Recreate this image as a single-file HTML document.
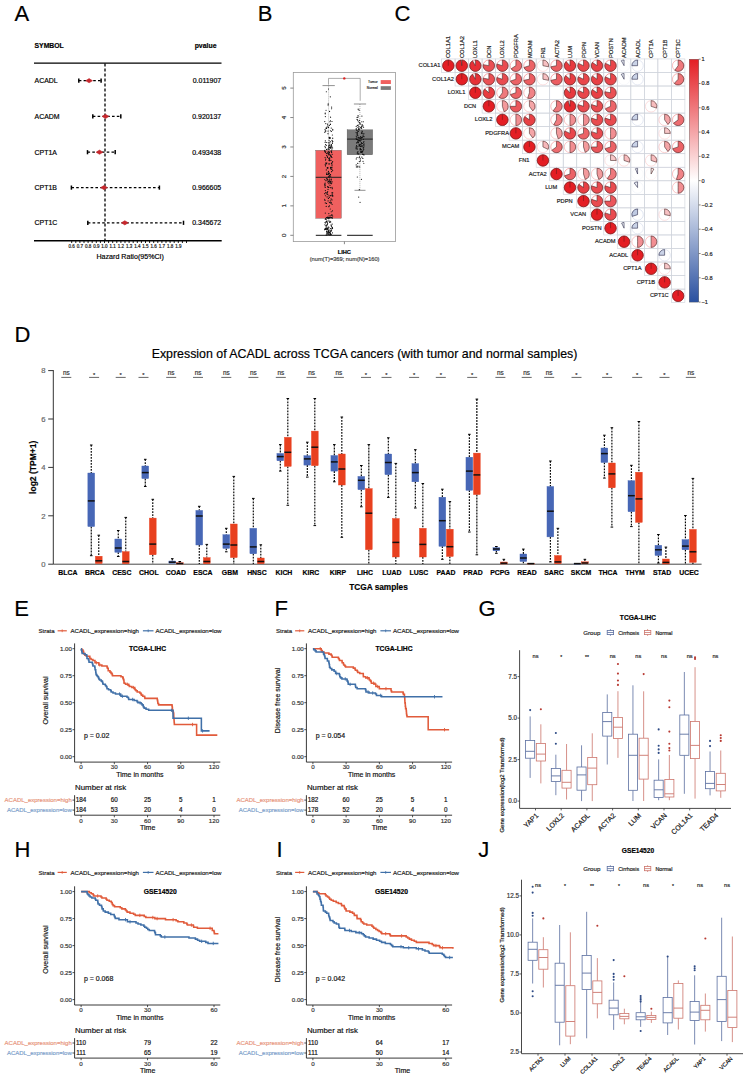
<!DOCTYPE html>
<html><head><meta charset="utf-8"><style>
html,body{margin:0;padding:0;background:#fff;}
body{width:749px;height:1078px;overflow:hidden;position:relative;}
svg{position:absolute;left:0;top:0;display:block;}
text{font-family:"Liberation Sans",sans-serif;stroke:currentColor;stroke-width:0.18px;}
</style></head><body>
<svg width="749" height="1078" viewBox="0 0 749 1078">
<rect x="0" y="0" width="749" height="1078" fill="#fff"/>
<text x="14.4" y="20.6" font-size="22" text-anchor="start" fill="#000" color="#000">A</text>
<text x="257.8" y="20.6" font-size="22" text-anchor="start" fill="#000" color="#000">B</text>
<text x="394.4" y="20.6" font-size="22" text-anchor="start" fill="#000" color="#000">C</text>
<text x="14.4" y="341.6" font-size="22" text-anchor="start" fill="#000" color="#000">D</text>
<text x="14.3" y="615.7" font-size="22" text-anchor="start" fill="#000" color="#000">E</text>
<text x="274.6" y="615.9" font-size="22" text-anchor="start" fill="#000" color="#000">F</text>
<text x="478.4" y="616.2" font-size="22" text-anchor="start" fill="#000" color="#000">G</text>
<text x="14.4" y="856.7" font-size="22" text-anchor="start" fill="#000" color="#000">H</text>
<text x="276.5" y="856.7" font-size="22" text-anchor="start" fill="#000" color="#000">I</text>
<text x="478.2" y="856.7" font-size="22" text-anchor="start" fill="#000" color="#000">J</text>
<text x="34.5" y="48.4" font-size="6.85" text-anchor="start" fill="#000" color="#000" font-weight="bold">SYMBOL</text>
<text x="216.5" y="48" font-size="6.9" text-anchor="end" fill="#000" color="#000" font-weight="bold">pvalue</text>
<line x1="34" y1="63.1" x2="221.5" y2="63.1" stroke="#000" stroke-width="1.4"/>
<line x1="34" y1="240.8" x2="221.7" y2="240.8" stroke="#000" stroke-width="1.4"/>
<line x1="105" y1="63.5" x2="105" y2="240.5" stroke="#000" stroke-width="1.3" stroke-dasharray="3 2"/>
<text x="34.5" y="83.3" font-size="6.95" text-anchor="start" fill="#000" color="#000">ACADL</text>
<text x="221.2" y="83.2" font-size="6.95" text-anchor="end" fill="#000" color="#000">0.011907</text>
<line x1="78.8" y1="80.7" x2="101.1" y2="80.7" stroke="#000" stroke-width="1.2" stroke-dasharray="2.6 2.2"/>
<line x1="78.8" y1="78.6" x2="78.8" y2="82.8" stroke="#000" stroke-width="1.5"/>
<line x1="101.1" y1="78.6" x2="101.1" y2="82.8" stroke="#000" stroke-width="1.5"/>
<path d="M85.7 80.7 L89.1 78.6 L92.5 80.7 L89.1 82.8 Z" stroke="#c0282d" stroke-width="0.6" fill="#c8262c"/>
<text x="34.5" y="119" font-size="6.95" text-anchor="start" fill="#000" color="#000">ACADM</text>
<text x="221.2" y="118.9" font-size="6.95" text-anchor="end" fill="#000" color="#000">0.920137</text>
<line x1="92.8" y1="116.4" x2="120.8" y2="116.4" stroke="#000" stroke-width="1.2" stroke-dasharray="2.6 2.2"/>
<line x1="92.8" y1="114.3" x2="92.8" y2="118.5" stroke="#000" stroke-width="1.5"/>
<line x1="120.8" y1="114.3" x2="120.8" y2="118.5" stroke="#000" stroke-width="1.5"/>
<path d="M102.1 116.4 L105.5 114.3 L108.9 116.4 L105.5 118.5 Z" stroke="#c0282d" stroke-width="0.6" fill="#c8262c"/>
<text x="34.5" y="154.8" font-size="6.95" text-anchor="start" fill="#000" color="#000">CPT1A</text>
<text x="221.2" y="154.7" font-size="6.95" text-anchor="end" fill="#000" color="#000">0.493438</text>
<line x1="87.5" y1="152.2" x2="115.2" y2="152.2" stroke="#000" stroke-width="1.2" stroke-dasharray="2.6 2.2"/>
<line x1="87.5" y1="150.1" x2="87.5" y2="154.3" stroke="#000" stroke-width="1.5"/>
<line x1="115.2" y1="150.1" x2="115.2" y2="154.3" stroke="#000" stroke-width="1.5"/>
<path d="M96.1 152.2 L99.5 150.1 L102.9 152.2 L99.5 154.3 Z" stroke="#c0282d" stroke-width="0.6" fill="#c8262c"/>
<text x="34.5" y="190.2" font-size="6.95" text-anchor="start" fill="#000" color="#000">CPT1B</text>
<text x="221.2" y="190.1" font-size="6.95" text-anchor="end" fill="#000" color="#000">0.966605</text>
<line x1="71.4" y1="187.6" x2="159.4" y2="187.6" stroke="#000" stroke-width="1.2" stroke-dasharray="2.6 2.2"/>
<line x1="71.4" y1="185.5" x2="71.4" y2="189.7" stroke="#000" stroke-width="1.5"/>
<line x1="159.4" y1="185.5" x2="159.4" y2="189.7" stroke="#000" stroke-width="1.5"/>
<path d="M100.6 187.6 L104 185.5 L107.4 187.6 L104 189.7 Z" stroke="#c0282d" stroke-width="0.6" fill="#c8262c"/>
<text x="34.5" y="225.4" font-size="6.95" text-anchor="start" fill="#000" color="#000">CPT1C</text>
<text x="221.2" y="225.3" font-size="6.95" text-anchor="end" fill="#000" color="#000">0.345672</text>
<line x1="87.8" y1="222.8" x2="183.5" y2="222.8" stroke="#000" stroke-width="1.2" stroke-dasharray="2.6 2.2"/>
<line x1="87.8" y1="220.7" x2="87.8" y2="224.9" stroke="#000" stroke-width="1.5"/>
<line x1="183.5" y1="220.7" x2="183.5" y2="224.9" stroke="#000" stroke-width="1.5"/>
<path d="M121.4 222.8 L124.8 220.7 L128.2 222.8 L124.8 224.9 Z" stroke="#c0282d" stroke-width="0.6" fill="#c8262c"/>
<line x1="71.7" y1="240.8" x2="71.7" y2="243" stroke="#000" stroke-width="0.9"/>
<line x1="75.8" y1="240.8" x2="75.8" y2="243" stroke="#000" stroke-width="0.9"/>
<line x1="79.9" y1="240.8" x2="79.9" y2="243" stroke="#000" stroke-width="0.9"/>
<line x1="84" y1="240.8" x2="84" y2="243" stroke="#000" stroke-width="0.9"/>
<line x1="88.1" y1="240.8" x2="88.1" y2="243" stroke="#000" stroke-width="0.9"/>
<line x1="92.2" y1="240.8" x2="92.2" y2="243" stroke="#000" stroke-width="0.9"/>
<line x1="96.3" y1="240.8" x2="96.3" y2="243" stroke="#000" stroke-width="0.9"/>
<line x1="100.4" y1="240.8" x2="100.4" y2="243" stroke="#000" stroke-width="0.9"/>
<line x1="104.5" y1="240.8" x2="104.5" y2="243" stroke="#000" stroke-width="0.9"/>
<line x1="108.6" y1="240.8" x2="108.6" y2="243" stroke="#000" stroke-width="0.9"/>
<line x1="112.7" y1="240.8" x2="112.7" y2="243" stroke="#000" stroke-width="0.9"/>
<line x1="116.8" y1="240.8" x2="116.8" y2="243" stroke="#000" stroke-width="0.9"/>
<line x1="120.9" y1="240.8" x2="120.9" y2="243" stroke="#000" stroke-width="0.9"/>
<line x1="125" y1="240.8" x2="125" y2="243" stroke="#000" stroke-width="0.9"/>
<line x1="129.1" y1="240.8" x2="129.1" y2="243" stroke="#000" stroke-width="0.9"/>
<line x1="133.2" y1="240.8" x2="133.2" y2="243" stroke="#000" stroke-width="0.9"/>
<line x1="137.3" y1="240.8" x2="137.3" y2="243" stroke="#000" stroke-width="0.9"/>
<line x1="141.4" y1="240.8" x2="141.4" y2="243" stroke="#000" stroke-width="0.9"/>
<line x1="145.5" y1="240.8" x2="145.5" y2="243" stroke="#000" stroke-width="0.9"/>
<line x1="149.6" y1="240.8" x2="149.6" y2="243" stroke="#000" stroke-width="0.9"/>
<line x1="153.7" y1="240.8" x2="153.7" y2="243" stroke="#000" stroke-width="0.9"/>
<line x1="157.8" y1="240.8" x2="157.8" y2="243" stroke="#000" stroke-width="0.9"/>
<line x1="161.9" y1="240.8" x2="161.9" y2="243" stroke="#000" stroke-width="0.9"/>
<line x1="166" y1="240.8" x2="166" y2="243" stroke="#000" stroke-width="0.9"/>
<line x1="170.1" y1="240.8" x2="170.1" y2="243" stroke="#000" stroke-width="0.9"/>
<line x1="174.2" y1="240.8" x2="174.2" y2="243" stroke="#000" stroke-width="0.9"/>
<line x1="178.3" y1="240.8" x2="178.3" y2="243" stroke="#000" stroke-width="0.9"/>
<line x1="182.4" y1="240.8" x2="182.4" y2="243" stroke="#000" stroke-width="0.9"/>
<line x1="186.5" y1="240.8" x2="186.5" y2="243" stroke="#000" stroke-width="0.9"/>
<text x="71.7" y="247.9" font-size="4.5" text-anchor="middle" fill="#222" color="#222">0.6</text>
<text x="79.9" y="247.9" font-size="4.5" text-anchor="middle" fill="#222" color="#222">0.7</text>
<text x="88.1" y="247.9" font-size="4.5" text-anchor="middle" fill="#222" color="#222">0.8</text>
<text x="96.3" y="247.9" font-size="4.5" text-anchor="middle" fill="#222" color="#222">0.9</text>
<text x="104.5" y="247.9" font-size="4.5" text-anchor="middle" fill="#222" color="#222">1.0</text>
<text x="112.7" y="247.9" font-size="4.5" text-anchor="middle" fill="#222" color="#222">1.1</text>
<text x="120.9" y="247.9" font-size="4.5" text-anchor="middle" fill="#222" color="#222">1.2</text>
<text x="129.1" y="247.9" font-size="4.5" text-anchor="middle" fill="#222" color="#222">1.3</text>
<text x="137.3" y="247.9" font-size="4.5" text-anchor="middle" fill="#222" color="#222">1.4</text>
<text x="145.5" y="247.9" font-size="4.5" text-anchor="middle" fill="#222" color="#222">1.5</text>
<text x="153.7" y="247.9" font-size="4.5" text-anchor="middle" fill="#222" color="#222">1.6</text>
<text x="161.9" y="247.9" font-size="4.5" text-anchor="middle" fill="#222" color="#222">1.7</text>
<text x="170.1" y="247.9" font-size="4.5" text-anchor="middle" fill="#222" color="#222">1.8</text>
<text x="178.3" y="247.9" font-size="4.5" text-anchor="middle" fill="#222" color="#222">1.9</text>
<text x="130.2" y="259" font-size="7.1" text-anchor="middle" fill="#000" color="#000">Hazard Ratio(95%CI)</text>
<text x="364.5" y="357.8" font-size="12.38" text-anchor="middle" fill="#000" color="#000">Expression of ACADL across TCGA cancers (with tumor and normal samples)</text>
<line x1="53.3" y1="370.1" x2="53.3" y2="564.2" stroke="#333" stroke-width="1"/>
<line x1="48.2" y1="564.2" x2="53.3" y2="564.2" stroke="#333" stroke-width="1"/>
<text x="45.6" y="566.95" font-size="7.7" text-anchor="end" fill="#666" color="#666">0</text>
<line x1="48.2" y1="515.8" x2="53.3" y2="515.8" stroke="#333" stroke-width="1"/>
<text x="45.6" y="518.55" font-size="7.7" text-anchor="end" fill="#666" color="#666">2</text>
<line x1="48.2" y1="467.4" x2="53.3" y2="467.4" stroke="#333" stroke-width="1"/>
<text x="45.6" y="470.15" font-size="7.7" text-anchor="end" fill="#666" color="#666">4</text>
<line x1="48.2" y1="419" x2="53.3" y2="419" stroke="#333" stroke-width="1"/>
<text x="45.6" y="421.75" font-size="7.7" text-anchor="end" fill="#666" color="#666">6</text>
<line x1="48.2" y1="370.6" x2="53.3" y2="370.6" stroke="#333" stroke-width="1"/>
<text x="45.6" y="373.35" font-size="7.7" text-anchor="end" fill="#666" color="#666">8</text>
<text x="36" y="467.3" font-size="8.5" text-anchor="middle" fill="#000" color="#000" font-weight="bold" transform="rotate(-90 36 467.3)">log2 (TPM+1)</text>
<line x1="53.3" y1="564.2" x2="701.6" y2="564.2" stroke="#333" stroke-width="0.9"/>
<text x="67.85" y="574.9" font-size="6.9" text-anchor="middle" fill="#000" color="#000" font-weight="bold">BLCA</text>
<text x="94.86" y="574.9" font-size="6.9" text-anchor="middle" fill="#000" color="#000" font-weight="bold">BRCA</text>
<text x="121.86" y="574.9" font-size="6.9" text-anchor="middle" fill="#000" color="#000" font-weight="bold">CESC</text>
<text x="148.87" y="574.9" font-size="6.9" text-anchor="middle" fill="#000" color="#000" font-weight="bold">CHOL</text>
<text x="175.88" y="574.9" font-size="6.9" text-anchor="middle" fill="#000" color="#000" font-weight="bold">COAD</text>
<text x="202.88" y="574.9" font-size="6.9" text-anchor="middle" fill="#000" color="#000" font-weight="bold">ESCA</text>
<text x="229.89" y="574.9" font-size="6.9" text-anchor="middle" fill="#000" color="#000" font-weight="bold">GBM</text>
<text x="256.9" y="574.9" font-size="6.9" text-anchor="middle" fill="#000" color="#000" font-weight="bold">HNSC</text>
<text x="283.91" y="574.9" font-size="6.9" text-anchor="middle" fill="#000" color="#000" font-weight="bold">KICH</text>
<text x="310.91" y="574.9" font-size="6.9" text-anchor="middle" fill="#000" color="#000" font-weight="bold">KIRC</text>
<text x="337.92" y="574.9" font-size="6.9" text-anchor="middle" fill="#000" color="#000" font-weight="bold">KIRP</text>
<text x="364.93" y="574.9" font-size="6.9" text-anchor="middle" fill="#000" color="#000" font-weight="bold">LIHC</text>
<text x="391.93" y="574.9" font-size="6.9" text-anchor="middle" fill="#000" color="#000" font-weight="bold">LUAD</text>
<text x="418.94" y="574.9" font-size="6.9" text-anchor="middle" fill="#000" color="#000" font-weight="bold">LUSC</text>
<text x="445.95" y="574.9" font-size="6.9" text-anchor="middle" fill="#000" color="#000" font-weight="bold">PAAD</text>
<text x="472.96" y="574.9" font-size="6.9" text-anchor="middle" fill="#000" color="#000" font-weight="bold">PRAD</text>
<text x="499.96" y="574.9" font-size="6.9" text-anchor="middle" fill="#000" color="#000" font-weight="bold">PCPG</text>
<text x="526.97" y="574.9" font-size="6.9" text-anchor="middle" fill="#000" color="#000" font-weight="bold">READ</text>
<text x="553.98" y="574.9" font-size="6.9" text-anchor="middle" fill="#000" color="#000" font-weight="bold">SARC</text>
<text x="580.98" y="574.9" font-size="6.9" text-anchor="middle" fill="#000" color="#000" font-weight="bold">SKCM</text>
<text x="607.99" y="574.9" font-size="6.9" text-anchor="middle" fill="#000" color="#000" font-weight="bold">THCA</text>
<text x="635" y="574.9" font-size="6.9" text-anchor="middle" fill="#000" color="#000" font-weight="bold">THYM</text>
<text x="662" y="574.9" font-size="6.9" text-anchor="middle" fill="#000" color="#000" font-weight="bold">STAD</text>
<text x="689.01" y="574.9" font-size="6.9" text-anchor="middle" fill="#000" color="#000" font-weight="bold">UCEC</text>
<text x="378.5" y="589.8" font-size="8.3" text-anchor="middle" fill="#000" color="#000" font-weight="bold">TCGA samples</text>
<text x="66.3" y="375.3" font-size="6.4" text-anchor="middle" fill="#333" color="#333">ns</text>
<line x1="61.3" y1="377.4" x2="71.3" y2="377.4" stroke="#333" stroke-width="0.75"/>
<text x="94.1" y="377.4" font-size="5.8" text-anchor="middle" fill="#333" color="#333">*</text>
<line x1="89.1" y1="377.4" x2="99.1" y2="377.4" stroke="#333" stroke-width="0.75"/>
<text x="120.7" y="377.4" font-size="5.8" text-anchor="middle" fill="#333" color="#333">*</text>
<line x1="115.7" y1="377.4" x2="125.7" y2="377.4" stroke="#333" stroke-width="0.75"/>
<text x="143.5" y="377.4" font-size="5.8" text-anchor="middle" fill="#333" color="#333">*</text>
<line x1="138.5" y1="377.4" x2="148.5" y2="377.4" stroke="#333" stroke-width="0.75"/>
<text x="171.2" y="375.3" font-size="6.4" text-anchor="middle" fill="#333" color="#333">ns</text>
<line x1="166.2" y1="377.4" x2="176.2" y2="377.4" stroke="#333" stroke-width="0.75"/>
<text x="198" y="375.3" font-size="6.4" text-anchor="middle" fill="#333" color="#333">ns</text>
<line x1="193" y1="377.4" x2="203" y2="377.4" stroke="#333" stroke-width="0.75"/>
<text x="226.3" y="375.3" font-size="6.4" text-anchor="middle" fill="#333" color="#333">ns</text>
<line x1="221.3" y1="377.4" x2="231.3" y2="377.4" stroke="#333" stroke-width="0.75"/>
<text x="253.4" y="375.3" font-size="6.4" text-anchor="middle" fill="#333" color="#333">ns</text>
<line x1="248.4" y1="377.4" x2="258.4" y2="377.4" stroke="#333" stroke-width="0.75"/>
<text x="280.8" y="375.3" font-size="6.4" text-anchor="middle" fill="#333" color="#333">ns</text>
<line x1="275.8" y1="377.4" x2="285.8" y2="377.4" stroke="#333" stroke-width="0.75"/>
<text x="311.5" y="375.3" font-size="6.4" text-anchor="middle" fill="#333" color="#333">ns</text>
<line x1="306.5" y1="377.4" x2="316.5" y2="377.4" stroke="#333" stroke-width="0.75"/>
<text x="338.9" y="375.3" font-size="6.4" text-anchor="middle" fill="#333" color="#333">ns</text>
<line x1="333.9" y1="377.4" x2="343.9" y2="377.4" stroke="#333" stroke-width="0.75"/>
<text x="366" y="377.4" font-size="5.8" text-anchor="middle" fill="#333" color="#333">*</text>
<line x1="361" y1="377.4" x2="371" y2="377.4" stroke="#333" stroke-width="0.75"/>
<text x="386.5" y="377.4" font-size="5.8" text-anchor="middle" fill="#333" color="#333">*</text>
<line x1="381.5" y1="377.4" x2="391.5" y2="377.4" stroke="#333" stroke-width="0.75"/>
<text x="414.1" y="377.4" font-size="5.8" text-anchor="middle" fill="#333" color="#333">*</text>
<line x1="409.1" y1="377.4" x2="419.1" y2="377.4" stroke="#333" stroke-width="0.75"/>
<text x="440.8" y="377.4" font-size="5.8" text-anchor="middle" fill="#333" color="#333">*</text>
<line x1="435.8" y1="377.4" x2="445.8" y2="377.4" stroke="#333" stroke-width="0.75"/>
<text x="472.2" y="377.4" font-size="5.8" text-anchor="middle" fill="#333" color="#333">*</text>
<line x1="467.2" y1="377.4" x2="477.2" y2="377.4" stroke="#333" stroke-width="0.75"/>
<text x="500.4" y="375.3" font-size="6.4" text-anchor="middle" fill="#333" color="#333">ns</text>
<line x1="495.4" y1="377.4" x2="505.4" y2="377.4" stroke="#333" stroke-width="0.75"/>
<text x="526.7" y="375.3" font-size="6.4" text-anchor="middle" fill="#333" color="#333">ns</text>
<line x1="521.7" y1="377.4" x2="531.7" y2="377.4" stroke="#333" stroke-width="0.75"/>
<text x="549.2" y="375.3" font-size="6.4" text-anchor="middle" fill="#333" color="#333">ns</text>
<line x1="544.2" y1="377.4" x2="554.2" y2="377.4" stroke="#333" stroke-width="0.75"/>
<text x="576.5" y="377.4" font-size="5.8" text-anchor="middle" fill="#333" color="#333">*</text>
<line x1="571.5" y1="377.4" x2="581.5" y2="377.4" stroke="#333" stroke-width="0.75"/>
<text x="607.1" y="377.4" font-size="5.8" text-anchor="middle" fill="#333" color="#333">*</text>
<line x1="602.1" y1="377.4" x2="612.1" y2="377.4" stroke="#333" stroke-width="0.75"/>
<text x="637.2" y="377.4" font-size="5.8" text-anchor="middle" fill="#333" color="#333">*</text>
<line x1="632.2" y1="377.4" x2="642.2" y2="377.4" stroke="#333" stroke-width="0.75"/>
<text x="664.5" y="377.4" font-size="5.8" text-anchor="middle" fill="#333" color="#333">*</text>
<line x1="659.5" y1="377.4" x2="669.5" y2="377.4" stroke="#333" stroke-width="0.75"/>
<text x="690.8" y="375.3" font-size="6.4" text-anchor="middle" fill="#333" color="#333">ns</text>
<line x1="685.8" y1="377.4" x2="695.8" y2="377.4" stroke="#333" stroke-width="0.75"/>
<line x1="91.26" y1="445" x2="91.26" y2="473" stroke="#000" stroke-width="1.15" stroke-dasharray="1.8 1.2"/>
<line x1="89.96" y1="445" x2="92.56" y2="445" stroke="#000" stroke-width="1"/>
<line x1="91.26" y1="526.6" x2="91.26" y2="555.7" stroke="#000" stroke-width="1.15" stroke-dasharray="1.8 1.2"/>
<line x1="89.96" y1="555.7" x2="92.56" y2="555.7" stroke="#000" stroke-width="1"/>
<rect x="87.86" y="473" width="6.8" height="53.6" fill="#4767b6" stroke="#4767b6" stroke-width="0.4"/>
<line x1="87.86" y1="500.9" x2="94.66" y2="500.9" stroke="#111" stroke-width="1.5"/>
<line x1="98.76" y1="535.2" x2="98.76" y2="556.2" stroke="#000" stroke-width="1.15" stroke-dasharray="1.8 1.2"/>
<line x1="97.46" y1="535.2" x2="100.06" y2="535.2" stroke="#000" stroke-width="1"/>
<rect x="95.36" y="556.2" width="6.8" height="7.4" fill="#e8401f" stroke="#e8401f" stroke-width="0.4"/>
<line x1="95.36" y1="560.8" x2="102.16" y2="560.8" stroke="#111" stroke-width="1.5"/>
<line x1="118.26" y1="530.5" x2="118.26" y2="539" stroke="#000" stroke-width="1.15" stroke-dasharray="1.8 1.2"/>
<line x1="116.96" y1="530.5" x2="119.56" y2="530.5" stroke="#000" stroke-width="1"/>
<line x1="118.26" y1="552.3" x2="118.26" y2="556.5" stroke="#000" stroke-width="1.15" stroke-dasharray="1.8 1.2"/>
<line x1="116.96" y1="556.5" x2="119.56" y2="556.5" stroke="#000" stroke-width="1"/>
<rect x="114.86" y="539" width="6.8" height="13.3" fill="#4767b6" stroke="#4767b6" stroke-width="0.4"/>
<line x1="114.86" y1="548" x2="121.66" y2="548" stroke="#111" stroke-width="1.5"/>
<line x1="125.76" y1="517.4" x2="125.76" y2="551.6" stroke="#000" stroke-width="1.15" stroke-dasharray="1.8 1.2"/>
<line x1="124.46" y1="517.4" x2="127.06" y2="517.4" stroke="#000" stroke-width="1"/>
<rect x="122.36" y="551.6" width="6.8" height="12.2" fill="#e8401f" stroke="#e8401f" stroke-width="0.4"/>
<line x1="122.36" y1="561.5" x2="129.16" y2="561.5" stroke="#111" stroke-width="1.5"/>
<line x1="145.27" y1="459.3" x2="145.27" y2="466" stroke="#000" stroke-width="1.15" stroke-dasharray="1.8 1.2"/>
<line x1="143.97" y1="459.3" x2="146.57" y2="459.3" stroke="#000" stroke-width="1"/>
<line x1="145.27" y1="478.6" x2="145.27" y2="486.5" stroke="#000" stroke-width="1.15" stroke-dasharray="1.8 1.2"/>
<line x1="143.97" y1="486.5" x2="146.57" y2="486.5" stroke="#000" stroke-width="1"/>
<rect x="141.87" y="466" width="6.8" height="12.6" fill="#4767b6" stroke="#4767b6" stroke-width="0.4"/>
<line x1="141.87" y1="472.6" x2="148.67" y2="472.6" stroke="#111" stroke-width="1.5"/>
<line x1="152.77" y1="499.3" x2="152.77" y2="518.1" stroke="#000" stroke-width="1.15" stroke-dasharray="1.8 1.2"/>
<line x1="151.47" y1="499.3" x2="154.07" y2="499.3" stroke="#000" stroke-width="1"/>
<line x1="152.77" y1="554.8" x2="152.77" y2="564" stroke="#000" stroke-width="1.15" stroke-dasharray="1.8 1.2"/>
<rect x="149.37" y="518.1" width="6.8" height="36.7" fill="#e8401f" stroke="#e8401f" stroke-width="0.4"/>
<line x1="149.37" y1="544.1" x2="156.17" y2="544.1" stroke="#111" stroke-width="1.5"/>
<line x1="172.28" y1="558.7" x2="172.28" y2="561" stroke="#000" stroke-width="1.15" stroke-dasharray="1.8 1.2"/>
<line x1="170.98" y1="558.7" x2="173.58" y2="558.7" stroke="#000" stroke-width="1"/>
<rect x="168.88" y="561" width="6.8" height="2.3" fill="#4767b6" stroke="#4767b6" stroke-width="0.4"/>
<line x1="168.88" y1="562.2" x2="175.68" y2="562.2" stroke="#111" stroke-width="1.5"/>
<line x1="179.78" y1="561.5" x2="179.78" y2="562.8" stroke="#000" stroke-width="1.15" stroke-dasharray="1.8 1.2"/>
<line x1="178.48" y1="561.5" x2="181.08" y2="561.5" stroke="#000" stroke-width="1"/>
<rect x="176.38" y="562.8" width="6.8" height="1.2" fill="#e8401f" stroke="#e8401f" stroke-width="0.4"/>
<line x1="176.38" y1="563.5" x2="183.18" y2="563.5" stroke="#111" stroke-width="1.5"/>
<line x1="199.28" y1="506.3" x2="199.28" y2="510.4" stroke="#000" stroke-width="1.15" stroke-dasharray="1.8 1.2"/>
<line x1="197.98" y1="506.3" x2="200.59" y2="506.3" stroke="#000" stroke-width="1"/>
<line x1="199.28" y1="545" x2="199.28" y2="564" stroke="#000" stroke-width="1.15" stroke-dasharray="1.8 1.2"/>
<rect x="195.88" y="510.4" width="6.8" height="34.6" fill="#4767b6" stroke="#4767b6" stroke-width="0.4"/>
<line x1="195.88" y1="516" x2="202.69" y2="516" stroke="#111" stroke-width="1.5"/>
<line x1="206.78" y1="544.4" x2="206.78" y2="557.6" stroke="#000" stroke-width="1.15" stroke-dasharray="1.8 1.2"/>
<line x1="205.48" y1="544.4" x2="208.09" y2="544.4" stroke="#000" stroke-width="1"/>
<rect x="203.38" y="557.6" width="6.8" height="6.2" fill="#e8401f" stroke="#e8401f" stroke-width="0.4"/>
<line x1="203.38" y1="561.5" x2="210.19" y2="561.5" stroke="#111" stroke-width="1.5"/>
<line x1="226.29" y1="528.3" x2="226.29" y2="534.7" stroke="#000" stroke-width="1.15" stroke-dasharray="1.8 1.2"/>
<line x1="224.99" y1="528.3" x2="227.59" y2="528.3" stroke="#000" stroke-width="1"/>
<line x1="226.29" y1="548.4" x2="226.29" y2="551.8" stroke="#000" stroke-width="1.15" stroke-dasharray="1.8 1.2"/>
<line x1="224.99" y1="551.8" x2="227.59" y2="551.8" stroke="#000" stroke-width="1"/>
<rect x="222.89" y="534.7" width="6.8" height="13.7" fill="#4767b6" stroke="#4767b6" stroke-width="0.4"/>
<line x1="222.89" y1="544.1" x2="229.69" y2="544.1" stroke="#111" stroke-width="1.5"/>
<line x1="233.79" y1="476.4" x2="233.79" y2="524" stroke="#000" stroke-width="1.15" stroke-dasharray="1.8 1.2"/>
<line x1="232.49" y1="476.4" x2="235.09" y2="476.4" stroke="#000" stroke-width="1"/>
<line x1="233.79" y1="557.6" x2="233.79" y2="564" stroke="#000" stroke-width="1.15" stroke-dasharray="1.8 1.2"/>
<rect x="230.39" y="524" width="6.8" height="33.6" fill="#e8401f" stroke="#e8401f" stroke-width="0.4"/>
<line x1="230.39" y1="545" x2="237.19" y2="545" stroke="#111" stroke-width="1.5"/>
<line x1="253.3" y1="498.4" x2="253.3" y2="528.3" stroke="#000" stroke-width="1.15" stroke-dasharray="1.8 1.2"/>
<line x1="252" y1="498.4" x2="254.6" y2="498.4" stroke="#000" stroke-width="1"/>
<line x1="253.3" y1="553.8" x2="253.3" y2="564" stroke="#000" stroke-width="1.15" stroke-dasharray="1.8 1.2"/>
<rect x="249.9" y="528.3" width="6.8" height="25.5" fill="#4767b6" stroke="#4767b6" stroke-width="0.4"/>
<line x1="249.9" y1="546.9" x2="256.7" y2="546.9" stroke="#111" stroke-width="1.5"/>
<line x1="260.8" y1="544.8" x2="260.8" y2="558" stroke="#000" stroke-width="1.15" stroke-dasharray="1.8 1.2"/>
<line x1="259.5" y1="544.8" x2="262.1" y2="544.8" stroke="#000" stroke-width="1"/>
<rect x="257.4" y="558" width="6.8" height="5.8" fill="#e8401f" stroke="#e8401f" stroke-width="0.4"/>
<line x1="257.4" y1="561.5" x2="264.2" y2="561.5" stroke="#111" stroke-width="1.5"/>
<line x1="280.31" y1="444.6" x2="280.31" y2="453.4" stroke="#000" stroke-width="1.15" stroke-dasharray="1.8 1.2"/>
<line x1="279.01" y1="444.6" x2="281.61" y2="444.6" stroke="#000" stroke-width="1"/>
<line x1="280.31" y1="460.8" x2="280.31" y2="471.1" stroke="#000" stroke-width="1.15" stroke-dasharray="1.8 1.2"/>
<line x1="279.01" y1="471.1" x2="281.61" y2="471.1" stroke="#000" stroke-width="1"/>
<rect x="276.91" y="453.4" width="6.8" height="7.4" fill="#4767b6" stroke="#4767b6" stroke-width="0.4"/>
<line x1="276.91" y1="456.6" x2="283.71" y2="456.6" stroke="#111" stroke-width="1.5"/>
<line x1="287.81" y1="398.5" x2="287.81" y2="437.3" stroke="#000" stroke-width="1.15" stroke-dasharray="1.8 1.2"/>
<line x1="286.51" y1="398.5" x2="289.11" y2="398.5" stroke="#000" stroke-width="1"/>
<line x1="287.81" y1="466.4" x2="287.81" y2="505.3" stroke="#000" stroke-width="1.15" stroke-dasharray="1.8 1.2"/>
<line x1="286.51" y1="505.3" x2="289.11" y2="505.3" stroke="#000" stroke-width="1"/>
<rect x="284.41" y="437.3" width="6.8" height="29.1" fill="#e8401f" stroke="#e8401f" stroke-width="0.4"/>
<line x1="284.41" y1="452.3" x2="291.21" y2="452.3" stroke="#111" stroke-width="1.5"/>
<line x1="307.31" y1="442.2" x2="307.31" y2="455.7" stroke="#000" stroke-width="1.15" stroke-dasharray="1.8 1.2"/>
<line x1="306.01" y1="442.2" x2="308.61" y2="442.2" stroke="#000" stroke-width="1"/>
<line x1="307.31" y1="465.1" x2="307.31" y2="477.1" stroke="#000" stroke-width="1.15" stroke-dasharray="1.8 1.2"/>
<line x1="306.01" y1="477.1" x2="308.61" y2="477.1" stroke="#000" stroke-width="1"/>
<rect x="303.91" y="455.7" width="6.8" height="9.4" fill="#4767b6" stroke="#4767b6" stroke-width="0.4"/>
<line x1="303.91" y1="458.9" x2="310.71" y2="458.9" stroke="#111" stroke-width="1.5"/>
<line x1="314.81" y1="398.5" x2="314.81" y2="431.1" stroke="#000" stroke-width="1.15" stroke-dasharray="1.8 1.2"/>
<line x1="313.51" y1="398.5" x2="316.11" y2="398.5" stroke="#000" stroke-width="1"/>
<line x1="314.81" y1="465.7" x2="314.81" y2="525.6" stroke="#000" stroke-width="1.15" stroke-dasharray="1.8 1.2"/>
<line x1="313.51" y1="525.6" x2="316.11" y2="525.6" stroke="#000" stroke-width="1"/>
<rect x="311.41" y="431.1" width="6.8" height="34.6" fill="#e8401f" stroke="#e8401f" stroke-width="0.4"/>
<line x1="311.41" y1="447.2" x2="318.21" y2="447.2" stroke="#111" stroke-width="1.5"/>
<line x1="334.32" y1="444.6" x2="334.32" y2="455.5" stroke="#000" stroke-width="1.15" stroke-dasharray="1.8 1.2"/>
<line x1="333.02" y1="444.6" x2="335.62" y2="444.6" stroke="#000" stroke-width="1"/>
<line x1="334.32" y1="471.1" x2="334.32" y2="481.8" stroke="#000" stroke-width="1.15" stroke-dasharray="1.8 1.2"/>
<line x1="333.02" y1="481.8" x2="335.62" y2="481.8" stroke="#000" stroke-width="1"/>
<rect x="330.92" y="455.5" width="6.8" height="15.6" fill="#4767b6" stroke="#4767b6" stroke-width="0.4"/>
<line x1="330.92" y1="461.9" x2="337.72" y2="461.9" stroke="#111" stroke-width="1.5"/>
<line x1="341.82" y1="417" x2="341.82" y2="454" stroke="#000" stroke-width="1.15" stroke-dasharray="1.8 1.2"/>
<line x1="340.52" y1="417" x2="343.12" y2="417" stroke="#000" stroke-width="1"/>
<line x1="341.82" y1="485" x2="341.82" y2="537.3" stroke="#000" stroke-width="1.15" stroke-dasharray="1.8 1.2"/>
<line x1="340.52" y1="537.3" x2="343.12" y2="537.3" stroke="#000" stroke-width="1"/>
<rect x="338.42" y="454" width="6.8" height="31" fill="#e8401f" stroke="#e8401f" stroke-width="0.4"/>
<line x1="338.42" y1="469" x2="345.22" y2="469" stroke="#111" stroke-width="1.5"/>
<line x1="361.33" y1="465.5" x2="361.33" y2="476.4" stroke="#000" stroke-width="1.15" stroke-dasharray="1.8 1.2"/>
<line x1="360.03" y1="465.5" x2="362.63" y2="465.5" stroke="#000" stroke-width="1"/>
<line x1="361.33" y1="489.7" x2="361.33" y2="506.8" stroke="#000" stroke-width="1.15" stroke-dasharray="1.8 1.2"/>
<line x1="360.03" y1="506.8" x2="362.63" y2="506.8" stroke="#000" stroke-width="1"/>
<rect x="357.93" y="476.4" width="6.8" height="13.3" fill="#4767b6" stroke="#4767b6" stroke-width="0.4"/>
<line x1="357.93" y1="480.3" x2="364.73" y2="480.3" stroke="#111" stroke-width="1.5"/>
<line x1="368.83" y1="444.6" x2="368.83" y2="488.6" stroke="#000" stroke-width="1.15" stroke-dasharray="1.8 1.2"/>
<line x1="367.53" y1="444.6" x2="370.13" y2="444.6" stroke="#000" stroke-width="1"/>
<line x1="368.83" y1="549.7" x2="368.83" y2="564" stroke="#000" stroke-width="1.15" stroke-dasharray="1.8 1.2"/>
<rect x="365.43" y="488.6" width="6.8" height="61.1" fill="#e8401f" stroke="#e8401f" stroke-width="0.4"/>
<line x1="365.43" y1="513.2" x2="372.23" y2="513.2" stroke="#111" stroke-width="1.5"/>
<line x1="388.33" y1="437.8" x2="388.33" y2="454" stroke="#000" stroke-width="1.15" stroke-dasharray="1.8 1.2"/>
<line x1="387.03" y1="437.8" x2="389.63" y2="437.8" stroke="#000" stroke-width="1"/>
<line x1="388.33" y1="474.7" x2="388.33" y2="497.4" stroke="#000" stroke-width="1.15" stroke-dasharray="1.8 1.2"/>
<line x1="387.03" y1="497.4" x2="389.63" y2="497.4" stroke="#000" stroke-width="1"/>
<rect x="384.93" y="454" width="6.8" height="20.7" fill="#4767b6" stroke="#4767b6" stroke-width="0.4"/>
<line x1="384.93" y1="462.5" x2="391.73" y2="462.5" stroke="#111" stroke-width="1.5"/>
<line x1="395.83" y1="463.4" x2="395.83" y2="518.5" stroke="#000" stroke-width="1.15" stroke-dasharray="1.8 1.2"/>
<line x1="394.53" y1="463.4" x2="397.13" y2="463.4" stroke="#000" stroke-width="1"/>
<line x1="395.83" y1="557" x2="395.83" y2="564" stroke="#000" stroke-width="1.15" stroke-dasharray="1.8 1.2"/>
<rect x="392.43" y="518.5" width="6.8" height="38.5" fill="#e8401f" stroke="#e8401f" stroke-width="0.4"/>
<line x1="392.43" y1="542.4" x2="399.23" y2="542.4" stroke="#111" stroke-width="1.5"/>
<line x1="415.34" y1="449.7" x2="415.34" y2="463.6" stroke="#000" stroke-width="1.15" stroke-dasharray="1.8 1.2"/>
<line x1="414.04" y1="449.7" x2="416.64" y2="449.7" stroke="#000" stroke-width="1"/>
<line x1="415.34" y1="481.8" x2="415.34" y2="508" stroke="#000" stroke-width="1.15" stroke-dasharray="1.8 1.2"/>
<line x1="414.04" y1="508" x2="416.64" y2="508" stroke="#000" stroke-width="1"/>
<rect x="411.94" y="463.6" width="6.8" height="18.2" fill="#4767b6" stroke="#4767b6" stroke-width="0.4"/>
<line x1="411.94" y1="472.6" x2="418.74" y2="472.6" stroke="#111" stroke-width="1.5"/>
<line x1="422.84" y1="483.5" x2="422.84" y2="528.3" stroke="#000" stroke-width="1.15" stroke-dasharray="1.8 1.2"/>
<line x1="421.54" y1="483.5" x2="424.14" y2="483.5" stroke="#000" stroke-width="1"/>
<line x1="422.84" y1="557" x2="422.84" y2="564" stroke="#000" stroke-width="1.15" stroke-dasharray="1.8 1.2"/>
<rect x="419.44" y="528.3" width="6.8" height="28.7" fill="#e8401f" stroke="#e8401f" stroke-width="0.4"/>
<line x1="419.44" y1="544.4" x2="426.24" y2="544.4" stroke="#111" stroke-width="1.5"/>
<line x1="442.35" y1="489.2" x2="442.35" y2="497.2" stroke="#000" stroke-width="1.15" stroke-dasharray="1.8 1.2"/>
<line x1="441.05" y1="489.2" x2="443.65" y2="489.2" stroke="#000" stroke-width="1"/>
<line x1="442.35" y1="546.3" x2="442.35" y2="559.3" stroke="#000" stroke-width="1.15" stroke-dasharray="1.8 1.2"/>
<line x1="441.05" y1="559.3" x2="443.65" y2="559.3" stroke="#000" stroke-width="1"/>
<rect x="438.95" y="497.2" width="6.8" height="49.1" fill="#4767b6" stroke="#4767b6" stroke-width="0.4"/>
<line x1="438.95" y1="520.7" x2="445.75" y2="520.7" stroke="#111" stroke-width="1.5"/>
<line x1="449.85" y1="501.6" x2="449.85" y2="529.2" stroke="#000" stroke-width="1.15" stroke-dasharray="1.8 1.2"/>
<line x1="448.55" y1="501.6" x2="451.15" y2="501.6" stroke="#000" stroke-width="1"/>
<line x1="449.85" y1="556.5" x2="449.85" y2="564" stroke="#000" stroke-width="1.15" stroke-dasharray="1.8 1.2"/>
<rect x="446.45" y="529.2" width="6.8" height="27.3" fill="#e8401f" stroke="#e8401f" stroke-width="0.4"/>
<line x1="446.45" y1="546.7" x2="453.25" y2="546.7" stroke="#111" stroke-width="1.5"/>
<line x1="469.36" y1="434.3" x2="469.36" y2="457.2" stroke="#000" stroke-width="1.15" stroke-dasharray="1.8 1.2"/>
<line x1="468.06" y1="434.3" x2="470.66" y2="434.3" stroke="#000" stroke-width="1"/>
<line x1="469.36" y1="490.3" x2="469.36" y2="532" stroke="#000" stroke-width="1.15" stroke-dasharray="1.8 1.2"/>
<line x1="468.06" y1="532" x2="470.66" y2="532" stroke="#000" stroke-width="1"/>
<rect x="465.96" y="457.2" width="6.8" height="33.1" fill="#4767b6" stroke="#4767b6" stroke-width="0.4"/>
<line x1="465.96" y1="471.1" x2="472.76" y2="471.1" stroke="#111" stroke-width="1.5"/>
<line x1="476.86" y1="399.1" x2="476.86" y2="453.1" stroke="#000" stroke-width="1.15" stroke-dasharray="1.8 1.2"/>
<line x1="475.56" y1="399.1" x2="478.16" y2="399.1" stroke="#000" stroke-width="1"/>
<line x1="476.86" y1="494.6" x2="476.86" y2="554.8" stroke="#000" stroke-width="1.15" stroke-dasharray="1.8 1.2"/>
<line x1="475.56" y1="554.8" x2="478.16" y2="554.8" stroke="#000" stroke-width="1"/>
<rect x="473.46" y="453.1" width="6.8" height="41.5" fill="#e8401f" stroke="#e8401f" stroke-width="0.4"/>
<line x1="473.46" y1="474.9" x2="480.26" y2="474.9" stroke="#111" stroke-width="1.5"/>
<line x1="496.36" y1="546.5" x2="496.36" y2="547.6" stroke="#000" stroke-width="1.15" stroke-dasharray="1.8 1.2"/>
<line x1="495.06" y1="546.5" x2="497.66" y2="546.5" stroke="#000" stroke-width="1"/>
<line x1="496.36" y1="550.8" x2="496.36" y2="553.3" stroke="#000" stroke-width="1.15" stroke-dasharray="1.8 1.2"/>
<line x1="495.06" y1="553.3" x2="497.66" y2="553.3" stroke="#000" stroke-width="1"/>
<rect x="492.96" y="547.6" width="6.8" height="3.2" fill="#4767b6" stroke="#4767b6" stroke-width="0.4"/>
<line x1="492.96" y1="549" x2="499.76" y2="549" stroke="#111" stroke-width="1.5"/>
<line x1="503.86" y1="559.3" x2="503.86" y2="562" stroke="#000" stroke-width="1.15" stroke-dasharray="1.8 1.2"/>
<line x1="502.56" y1="559.3" x2="505.16" y2="559.3" stroke="#000" stroke-width="1"/>
<rect x="500.46" y="562" width="6.8" height="2" fill="#e8401f" stroke="#e8401f" stroke-width="0.4"/>
<line x1="500.46" y1="563.2" x2="507.26" y2="563.2" stroke="#111" stroke-width="1.5"/>
<line x1="523.37" y1="549.1" x2="523.37" y2="554" stroke="#000" stroke-width="1.15" stroke-dasharray="1.8 1.2"/>
<line x1="522.07" y1="549.1" x2="524.67" y2="549.1" stroke="#000" stroke-width="1"/>
<line x1="523.37" y1="561.5" x2="523.37" y2="564" stroke="#000" stroke-width="1.15" stroke-dasharray="1.8 1.2"/>
<rect x="519.97" y="554" width="6.8" height="7.5" fill="#4767b6" stroke="#4767b6" stroke-width="0.4"/>
<line x1="519.97" y1="558" x2="526.77" y2="558" stroke="#111" stroke-width="1.5"/>
<rect x="527.47" y="563.2" width="6.8" height="0.8" fill="#e8401f" stroke="#e8401f" stroke-width="0.4"/>
<line x1="527.47" y1="563.6" x2="534.27" y2="563.6" stroke="#111" stroke-width="1.5"/>
<line x1="550.38" y1="461" x2="550.38" y2="486.5" stroke="#000" stroke-width="1.15" stroke-dasharray="1.8 1.2"/>
<line x1="549.08" y1="461" x2="551.68" y2="461" stroke="#000" stroke-width="1"/>
<line x1="550.38" y1="536.9" x2="550.38" y2="561.9" stroke="#000" stroke-width="1.15" stroke-dasharray="1.8 1.2"/>
<line x1="549.08" y1="561.9" x2="551.68" y2="561.9" stroke="#000" stroke-width="1"/>
<rect x="546.98" y="486.5" width="6.8" height="50.4" fill="#4767b6" stroke="#4767b6" stroke-width="0.4"/>
<line x1="546.98" y1="511.2" x2="553.78" y2="511.2" stroke="#111" stroke-width="1.5"/>
<line x1="557.88" y1="528.3" x2="557.88" y2="555.5" stroke="#000" stroke-width="1.15" stroke-dasharray="1.8 1.2"/>
<line x1="556.58" y1="528.3" x2="559.18" y2="528.3" stroke="#000" stroke-width="1"/>
<rect x="554.48" y="555.5" width="6.8" height="8.3" fill="#e8401f" stroke="#e8401f" stroke-width="0.4"/>
<line x1="554.48" y1="561.9" x2="561.28" y2="561.9" stroke="#111" stroke-width="1.5"/>
<rect x="573.98" y="563.3" width="6.8" height="0.8" fill="#4767b6" stroke="#4767b6" stroke-width="0.4"/>
<line x1="573.98" y1="563.6" x2="580.78" y2="563.6" stroke="#111" stroke-width="1.5"/>
<line x1="584.88" y1="559.3" x2="584.88" y2="561.8" stroke="#000" stroke-width="1.15" stroke-dasharray="1.8 1.2"/>
<line x1="583.58" y1="559.3" x2="586.18" y2="559.3" stroke="#000" stroke-width="1"/>
<rect x="581.48" y="561.8" width="6.8" height="2" fill="#e8401f" stroke="#e8401f" stroke-width="0.4"/>
<line x1="581.48" y1="563" x2="588.28" y2="563" stroke="#111" stroke-width="1.5"/>
<line x1="604.39" y1="435.2" x2="604.39" y2="448" stroke="#000" stroke-width="1.15" stroke-dasharray="1.8 1.2"/>
<line x1="603.09" y1="435.2" x2="605.69" y2="435.2" stroke="#000" stroke-width="1"/>
<line x1="604.39" y1="462.5" x2="604.39" y2="478.1" stroke="#000" stroke-width="1.15" stroke-dasharray="1.8 1.2"/>
<line x1="603.09" y1="478.1" x2="605.69" y2="478.1" stroke="#000" stroke-width="1"/>
<rect x="600.99" y="448" width="6.8" height="14.5" fill="#4767b6" stroke="#4767b6" stroke-width="0.4"/>
<line x1="600.99" y1="453.6" x2="607.79" y2="453.6" stroke="#111" stroke-width="1.5"/>
<line x1="611.89" y1="427.7" x2="611.89" y2="463" stroke="#000" stroke-width="1.15" stroke-dasharray="1.8 1.2"/>
<line x1="610.59" y1="427.7" x2="613.19" y2="427.7" stroke="#000" stroke-width="1"/>
<line x1="611.89" y1="487.8" x2="611.89" y2="527.1" stroke="#000" stroke-width="1.15" stroke-dasharray="1.8 1.2"/>
<line x1="610.59" y1="527.1" x2="613.19" y2="527.1" stroke="#000" stroke-width="1"/>
<rect x="608.49" y="463" width="6.8" height="24.8" fill="#e8401f" stroke="#e8401f" stroke-width="0.4"/>
<line x1="608.49" y1="473.9" x2="615.29" y2="473.9" stroke="#111" stroke-width="1.5"/>
<line x1="631.4" y1="465.3" x2="631.4" y2="480.7" stroke="#000" stroke-width="1.15" stroke-dasharray="1.8 1.2"/>
<line x1="630.1" y1="465.3" x2="632.7" y2="465.3" stroke="#000" stroke-width="1"/>
<line x1="631.4" y1="511.7" x2="631.4" y2="526.6" stroke="#000" stroke-width="1.15" stroke-dasharray="1.8 1.2"/>
<line x1="630.1" y1="526.6" x2="632.7" y2="526.6" stroke="#000" stroke-width="1"/>
<rect x="628" y="480.7" width="6.8" height="31" fill="#4767b6" stroke="#4767b6" stroke-width="0.4"/>
<line x1="628" y1="495.7" x2="634.8" y2="495.7" stroke="#111" stroke-width="1.5"/>
<line x1="638.9" y1="421.5" x2="638.9" y2="472.2" stroke="#000" stroke-width="1.15" stroke-dasharray="1.8 1.2"/>
<line x1="637.6" y1="421.5" x2="640.2" y2="421.5" stroke="#000" stroke-width="1"/>
<line x1="638.9" y1="522.4" x2="638.9" y2="564" stroke="#000" stroke-width="1.15" stroke-dasharray="1.8 1.2"/>
<rect x="635.5" y="472.2" width="6.8" height="50.2" fill="#e8401f" stroke="#e8401f" stroke-width="0.4"/>
<line x1="635.5" y1="498.9" x2="642.3" y2="498.9" stroke="#111" stroke-width="1.5"/>
<line x1="658.4" y1="534.5" x2="658.4" y2="545.3" stroke="#000" stroke-width="1.15" stroke-dasharray="1.8 1.2"/>
<line x1="657.1" y1="534.5" x2="659.7" y2="534.5" stroke="#000" stroke-width="1"/>
<line x1="658.4" y1="555.5" x2="658.4" y2="563" stroke="#000" stroke-width="1.15" stroke-dasharray="1.8 1.2"/>
<line x1="657.1" y1="563" x2="659.7" y2="563" stroke="#000" stroke-width="1"/>
<rect x="655" y="545.3" width="6.8" height="10.2" fill="#4767b6" stroke="#4767b6" stroke-width="0.4"/>
<line x1="655" y1="549.8" x2="661.8" y2="549.8" stroke="#111" stroke-width="1.5"/>
<line x1="665.9" y1="547.1" x2="665.9" y2="559" stroke="#000" stroke-width="1.15" stroke-dasharray="1.8 1.2"/>
<line x1="664.6" y1="547.1" x2="667.2" y2="547.1" stroke="#000" stroke-width="1"/>
<rect x="662.5" y="559" width="6.8" height="5" fill="#e8401f" stroke="#e8401f" stroke-width="0.4"/>
<line x1="662.5" y1="562.4" x2="669.3" y2="562.4" stroke="#111" stroke-width="1.5"/>
<line x1="685.41" y1="515.5" x2="685.41" y2="539.6" stroke="#000" stroke-width="1.15" stroke-dasharray="1.8 1.2"/>
<line x1="684.11" y1="515.5" x2="686.71" y2="515.5" stroke="#000" stroke-width="1"/>
<line x1="685.41" y1="549.8" x2="685.41" y2="563.7" stroke="#000" stroke-width="1.15" stroke-dasharray="1.8 1.2"/>
<rect x="682.01" y="539.6" width="6.8" height="10.2" fill="#4767b6" stroke="#4767b6" stroke-width="0.4"/>
<line x1="682.01" y1="546.1" x2="688.81" y2="546.1" stroke="#111" stroke-width="1.5"/>
<line x1="692.91" y1="478.4" x2="692.91" y2="529.4" stroke="#000" stroke-width="1.15" stroke-dasharray="1.8 1.2"/>
<line x1="691.61" y1="478.4" x2="694.21" y2="478.4" stroke="#000" stroke-width="1"/>
<line x1="692.91" y1="562.4" x2="692.91" y2="564" stroke="#000" stroke-width="1.15" stroke-dasharray="1.8 1.2"/>
<rect x="689.51" y="529.4" width="6.8" height="33" fill="#e8401f" stroke="#e8401f" stroke-width="0.4"/>
<line x1="689.51" y1="551.8" x2="696.31" y2="551.8" stroke="#111" stroke-width="1.5"/>
<rect x="293.3" y="72.4" width="102.2" height="169.2" fill="none" stroke="#9a9a9a" stroke-width="0.8"/>
<line x1="290.3" y1="235.3" x2="293.3" y2="235.3" stroke="#555" stroke-width="0.7"/>
<text x="285.6" y="235.3" font-size="6.2" text-anchor="middle" fill="#333" color="#333" transform="rotate(-90 285.6 235.3)">0</text>
<line x1="290.3" y1="205.86" x2="293.3" y2="205.86" stroke="#555" stroke-width="0.7"/>
<text x="285.6" y="205.86" font-size="6.2" text-anchor="middle" fill="#333" color="#333" transform="rotate(-90 285.6 205.86)">1</text>
<line x1="290.3" y1="176.42" x2="293.3" y2="176.42" stroke="#555" stroke-width="0.7"/>
<text x="285.6" y="176.42" font-size="6.2" text-anchor="middle" fill="#333" color="#333" transform="rotate(-90 285.6 176.42)">2</text>
<line x1="290.3" y1="146.98" x2="293.3" y2="146.98" stroke="#555" stroke-width="0.7"/>
<text x="285.6" y="146.98" font-size="6.2" text-anchor="middle" fill="#333" color="#333" transform="rotate(-90 285.6 146.98)">3</text>
<line x1="290.3" y1="117.54" x2="293.3" y2="117.54" stroke="#555" stroke-width="0.7"/>
<text x="285.6" y="117.54" font-size="6.2" text-anchor="middle" fill="#333" color="#333" transform="rotate(-90 285.6 117.54)">4</text>
<line x1="290.3" y1="88.1" x2="293.3" y2="88.1" stroke="#555" stroke-width="0.7"/>
<text x="285.6" y="88.1" font-size="6.2" text-anchor="middle" fill="#333" color="#333" transform="rotate(-90 285.6 88.1)">5</text>
<line x1="344.4" y1="241.6" x2="344.4" y2="244.2" stroke="#555" stroke-width="0.7"/>
<text x="344.3" y="254.3" font-size="5.7" text-anchor="middle" fill="#000" color="#000" font-weight="bold">LIHC</text>
<text x="344.6" y="261.3" font-size="5.7" text-anchor="middle" fill="#444" color="#444">(num(T)=369; num(N)=160)</text>
<rect x="315.8" y="150.3" width="25.6" height="68" fill="#f0605f" stroke="#444" stroke-width="0.3"/>
<line x1="315.8" y1="177.3" x2="341.4" y2="177.3" stroke="#222" stroke-width="1"/>
<rect x="347.1" y="129.8" width="25.6" height="25" fill="#7b7b7b" stroke="#444" stroke-width="0.3"/>
<line x1="347.1" y1="139.1" x2="372.7" y2="139.1" stroke="#222" stroke-width="1"/>
<line x1="328.6" y1="85.6" x2="328.6" y2="150.3" stroke="#666" stroke-width="0.5" stroke-dasharray="1 1"/>
<line x1="322.5" y1="85.6" x2="334.8" y2="85.6" stroke="#444" stroke-width="0.6"/>
<line x1="359.9" y1="104" x2="359.9" y2="129.8" stroke="#666" stroke-width="0.5" stroke-dasharray="1 1"/>
<line x1="353.9" y1="104" x2="366.1" y2="104" stroke="#444" stroke-width="0.6"/>
<line x1="359.9" y1="154.8" x2="359.9" y2="190.3" stroke="#666" stroke-width="0.5" stroke-dasharray="1 1"/>
<line x1="354.5" y1="190.3" x2="365.5" y2="190.3" stroke="#444" stroke-width="0.6"/>
<line x1="315.8" y1="235.3" x2="341.4" y2="235.3" stroke="#111" stroke-width="1"/>
<line x1="347.1" y1="235.3" x2="372.7" y2="235.3" stroke="#111" stroke-width="1"/>
<path d="M328.5 84.7 L328.5 78.4 L360.2 78.4 L360.2 100.8" stroke="#777" stroke-width="0.6" fill="none"/>
<circle cx="344.3" cy="78.4" r="1.2" fill="#e02020" stroke="none" stroke-width="1"/>
<text x="377.7" y="83.2" font-size="3.4" text-anchor="end" fill="#333" color="#333">Tumor</text>
<rect x="380.7" y="80.1" width="10.2" height="3.9" fill="#f0605f" stroke="none" stroke-width="1"/>
<text x="377.7" y="89.4" font-size="3.4" text-anchor="end" fill="#333" color="#333">Normal</text>
<rect x="380.7" y="86.2" width="10.2" height="3.7" fill="#7b7b7b" stroke="none" stroke-width="1"/>
<path d="M328.42 217.64h0.01M329.42 197.51h0.01M329.77 221.16h0.01M325.34 147.67h0.01M330.29 155.18h0.01M332.51 228.07h0.01M324.72 184.71h0.01M325.09 183.12h0.01M324.85 224.73h0.01M328.86 217.64h0.01M328.7 147.81h0.01M332.78 195.75h0.01M331.49 163.61h0.01M326.97 179.86h0.01M327.88 229.66h0.01M327.77 149.08h0.01M326.32 169.92h0.01M328.45 171.41h0.01M329.76 180.61h0.01M326.81 162.95h0.01M332.51 232.85h0.01M325.43 152.57h0.01M326.06 229.43h0.01M328.27 154.08h0.01M325.67 218.24h0.01M326.35 145.36h0.01M332.56 147.91h0.01M326.33 193h0.01M331.61 107.06h0.01M326.35 91.73h0.01M327.3 217.7h0.01M325.2 113.02h0.01M326.59 231.01h0.01M332.46 195.17h0.01M329.31 144.85h0.01M332.05 162.86h0.01M326.65 153.44h0.01M332.31 218.14h0.01M331.83 215.35h0.01M324.92 183.89h0.01M326.55 163.35h0.01M329.49 173.18h0.01M326.04 110.25h0.01M329.19 149.36h0.01M329.64 160.77h0.01M324.74 151.54h0.01M328.25 181.39h0.01M327.62 234h0.01M331.91 149.73h0.01M329.99 147.94h0.01M324.89 185.89h0.01M330.35 228.6h0.01M324.77 179.54h0.01M327.22 217.64h0.01M325.22 164.69h0.01M330.64 176.2h0.01M331.1 217.64h0.01M331.99 199.93h0.01M328.02 131.04h0.01M329.72 142.91h0.01M329.38 202.48h0.01M332.75 130.03h0.01M330.57 148.2h0.01M328.21 174.54h0.01M325.29 213.06h0.01M328.54 127.38h0.01M328.68 218.69h0.01M332.15 162.36h0.01M327.07 227.79h0.01M332.03 164.74h0.01M328.22 151.66h0.01M326.23 192.83h0.01M331.21 128.08h0.01M329.38 147.24h0.01M325.72 192.33h0.01M330.43 137.78h0.01M326.87 217.64h0.01M326.86 221.97h0.01M329.73 222.46h0.01M332.65 195.25h0.01M325.21 113.78h0.01M324.94 228.88h0.01M331.09 195.68h0.01M328.33 234.3h0.01M326.55 229.19h0.01M329.76 234.95h0.01M329.77 182.48h0.01M330.21 141.71h0.01M326.07 221.65h0.01M330.46 231.82h0.01M327.44 224.33h0.01M328.87 217.64h0.01M331.09 169.27h0.01M325.32 202.89h0.01M328.32 173.48h0.01M332.06 187.36h0.01M331.13 217.64h0.01M328.4 198.44h0.01M331.31 156.04h0.01M330.48 120.79h0.01M332.64 216.02h0.01M327.23 217.64h0.01M331.62 183.71h0.01M329.11 140.23h0.01M328.6 153.18h0.01M325.13 229.34h0.01M331.06 156.91h0.01M328.84 234.21h0.01M331.49 144.65h0.01M332.38 134.98h0.01M328.92 233.67h0.01M330.58 183.14h0.01M329.19 217.64h0.01M327.73 179.43h0.01M331.58 152.59h0.01M328.9 183.48h0.01M328.73 158.36h0.01M324.83 132.29h0.01M331.17 203.13h0.01M328.63 173.82h0.01M327.99 133.65h0.01M332.17 154.32h0.01M328.16 187.17h0.01M331.98 167.7h0.01M329.67 179.19h0.01M325.66 151.27h0.01M326.46 149.47h0.01M327.24 167.5h0.01M330.59 181.66h0.01M326.65 231.54h0.01M328.18 220.91h0.01M327.99 180.95h0.01M329.78 158.77h0.01M328.94 152.07h0.01M326.51 217.64h0.01M331.25 211.75h0.01M332.17 181.86h0.01M331.88 214.71h0.01M330.56 233.54h0.01M331.42 226.65h0.01M331.08 144.74h0.01M330.22 232.34h0.01M330.2 233.82h0.01M328.75 154.81h0.01M328.72 173.7h0.01M325.47 165.9h0.01M328.82 231.24h0.01M325.8 159.04h0.01M331.49 225.24h0.01M325.11 157.54h0.01M328.39 176.96h0.01M328.83 187.39h0.01M329.53 138.36h0.01M331.52 230.14h0.01M330.66 221.93h0.01M328.8 163.96h0.01M331.17 228.73h0.01M331.66 152.22h0.01M328.74 206.69h0.01M331.2 145.79h0.01M330.7 215.87h0.01M331.95 157.48h0.01M330.3 200.88h0.01M330.53 167.38h0.01M328.44 232.78h0.01M329.84 232.68h0.01M326.5 203.42h0.01M330.01 185.33h0.01M328.97 195.94h0.01M330.35 124.1h0.01M332.64 170.56h0.01M330.66 230.77h0.01M325.01 222.62h0.01M325.41 222.96h0.01M329.11 215.94h0.01M332.76 129.47h0.01M331.24 179.13h0.01M330.83 230.9h0.01M325.91 228.45h0.01M329.61 152.1h0.01M328.05 228.34h0.01M329.5 137.44h0.01M329.2 181.06h0.01M330.48 124.47h0.01M324.95 146.35h0.01M327.8 229.75h0.01M330.74 168.4h0.01M332.34 228.02h0.01M328.12 228.64h0.01M328.89 146.67h0.01M330.53 174.59h0.01M329.55 111.41h0.01M328.34 230.71h0.01M328.93 227.25h0.01M330.08 232.04h0.01M326.75 178.45h0.01M328.95 217.64h0.01M332.41 143.32h0.01M331.92 169.37h0.01M329.72 154.65h0.01M329.23 177.17h0.01M329.79 121.76h0.01M332.63 161.48h0.01M331.81 147.76h0.01M326.82 234.85h0.01M329.04 181.29h0.01M330.15 234.66h0.01M329.78 181.07h0.01M327.42 192.6h0.01M331.48 167.54h0.01M331.24 234.42h0.01M328.08 167.9h0.01M327.63 217.21h0.01M332.71 192.8h0.01M332.15 217.64h0.01M327.63 186.66h0.01M325.24 228.86h0.01M328.58 231.15h0.01M325.22 187.45h0.01M325.27 219.17h0.01M330.54 117.17h0.01M327.53 174.23h0.01M327.6 152.93h0.01M329.27 230.08h0.01M328.19 103.94h0.01M327.1 196.93h0.01M331.94 217.64h0.01M327.6 223.15h0.01M327.84 125.91h0.01M331.14 156.39h0.01M331.46 131.29h0.01M331.82 146.22h0.01M324.78 121.61h0.01M332.52 210.86h0.01M331.2 182.01h0.01M331.06 231.28h0.01M330.64 234.7h0.01M325.78 130.96h0.01M329.92 147.23h0.01M330.88 225.02h0.01M327.37 167.54h0.01M330.11 202.83h0.01M330.41 217.64h0.01M327.97 182.56h0.01M331.21 202.24h0.01M331.89 217.64h0.01M330.42 195.63h0.01M328.06 200.97h0.01M332.73 138.21h0.01M325.97 128.21h0.01M326.99 222.31h0.01M325.54 144.62h0.01M330.96 160.42h0.01M328.36 227.11h0.01M325.49 163.11h0.01M326.53 225.06h0.01M329.48 175.29h0.01M326.9 225.49h0.01M327.16 217.9h0.01M326.74 155.38h0.01M332.1 204.3h0.01M328.56 217.64h0.01M332.37 227.28h0.01M327.76 194.35h0.01M332.72 196.35h0.01M326.55 173.11h0.01M327.65 231.82h0.01M325.89 180.64h0.01M326.73 232.93h0.01M328.83 213.56h0.01M328.98 145.06h0.01M324.61 229.63h0.01M331.54 171.63h0.01M330.48 148.21h0.01M328.44 231.77h0.01M329.41 157.82h0.01M328.02 189.42h0.01M325.35 116.59h0.01M328.91 160.06h0.01M327.15 229.18h0.01M325.22 131.36h0.01M327.55 217.64h0.01M325.47 160.04h0.01M331.4 217.64h0.01M324.7 150.41h0.01M329.23 176.46h0.01M324.69 193.63h0.01M329.65 163.79h0.01M327.68 191.52h0.01M327.82 179.3h0.01M326.7 142.49h0.01M327.3 218.25h0.01M327.32 217.64h0.01M325.36 190.5h0.01M330.16 234.61h0.01M331.46 156.52h0.01M325.34 140.82h0.01M325.62 225.86h0.01M328.1 105.11h0.01M329.91 138.39h0.01M327.32 156.71h0.01M324.73 199.37h0.01M331.08 198.95h0.01M329.59 217.64h0.01M327.41 232.86h0.01M328.78 145.77h0.01M331.37 151h0.01M332 140.45h0.01M327.49 124.21h0.01M332.69 138.33h0.01M330.47 130.73h0.01M329.74 145.14h0.01M326.61 226.84h0.01M330.32 96.81h0.01M328.4 142.87h0.01M325.71 228.13h0.01M329.06 183.75h0.01M332.06 194.11h0.01M331.3 179.93h0.01M326.97 127.18h0.01M326.58 128.44h0.01M329.09 160.45h0.01M326.08 235.06h0.01M332.3 188.67h0.01M330.65 187.65h0.01M329.45 125.36h0.01M328.44 149.04h0.01M329.27 232.46h0.01M326.76 221.05h0.01M327.32 168.32h0.01M325.79 123.6h0.01M329.52 159.15h0.01M330.25 208.98h0.01M330.76 146.61h0.01M331.61 108.75h0.01M328.16 172.62h0.01M328.91 137.77h0.01M332.02 192.72h0.01M331.98 121.5h0.01M329.5 152.99h0.01M325.17 185.19h0.01M328.72 232.01h0.01M325.03 129.63h0.01M327.11 194.15h0.01M326.53 174.46h0.01M332.53 228.59h0.01M331.2 147.89h0.01M329.25 218.05h0.01M325.41 195.73h0.01M332.4 141.88h0.01M327.05 233.5h0.01M325.11 142.31h0.01M327.52 157.51h0.01M324.98 200.4h0.01M327.12 228.69h0.01M328.48 89h0.01M332.17 224.03h0.01M326.2 206.46h0.01M326.01 192.83h0.01M332.76 141.47h0.01M326.17 219.56h0.01M330.55 155.94h0.01M331.98 165.79h0.01M330.31 174.53h0.01M328.25 187.5h0.01M327.12 233.66h0.01M326.53 163.78h0.01M331.08 151.21h0.01M329.44 205.86h0.01M357.78 167.12h0.01M361.37 151.68h0.01M358.17 109.14h0.01M363.96 145.17h0.01M359.51 146.02h0.01M356.27 158.92h0.01M360.82 144.29h0.01M362.49 143.5h0.01M356.61 130.17h0.01M357.92 146.51h0.01M358.19 116.98h0.01M363.26 150.12h0.01M364 143.91h0.01M362.05 125.07h0.01M359.05 137.66h0.01M357.38 125.45h0.01M360.46 148.54h0.01M361.3 149.61h0.01M362.32 152.07h0.01M362.83 158.47h0.01M361.51 142.93h0.01M357.33 177.01h0.01M362.29 145.75h0.01M357.83 130.86h0.01M359.51 123.74h0.01M362.39 137.36h0.01M357.83 166.69h0.01M360.66 151.48h0.01M359.99 140.38h0.01M361.76 121.74h0.01M360.6 136.72h0.01M357.14 134.62h0.01M356.05 147.74h0.01M359.52 156.81h0.01M358.06 140.71h0.01M363.34 139.38h0.01M360.56 146.54h0.01M357.85 166.21h0.01M357.1 148.09h0.01M358.48 142.71h0.01M360.99 137.08h0.01M360.73 152.49h0.01M356.63 142.93h0.01M357.99 137.22h0.01M357.21 149.25h0.01M362.35 151.2h0.01M356.4 166.94h0.01M357.67 152.95h0.01M363.86 133.63h0.01M362.14 124.62h0.01M363.99 136.63h0.01M362.01 131.11h0.01M356.22 128.3h0.01M357.06 139.27h0.01M359.12 110.21h0.01M356.53 145.69h0.01M356.18 126.32h0.01M361.92 116.11h0.01M357.78 141.7h0.01M357.88 141.47h0.01M359.68 122.44h0.01M358.66 128.33h0.01M363.95 146.86h0.01M359.21 144.3h0.01M361.23 143.78h0.01M361.6 128.5h0.01M362.99 136.24h0.01M359.69 166.94h0.01M359.12 157.65h0.01M362.31 133.13h0.01M357.67 153.12h0.01M360.41 146.48h0.01M357.24 133.42h0.01M359.74 138.16h0.01M358.43 131.3h0.01M361.47 179.36h0.01M362.97 125.89h0.01M356.5 137.02h0.01M361.57 127.21h0.01M356.05 148.77h0.01M357.39 132.14h0.01M363.47 142.23h0.01M361.76 126.43h0.01M357.16 142.72h0.01M363.58 127.25h0.01M361.83 157.04h0.01M363.34 121.74h0.01M359.05 128.22h0.01M356.58 139.43h0.01M362.22 131.44h0.01M360.16 149.89h0.01M357.85 127.23h0.01M356.23 136.11h0.01M356.16 129.54h0.01M358.46 125.01h0.01M357.02 157.48h0.01M361.69 132.62h0.01M361.36 142.64h0.01M357.11 117.47h0.01M361.74 137.75h0.01M359.22 129.63h0.01M357.75 163.41h0.01M358.3 121.79h0.01M356.23 146.86h0.01M356.1 132.6h0.01M362.53 154.08h0.01M363.9 154.99h0.01M363.44 147.62h0.01M357.67 120.15h0.01M363.73 149.22h0.01M363.02 161.34h0.01M356.64 139.08h0.01M359.41 120.36h0.01M359.04 145.14h0.01M358.59 137.85h0.01M357.2 153.02h0.01M359.2 140.88h0.01M361.35 149.87h0.01M357.87 139.71h0.01M359.36 129.86h0.01M357.14 133.66h0.01M360.44 160.96h0.01M361.64 152.45h0.01M358.89 126.58h0.01M356.42 138.98h0.01M359.96 145.16h0.01M360.7 138.3h0.01M357.98 153.91h0.01M356.09 138.56h0.01M360.54 158.87h0.01M358.05 115.65h0.01M359.75 145.74h0.01M360.95 149.31h0.01M360.62 127.68h0.01M363.63 145.02h0.01M360.99 138.31h0.01M359.27 161.59h0.01M362.7 151.3h0.01M363.11 135.1h0.01M356.21 164.88h0.01M357.01 119.28h0.01M358.86 153.73h0.01M363.91 141.65h0.01M357.77 135.43h0.01M361.48 133.31h0.01M360.36 141.03h0.01M359.13 140.46h0.01M361.23 139.94h0.01M360.39 123.96h0.01M362.72 154.49h0.01M363.84 154.39h0.01M363.17 147.9h0.01M358.47 129.34h0.01M361.53 145.91h0.01M363.8 163.27h0.01M361 137.18h0.01M359.92 148.84h0.01M358.24 154.11h0.01M362.04 146.61h0.01M357.94 151.67h0.01M359.3 189.67h0.01M358.71 197.03h0.01M360.05 202.33h0.01" stroke="#111" stroke-width="1.2" fill="none" stroke-linecap="round"/>
<rect x="441.54" y="58.93" width="13.52" height="13.54" fill="none" stroke="#d0d4dc" stroke-width="0.65"/>
<rect x="455.06" y="58.93" width="13.52" height="13.54" fill="none" stroke="#d0d4dc" stroke-width="0.65"/>
<rect x="468.58" y="58.93" width="13.52" height="13.54" fill="none" stroke="#d0d4dc" stroke-width="0.65"/>
<rect x="482.1" y="58.93" width="13.52" height="13.54" fill="none" stroke="#d0d4dc" stroke-width="0.65"/>
<rect x="495.62" y="58.93" width="13.52" height="13.54" fill="none" stroke="#d0d4dc" stroke-width="0.65"/>
<rect x="509.14" y="58.93" width="13.52" height="13.54" fill="none" stroke="#d0d4dc" stroke-width="0.65"/>
<rect x="522.66" y="58.93" width="13.52" height="13.54" fill="none" stroke="#d0d4dc" stroke-width="0.65"/>
<rect x="536.18" y="58.93" width="13.52" height="13.54" fill="none" stroke="#d0d4dc" stroke-width="0.65"/>
<rect x="549.7" y="58.93" width="13.52" height="13.54" fill="none" stroke="#d0d4dc" stroke-width="0.65"/>
<rect x="563.22" y="58.93" width="13.52" height="13.54" fill="none" stroke="#d0d4dc" stroke-width="0.65"/>
<rect x="576.74" y="58.93" width="13.52" height="13.54" fill="none" stroke="#d0d4dc" stroke-width="0.65"/>
<rect x="590.26" y="58.93" width="13.52" height="13.54" fill="none" stroke="#d0d4dc" stroke-width="0.65"/>
<rect x="603.78" y="58.93" width="13.52" height="13.54" fill="none" stroke="#d0d4dc" stroke-width="0.65"/>
<rect x="617.3" y="58.93" width="13.52" height="13.54" fill="none" stroke="#d0d4dc" stroke-width="0.65"/>
<rect x="630.82" y="58.93" width="13.52" height="13.54" fill="none" stroke="#d0d4dc" stroke-width="0.65"/>
<rect x="644.34" y="58.93" width="13.52" height="13.54" fill="none" stroke="#d0d4dc" stroke-width="0.65"/>
<rect x="657.86" y="58.93" width="13.52" height="13.54" fill="none" stroke="#d0d4dc" stroke-width="0.65"/>
<rect x="671.38" y="58.93" width="13.52" height="13.54" fill="none" stroke="#d0d4dc" stroke-width="0.65"/>
<rect x="455.06" y="72.47" width="13.52" height="13.54" fill="none" stroke="#d0d4dc" stroke-width="0.65"/>
<rect x="468.58" y="72.47" width="13.52" height="13.54" fill="none" stroke="#d0d4dc" stroke-width="0.65"/>
<rect x="482.1" y="72.47" width="13.52" height="13.54" fill="none" stroke="#d0d4dc" stroke-width="0.65"/>
<rect x="495.62" y="72.47" width="13.52" height="13.54" fill="none" stroke="#d0d4dc" stroke-width="0.65"/>
<rect x="509.14" y="72.47" width="13.52" height="13.54" fill="none" stroke="#d0d4dc" stroke-width="0.65"/>
<rect x="522.66" y="72.47" width="13.52" height="13.54" fill="none" stroke="#d0d4dc" stroke-width="0.65"/>
<rect x="536.18" y="72.47" width="13.52" height="13.54" fill="none" stroke="#d0d4dc" stroke-width="0.65"/>
<rect x="549.7" y="72.47" width="13.52" height="13.54" fill="none" stroke="#d0d4dc" stroke-width="0.65"/>
<rect x="563.22" y="72.47" width="13.52" height="13.54" fill="none" stroke="#d0d4dc" stroke-width="0.65"/>
<rect x="576.74" y="72.47" width="13.52" height="13.54" fill="none" stroke="#d0d4dc" stroke-width="0.65"/>
<rect x="590.26" y="72.47" width="13.52" height="13.54" fill="none" stroke="#d0d4dc" stroke-width="0.65"/>
<rect x="603.78" y="72.47" width="13.52" height="13.54" fill="none" stroke="#d0d4dc" stroke-width="0.65"/>
<rect x="617.3" y="72.47" width="13.52" height="13.54" fill="none" stroke="#d0d4dc" stroke-width="0.65"/>
<rect x="630.82" y="72.47" width="13.52" height="13.54" fill="none" stroke="#d0d4dc" stroke-width="0.65"/>
<rect x="644.34" y="72.47" width="13.52" height="13.54" fill="none" stroke="#d0d4dc" stroke-width="0.65"/>
<rect x="657.86" y="72.47" width="13.52" height="13.54" fill="none" stroke="#d0d4dc" stroke-width="0.65"/>
<rect x="671.38" y="72.47" width="13.52" height="13.54" fill="none" stroke="#d0d4dc" stroke-width="0.65"/>
<rect x="468.58" y="86.01" width="13.52" height="13.54" fill="none" stroke="#d0d4dc" stroke-width="0.65"/>
<rect x="482.1" y="86.01" width="13.52" height="13.54" fill="none" stroke="#d0d4dc" stroke-width="0.65"/>
<rect x="495.62" y="86.01" width="13.52" height="13.54" fill="none" stroke="#d0d4dc" stroke-width="0.65"/>
<rect x="509.14" y="86.01" width="13.52" height="13.54" fill="none" stroke="#d0d4dc" stroke-width="0.65"/>
<rect x="522.66" y="86.01" width="13.52" height="13.54" fill="none" stroke="#d0d4dc" stroke-width="0.65"/>
<rect x="536.18" y="86.01" width="13.52" height="13.54" fill="none" stroke="#d0d4dc" stroke-width="0.65"/>
<rect x="549.7" y="86.01" width="13.52" height="13.54" fill="none" stroke="#d0d4dc" stroke-width="0.65"/>
<rect x="563.22" y="86.01" width="13.52" height="13.54" fill="none" stroke="#d0d4dc" stroke-width="0.65"/>
<rect x="576.74" y="86.01" width="13.52" height="13.54" fill="none" stroke="#d0d4dc" stroke-width="0.65"/>
<rect x="590.26" y="86.01" width="13.52" height="13.54" fill="none" stroke="#d0d4dc" stroke-width="0.65"/>
<rect x="603.78" y="86.01" width="13.52" height="13.54" fill="none" stroke="#d0d4dc" stroke-width="0.65"/>
<rect x="617.3" y="86.01" width="13.52" height="13.54" fill="none" stroke="#d0d4dc" stroke-width="0.65"/>
<rect x="630.82" y="86.01" width="13.52" height="13.54" fill="none" stroke="#d0d4dc" stroke-width="0.65"/>
<rect x="644.34" y="86.01" width="13.52" height="13.54" fill="none" stroke="#d0d4dc" stroke-width="0.65"/>
<rect x="657.86" y="86.01" width="13.52" height="13.54" fill="none" stroke="#d0d4dc" stroke-width="0.65"/>
<rect x="671.38" y="86.01" width="13.52" height="13.54" fill="none" stroke="#d0d4dc" stroke-width="0.65"/>
<rect x="482.1" y="99.55" width="13.52" height="13.54" fill="none" stroke="#d0d4dc" stroke-width="0.65"/>
<rect x="495.62" y="99.55" width="13.52" height="13.54" fill="none" stroke="#d0d4dc" stroke-width="0.65"/>
<rect x="509.14" y="99.55" width="13.52" height="13.54" fill="none" stroke="#d0d4dc" stroke-width="0.65"/>
<rect x="522.66" y="99.55" width="13.52" height="13.54" fill="none" stroke="#d0d4dc" stroke-width="0.65"/>
<rect x="536.18" y="99.55" width="13.52" height="13.54" fill="none" stroke="#d0d4dc" stroke-width="0.65"/>
<rect x="549.7" y="99.55" width="13.52" height="13.54" fill="none" stroke="#d0d4dc" stroke-width="0.65"/>
<rect x="563.22" y="99.55" width="13.52" height="13.54" fill="none" stroke="#d0d4dc" stroke-width="0.65"/>
<rect x="576.74" y="99.55" width="13.52" height="13.54" fill="none" stroke="#d0d4dc" stroke-width="0.65"/>
<rect x="590.26" y="99.55" width="13.52" height="13.54" fill="none" stroke="#d0d4dc" stroke-width="0.65"/>
<rect x="603.78" y="99.55" width="13.52" height="13.54" fill="none" stroke="#d0d4dc" stroke-width="0.65"/>
<rect x="617.3" y="99.55" width="13.52" height="13.54" fill="none" stroke="#d0d4dc" stroke-width="0.65"/>
<rect x="630.82" y="99.55" width="13.52" height="13.54" fill="none" stroke="#d0d4dc" stroke-width="0.65"/>
<rect x="644.34" y="99.55" width="13.52" height="13.54" fill="none" stroke="#d0d4dc" stroke-width="0.65"/>
<rect x="657.86" y="99.55" width="13.52" height="13.54" fill="none" stroke="#d0d4dc" stroke-width="0.65"/>
<rect x="671.38" y="99.55" width="13.52" height="13.54" fill="none" stroke="#d0d4dc" stroke-width="0.65"/>
<rect x="495.62" y="113.09" width="13.52" height="13.54" fill="none" stroke="#d0d4dc" stroke-width="0.65"/>
<rect x="509.14" y="113.09" width="13.52" height="13.54" fill="none" stroke="#d0d4dc" stroke-width="0.65"/>
<rect x="522.66" y="113.09" width="13.52" height="13.54" fill="none" stroke="#d0d4dc" stroke-width="0.65"/>
<rect x="536.18" y="113.09" width="13.52" height="13.54" fill="none" stroke="#d0d4dc" stroke-width="0.65"/>
<rect x="549.7" y="113.09" width="13.52" height="13.54" fill="none" stroke="#d0d4dc" stroke-width="0.65"/>
<rect x="563.22" y="113.09" width="13.52" height="13.54" fill="none" stroke="#d0d4dc" stroke-width="0.65"/>
<rect x="576.74" y="113.09" width="13.52" height="13.54" fill="none" stroke="#d0d4dc" stroke-width="0.65"/>
<rect x="590.26" y="113.09" width="13.52" height="13.54" fill="none" stroke="#d0d4dc" stroke-width="0.65"/>
<rect x="603.78" y="113.09" width="13.52" height="13.54" fill="none" stroke="#d0d4dc" stroke-width="0.65"/>
<rect x="617.3" y="113.09" width="13.52" height="13.54" fill="none" stroke="#d0d4dc" stroke-width="0.65"/>
<rect x="630.82" y="113.09" width="13.52" height="13.54" fill="none" stroke="#d0d4dc" stroke-width="0.65"/>
<rect x="644.34" y="113.09" width="13.52" height="13.54" fill="none" stroke="#d0d4dc" stroke-width="0.65"/>
<rect x="657.86" y="113.09" width="13.52" height="13.54" fill="none" stroke="#d0d4dc" stroke-width="0.65"/>
<rect x="671.38" y="113.09" width="13.52" height="13.54" fill="none" stroke="#d0d4dc" stroke-width="0.65"/>
<rect x="509.14" y="126.63" width="13.52" height="13.54" fill="none" stroke="#d0d4dc" stroke-width="0.65"/>
<rect x="522.66" y="126.63" width="13.52" height="13.54" fill="none" stroke="#d0d4dc" stroke-width="0.65"/>
<rect x="536.18" y="126.63" width="13.52" height="13.54" fill="none" stroke="#d0d4dc" stroke-width="0.65"/>
<rect x="549.7" y="126.63" width="13.52" height="13.54" fill="none" stroke="#d0d4dc" stroke-width="0.65"/>
<rect x="563.22" y="126.63" width="13.52" height="13.54" fill="none" stroke="#d0d4dc" stroke-width="0.65"/>
<rect x="576.74" y="126.63" width="13.52" height="13.54" fill="none" stroke="#d0d4dc" stroke-width="0.65"/>
<rect x="590.26" y="126.63" width="13.52" height="13.54" fill="none" stroke="#d0d4dc" stroke-width="0.65"/>
<rect x="603.78" y="126.63" width="13.52" height="13.54" fill="none" stroke="#d0d4dc" stroke-width="0.65"/>
<rect x="617.3" y="126.63" width="13.52" height="13.54" fill="none" stroke="#d0d4dc" stroke-width="0.65"/>
<rect x="630.82" y="126.63" width="13.52" height="13.54" fill="none" stroke="#d0d4dc" stroke-width="0.65"/>
<rect x="644.34" y="126.63" width="13.52" height="13.54" fill="none" stroke="#d0d4dc" stroke-width="0.65"/>
<rect x="657.86" y="126.63" width="13.52" height="13.54" fill="none" stroke="#d0d4dc" stroke-width="0.65"/>
<rect x="671.38" y="126.63" width="13.52" height="13.54" fill="none" stroke="#d0d4dc" stroke-width="0.65"/>
<rect x="522.66" y="140.17" width="13.52" height="13.54" fill="none" stroke="#d0d4dc" stroke-width="0.65"/>
<rect x="536.18" y="140.17" width="13.52" height="13.54" fill="none" stroke="#d0d4dc" stroke-width="0.65"/>
<rect x="549.7" y="140.17" width="13.52" height="13.54" fill="none" stroke="#d0d4dc" stroke-width="0.65"/>
<rect x="563.22" y="140.17" width="13.52" height="13.54" fill="none" stroke="#d0d4dc" stroke-width="0.65"/>
<rect x="576.74" y="140.17" width="13.52" height="13.54" fill="none" stroke="#d0d4dc" stroke-width="0.65"/>
<rect x="590.26" y="140.17" width="13.52" height="13.54" fill="none" stroke="#d0d4dc" stroke-width="0.65"/>
<rect x="603.78" y="140.17" width="13.52" height="13.54" fill="none" stroke="#d0d4dc" stroke-width="0.65"/>
<rect x="617.3" y="140.17" width="13.52" height="13.54" fill="none" stroke="#d0d4dc" stroke-width="0.65"/>
<rect x="630.82" y="140.17" width="13.52" height="13.54" fill="none" stroke="#d0d4dc" stroke-width="0.65"/>
<rect x="644.34" y="140.17" width="13.52" height="13.54" fill="none" stroke="#d0d4dc" stroke-width="0.65"/>
<rect x="657.86" y="140.17" width="13.52" height="13.54" fill="none" stroke="#d0d4dc" stroke-width="0.65"/>
<rect x="671.38" y="140.17" width="13.52" height="13.54" fill="none" stroke="#d0d4dc" stroke-width="0.65"/>
<rect x="536.18" y="153.71" width="13.52" height="13.54" fill="none" stroke="#d0d4dc" stroke-width="0.65"/>
<rect x="549.7" y="153.71" width="13.52" height="13.54" fill="none" stroke="#d0d4dc" stroke-width="0.65"/>
<rect x="563.22" y="153.71" width="13.52" height="13.54" fill="none" stroke="#d0d4dc" stroke-width="0.65"/>
<rect x="576.74" y="153.71" width="13.52" height="13.54" fill="none" stroke="#d0d4dc" stroke-width="0.65"/>
<rect x="590.26" y="153.71" width="13.52" height="13.54" fill="none" stroke="#d0d4dc" stroke-width="0.65"/>
<rect x="603.78" y="153.71" width="13.52" height="13.54" fill="none" stroke="#d0d4dc" stroke-width="0.65"/>
<rect x="617.3" y="153.71" width="13.52" height="13.54" fill="none" stroke="#d0d4dc" stroke-width="0.65"/>
<rect x="630.82" y="153.71" width="13.52" height="13.54" fill="none" stroke="#d0d4dc" stroke-width="0.65"/>
<rect x="644.34" y="153.71" width="13.52" height="13.54" fill="none" stroke="#d0d4dc" stroke-width="0.65"/>
<rect x="657.86" y="153.71" width="13.52" height="13.54" fill="none" stroke="#d0d4dc" stroke-width="0.65"/>
<rect x="671.38" y="153.71" width="13.52" height="13.54" fill="none" stroke="#d0d4dc" stroke-width="0.65"/>
<rect x="549.7" y="167.25" width="13.52" height="13.54" fill="none" stroke="#d0d4dc" stroke-width="0.65"/>
<rect x="563.22" y="167.25" width="13.52" height="13.54" fill="none" stroke="#d0d4dc" stroke-width="0.65"/>
<rect x="576.74" y="167.25" width="13.52" height="13.54" fill="none" stroke="#d0d4dc" stroke-width="0.65"/>
<rect x="590.26" y="167.25" width="13.52" height="13.54" fill="none" stroke="#d0d4dc" stroke-width="0.65"/>
<rect x="603.78" y="167.25" width="13.52" height="13.54" fill="none" stroke="#d0d4dc" stroke-width="0.65"/>
<rect x="617.3" y="167.25" width="13.52" height="13.54" fill="none" stroke="#d0d4dc" stroke-width="0.65"/>
<rect x="630.82" y="167.25" width="13.52" height="13.54" fill="none" stroke="#d0d4dc" stroke-width="0.65"/>
<rect x="644.34" y="167.25" width="13.52" height="13.54" fill="none" stroke="#d0d4dc" stroke-width="0.65"/>
<rect x="657.86" y="167.25" width="13.52" height="13.54" fill="none" stroke="#d0d4dc" stroke-width="0.65"/>
<rect x="671.38" y="167.25" width="13.52" height="13.54" fill="none" stroke="#d0d4dc" stroke-width="0.65"/>
<rect x="563.22" y="180.79" width="13.52" height="13.54" fill="none" stroke="#d0d4dc" stroke-width="0.65"/>
<rect x="576.74" y="180.79" width="13.52" height="13.54" fill="none" stroke="#d0d4dc" stroke-width="0.65"/>
<rect x="590.26" y="180.79" width="13.52" height="13.54" fill="none" stroke="#d0d4dc" stroke-width="0.65"/>
<rect x="603.78" y="180.79" width="13.52" height="13.54" fill="none" stroke="#d0d4dc" stroke-width="0.65"/>
<rect x="617.3" y="180.79" width="13.52" height="13.54" fill="none" stroke="#d0d4dc" stroke-width="0.65"/>
<rect x="630.82" y="180.79" width="13.52" height="13.54" fill="none" stroke="#d0d4dc" stroke-width="0.65"/>
<rect x="644.34" y="180.79" width="13.52" height="13.54" fill="none" stroke="#d0d4dc" stroke-width="0.65"/>
<rect x="657.86" y="180.79" width="13.52" height="13.54" fill="none" stroke="#d0d4dc" stroke-width="0.65"/>
<rect x="671.38" y="180.79" width="13.52" height="13.54" fill="none" stroke="#d0d4dc" stroke-width="0.65"/>
<rect x="576.74" y="194.33" width="13.52" height="13.54" fill="none" stroke="#d0d4dc" stroke-width="0.65"/>
<rect x="590.26" y="194.33" width="13.52" height="13.54" fill="none" stroke="#d0d4dc" stroke-width="0.65"/>
<rect x="603.78" y="194.33" width="13.52" height="13.54" fill="none" stroke="#d0d4dc" stroke-width="0.65"/>
<rect x="617.3" y="194.33" width="13.52" height="13.54" fill="none" stroke="#d0d4dc" stroke-width="0.65"/>
<rect x="630.82" y="194.33" width="13.52" height="13.54" fill="none" stroke="#d0d4dc" stroke-width="0.65"/>
<rect x="644.34" y="194.33" width="13.52" height="13.54" fill="none" stroke="#d0d4dc" stroke-width="0.65"/>
<rect x="657.86" y="194.33" width="13.52" height="13.54" fill="none" stroke="#d0d4dc" stroke-width="0.65"/>
<rect x="671.38" y="194.33" width="13.52" height="13.54" fill="none" stroke="#d0d4dc" stroke-width="0.65"/>
<rect x="590.26" y="207.87" width="13.52" height="13.54" fill="none" stroke="#d0d4dc" stroke-width="0.65"/>
<rect x="603.78" y="207.87" width="13.52" height="13.54" fill="none" stroke="#d0d4dc" stroke-width="0.65"/>
<rect x="617.3" y="207.87" width="13.52" height="13.54" fill="none" stroke="#d0d4dc" stroke-width="0.65"/>
<rect x="630.82" y="207.87" width="13.52" height="13.54" fill="none" stroke="#d0d4dc" stroke-width="0.65"/>
<rect x="644.34" y="207.87" width="13.52" height="13.54" fill="none" stroke="#d0d4dc" stroke-width="0.65"/>
<rect x="657.86" y="207.87" width="13.52" height="13.54" fill="none" stroke="#d0d4dc" stroke-width="0.65"/>
<rect x="671.38" y="207.87" width="13.52" height="13.54" fill="none" stroke="#d0d4dc" stroke-width="0.65"/>
<rect x="603.78" y="221.41" width="13.52" height="13.54" fill="none" stroke="#d0d4dc" stroke-width="0.65"/>
<rect x="617.3" y="221.41" width="13.52" height="13.54" fill="none" stroke="#d0d4dc" stroke-width="0.65"/>
<rect x="630.82" y="221.41" width="13.52" height="13.54" fill="none" stroke="#d0d4dc" stroke-width="0.65"/>
<rect x="644.34" y="221.41" width="13.52" height="13.54" fill="none" stroke="#d0d4dc" stroke-width="0.65"/>
<rect x="657.86" y="221.41" width="13.52" height="13.54" fill="none" stroke="#d0d4dc" stroke-width="0.65"/>
<rect x="671.38" y="221.41" width="13.52" height="13.54" fill="none" stroke="#d0d4dc" stroke-width="0.65"/>
<rect x="617.3" y="234.95" width="13.52" height="13.54" fill="none" stroke="#d0d4dc" stroke-width="0.65"/>
<rect x="630.82" y="234.95" width="13.52" height="13.54" fill="none" stroke="#d0d4dc" stroke-width="0.65"/>
<rect x="644.34" y="234.95" width="13.52" height="13.54" fill="none" stroke="#d0d4dc" stroke-width="0.65"/>
<rect x="657.86" y="234.95" width="13.52" height="13.54" fill="none" stroke="#d0d4dc" stroke-width="0.65"/>
<rect x="671.38" y="234.95" width="13.52" height="13.54" fill="none" stroke="#d0d4dc" stroke-width="0.65"/>
<rect x="630.82" y="248.49" width="13.52" height="13.54" fill="none" stroke="#d0d4dc" stroke-width="0.65"/>
<rect x="644.34" y="248.49" width="13.52" height="13.54" fill="none" stroke="#d0d4dc" stroke-width="0.65"/>
<rect x="657.86" y="248.49" width="13.52" height="13.54" fill="none" stroke="#d0d4dc" stroke-width="0.65"/>
<rect x="671.38" y="248.49" width="13.52" height="13.54" fill="none" stroke="#d0d4dc" stroke-width="0.65"/>
<rect x="644.34" y="262.03" width="13.52" height="13.54" fill="none" stroke="#d0d4dc" stroke-width="0.65"/>
<rect x="657.86" y="262.03" width="13.52" height="13.54" fill="none" stroke="#d0d4dc" stroke-width="0.65"/>
<rect x="671.38" y="262.03" width="13.52" height="13.54" fill="none" stroke="#d0d4dc" stroke-width="0.65"/>
<rect x="657.86" y="275.57" width="13.52" height="13.54" fill="none" stroke="#d0d4dc" stroke-width="0.65"/>
<rect x="671.38" y="275.57" width="13.52" height="13.54" fill="none" stroke="#d0d4dc" stroke-width="0.65"/>
<rect x="671.38" y="289.11" width="13.52" height="13.54" fill="none" stroke="#d0d4dc" stroke-width="0.65"/>
<circle cx="448.3" cy="65.7" r="5.7" fill="none" stroke="#e41e24" stroke-width="0.5"/>
<circle cx="448.3" cy="65.7" r="5.7" fill="#e41e24" stroke="#5a1a1a" stroke-width="0.6"/>
<line x1="448.3" y1="65.7" x2="448.3" y2="60" stroke="#5a1a1a" stroke-width="0.5"/>
<circle cx="461.82" cy="65.7" r="5.7" fill="none" stroke="#e52228" stroke-width="0.5"/>
<path d="M461.82 65.7 L461.82 60 A5.7 5.7 0 1 1 461.11 60.04 Z" stroke="#4a2a2a" stroke-width="0.6" fill="#e52228"/>
<circle cx="475.34" cy="65.7" r="5.7" fill="none" stroke="#e63036" stroke-width="0.5"/>
<path d="M475.34 65.7 L475.34 60 A5.7 5.7 0 1 1 472.59 60.71 Z" stroke="#4a2a2a" stroke-width="0.6" fill="#e63036"/>
<circle cx="488.86" cy="65.7" r="5.7" fill="none" stroke="#ea5054" stroke-width="0.5"/>
<path d="M488.86 65.7 L488.86 60 A5.7 5.7 0 1 1 483.26 64.63 Z" stroke="#4a2a2a" stroke-width="0.6" fill="#ea5054"/>
<circle cx="502.38" cy="65.7" r="5.7" fill="none" stroke="#e94b50" stroke-width="0.5"/>
<path d="M502.38 65.7 L502.38 60 A5.7 5.7 0 1 1 496.96 63.94 Z" stroke="#4a2a2a" stroke-width="0.6" fill="#e94b50"/>
<circle cx="515.9" cy="65.7" r="5.7" fill="none" stroke="#ed6a6e" stroke-width="0.5"/>
<path d="M515.9 65.7 L515.9 60 A5.7 5.7 0 1 1 511.09 68.75 Z" stroke="#4a2a2a" stroke-width="0.6" fill="#ed6a6e"/>
<circle cx="529.42" cy="65.7" r="5.7" fill="none" stroke="#ec6266" stroke-width="0.5"/>
<path d="M529.42 65.7 L529.42 60 A5.7 5.7 0 1 1 524 67.46 Z" stroke="#4a2a2a" stroke-width="0.6" fill="#ec6266"/>
<circle cx="542.94" cy="65.7" r="5.7" fill="none" stroke="#f7c0c2" stroke-width="0.5"/>
<path d="M542.94 65.7 L542.94 60 A5.7 5.7 0 0 1 548.54 66.77 Z" stroke="#4a2a2a" stroke-width="0.6" fill="#f7c0c2"/>
<circle cx="556.46" cy="65.7" r="5.7" fill="none" stroke="#ec5d61" stroke-width="0.5"/>
<path d="M556.46 65.7 L556.46 60 A5.7 5.7 0 1 1 550.86 66.77 Z" stroke="#4a2a2a" stroke-width="0.6" fill="#ec5d61"/>
<circle cx="569.98" cy="65.7" r="5.7" fill="none" stroke="#e7393e" stroke-width="0.5"/>
<path d="M569.98 65.7 L569.98 60 A5.7 5.7 0 1 1 566.08 61.54 Z" stroke="#4a2a2a" stroke-width="0.6" fill="#e7393e"/>
<circle cx="583.5" cy="65.7" r="5.7" fill="none" stroke="#e9464b" stroke-width="0.5"/>
<path d="M583.5 65.7 L583.5 60 A5.7 5.7 0 1 1 578.34 63.27 Z" stroke="#4a2a2a" stroke-width="0.6" fill="#e9464b"/>
<circle cx="597.02" cy="65.7" r="5.7" fill="none" stroke="#e84045" stroke-width="0.5"/>
<path d="M597.02 65.7 L597.02 60 A5.7 5.7 0 1 1 592.41 62.35 Z" stroke="#4a2a2a" stroke-width="0.6" fill="#e84045"/>
<circle cx="610.54" cy="65.7" r="5.7" fill="none" stroke="#e9464b" stroke-width="0.5"/>
<path d="M610.54 65.7 L610.54 60 A5.7 5.7 0 1 1 605.38 63.27 Z" stroke="#4a2a2a" stroke-width="0.6" fill="#e9464b"/>
<circle cx="624.06" cy="65.7" r="5.7" fill="none" stroke="#eef1f7" stroke-width="0.5"/>
<path d="M624.06 65.7 L624.06 60 A5.7 5.7 0 0 0 621.31 60.71 Z" stroke="#2a2a4a" stroke-width="0.6" fill="#eef1f7"/>
<circle cx="637.58" cy="65.7" r="5.7" fill="none" stroke="#cad3e7" stroke-width="0.5"/>
<path d="M637.58 65.7 L637.58 60 A5.7 5.7 0 0 0 631.88 65.7 Z" stroke="#2a2a4a" stroke-width="0.6" fill="#cad3e7"/>
<circle cx="678.14" cy="65.7" r="5.7" fill="none" stroke="#ef787c" stroke-width="0.5"/>
<path d="M678.14 65.7 L678.14 60 A5.7 5.7 0 1 1 674.79 70.31 Z" stroke="#4a2a2a" stroke-width="0.6" fill="#ef787c"/>
<circle cx="461.82" cy="79.24" r="5.7" fill="none" stroke="#e41e24" stroke-width="0.5"/>
<circle cx="461.82" cy="79.24" r="5.7" fill="#e41e24" stroke="#5a1a1a" stroke-width="0.6"/>
<line x1="461.82" y1="79.24" x2="461.82" y2="73.54" stroke="#5a1a1a" stroke-width="0.5"/>
<circle cx="475.34" cy="79.24" r="5.7" fill="none" stroke="#e63036" stroke-width="0.5"/>
<path d="M475.34 79.24 L475.34 73.54 A5.7 5.7 0 1 1 472.59 74.25 Z" stroke="#4a2a2a" stroke-width="0.6" fill="#e63036"/>
<circle cx="488.86" cy="79.24" r="5.7" fill="none" stroke="#ea5054" stroke-width="0.5"/>
<path d="M488.86 79.24 L488.86 73.54 A5.7 5.7 0 1 1 483.26 78.17 Z" stroke="#4a2a2a" stroke-width="0.6" fill="#ea5054"/>
<circle cx="502.38" cy="79.24" r="5.7" fill="none" stroke="#e94b50" stroke-width="0.5"/>
<path d="M502.38 79.24 L502.38 73.54 A5.7 5.7 0 1 1 496.96 77.48 Z" stroke="#4a2a2a" stroke-width="0.6" fill="#e94b50"/>
<circle cx="515.9" cy="79.24" r="5.7" fill="none" stroke="#ec6266" stroke-width="0.5"/>
<path d="M515.9 79.24 L515.9 73.54 A5.7 5.7 0 1 1 510.48 81 Z" stroke="#4a2a2a" stroke-width="0.6" fill="#ec6266"/>
<circle cx="529.42" cy="79.24" r="5.7" fill="none" stroke="#ec5d61" stroke-width="0.5"/>
<path d="M529.42 79.24 L529.42 73.54 A5.7 5.7 0 1 1 523.82 80.31 Z" stroke="#4a2a2a" stroke-width="0.6" fill="#ec5d61"/>
<circle cx="542.94" cy="79.24" r="5.7" fill="none" stroke="#f7c0c2" stroke-width="0.5"/>
<path d="M542.94 79.24 L542.94 73.54 A5.7 5.7 0 0 1 548.54 80.31 Z" stroke="#4a2a2a" stroke-width="0.6" fill="#f7c0c2"/>
<circle cx="556.46" cy="79.24" r="5.7" fill="none" stroke="#ec5d61" stroke-width="0.5"/>
<path d="M556.46 79.24 L556.46 73.54 A5.7 5.7 0 1 1 550.86 80.31 Z" stroke="#4a2a2a" stroke-width="0.6" fill="#ec5d61"/>
<circle cx="569.98" cy="79.24" r="5.7" fill="none" stroke="#e83e43" stroke-width="0.5"/>
<path d="M569.98 79.24 L569.98 73.54 A5.7 5.7 0 1 1 565.59 75.61 Z" stroke="#4a2a2a" stroke-width="0.6" fill="#e83e43"/>
<circle cx="583.5" cy="79.24" r="5.7" fill="none" stroke="#e9464b" stroke-width="0.5"/>
<path d="M583.5 79.24 L583.5 73.54 A5.7 5.7 0 1 1 578.34 76.81 Z" stroke="#4a2a2a" stroke-width="0.6" fill="#e9464b"/>
<circle cx="597.02" cy="79.24" r="5.7" fill="none" stroke="#e84045" stroke-width="0.5"/>
<path d="M597.02 79.24 L597.02 73.54 A5.7 5.7 0 1 1 592.41 75.89 Z" stroke="#4a2a2a" stroke-width="0.6" fill="#e84045"/>
<circle cx="610.54" cy="79.24" r="5.7" fill="none" stroke="#e9464b" stroke-width="0.5"/>
<path d="M610.54 79.24 L610.54 73.54 A5.7 5.7 0 1 1 605.38 76.81 Z" stroke="#4a2a2a" stroke-width="0.6" fill="#e9464b"/>
<circle cx="624.06" cy="79.24" r="5.7" fill="none" stroke="#eef1f7" stroke-width="0.5"/>
<path d="M624.06 79.24 L624.06 73.54 A5.7 5.7 0 0 0 621.31 74.25 Z" stroke="#2a2a4a" stroke-width="0.6" fill="#eef1f7"/>
<circle cx="637.58" cy="79.24" r="5.7" fill="none" stroke="#cad3e7" stroke-width="0.5"/>
<path d="M637.58 79.24 L637.58 73.54 A5.7 5.7 0 0 0 631.88 79.24 Z" stroke="#2a2a4a" stroke-width="0.6" fill="#cad3e7"/>
<circle cx="678.14" cy="79.24" r="5.7" fill="none" stroke="#ee7477" stroke-width="0.5"/>
<path d="M678.14 79.24 L678.14 73.54 A5.7 5.7 0 1 1 674.24 83.4 Z" stroke="#4a2a2a" stroke-width="0.6" fill="#ee7477"/>
<circle cx="475.34" cy="92.78" r="5.7" fill="none" stroke="#e41e24" stroke-width="0.5"/>
<circle cx="475.34" cy="92.78" r="5.7" fill="#e41e24" stroke="#5a1a1a" stroke-width="0.6"/>
<line x1="475.34" y1="92.78" x2="475.34" y2="87.08" stroke="#5a1a1a" stroke-width="0.5"/>
<circle cx="488.86" cy="92.78" r="5.7" fill="none" stroke="#e83b40" stroke-width="0.5"/>
<path d="M488.86 92.78 L488.86 87.08 A5.7 5.7 0 1 1 484.7 88.88 Z" stroke="#4a2a2a" stroke-width="0.6" fill="#e83b40"/>
<circle cx="502.38" cy="92.78" r="5.7" fill="none" stroke="#ef787c" stroke-width="0.5"/>
<path d="M502.38 92.78 L502.38 87.08 A5.7 5.7 0 1 1 499.03 97.39 Z" stroke="#4a2a2a" stroke-width="0.6" fill="#ef787c"/>
<circle cx="515.9" cy="92.78" r="5.7" fill="none" stroke="#ec6266" stroke-width="0.5"/>
<path d="M515.9 92.78 L515.9 87.08 A5.7 5.7 0 1 1 510.48 94.54 Z" stroke="#4a2a2a" stroke-width="0.6" fill="#ec6266"/>
<circle cx="529.42" cy="92.78" r="5.7" fill="none" stroke="#f08387" stroke-width="0.5"/>
<path d="M529.42 92.78 L529.42 87.08 A5.7 5.7 0 1 1 527.66 98.2 Z" stroke="#4a2a2a" stroke-width="0.6" fill="#f08387"/>
<circle cx="569.98" cy="92.78" r="5.7" fill="none" stroke="#e7393e" stroke-width="0.5"/>
<path d="M569.98 92.78 L569.98 87.08 A5.7 5.7 0 1 1 566.08 88.62 Z" stroke="#4a2a2a" stroke-width="0.6" fill="#e7393e"/>
<circle cx="583.5" cy="92.78" r="5.7" fill="none" stroke="#e9464b" stroke-width="0.5"/>
<path d="M583.5 92.78 L583.5 87.08 A5.7 5.7 0 1 1 578.34 90.35 Z" stroke="#4a2a2a" stroke-width="0.6" fill="#e9464b"/>
<circle cx="597.02" cy="92.78" r="5.7" fill="none" stroke="#e84045" stroke-width="0.5"/>
<path d="M597.02 92.78 L597.02 87.08 A5.7 5.7 0 1 1 592.41 89.43 Z" stroke="#4a2a2a" stroke-width="0.6" fill="#e84045"/>
<circle cx="610.54" cy="92.78" r="5.7" fill="none" stroke="#ea5054" stroke-width="0.5"/>
<path d="M610.54 92.78 L610.54 87.08 A5.7 5.7 0 1 1 604.94 91.71 Z" stroke="#4a2a2a" stroke-width="0.6" fill="#ea5054"/>
<circle cx="488.86" cy="106.32" r="5.7" fill="none" stroke="#e41e24" stroke-width="0.5"/>
<circle cx="488.86" cy="106.32" r="5.7" fill="#e41e24" stroke="#5a1a1a" stroke-width="0.6"/>
<line x1="488.86" y1="106.32" x2="488.86" y2="100.62" stroke="#5a1a1a" stroke-width="0.5"/>
<circle cx="502.38" cy="106.32" r="5.7" fill="none" stroke="#f39a9c" stroke-width="0.5"/>
<path d="M502.38 106.32 L502.38 100.62 A5.7 5.7 0 0 1 504.14 111.74 Z" stroke="#4a2a2a" stroke-width="0.6" fill="#f39a9c"/>
<circle cx="515.9" cy="106.32" r="5.7" fill="none" stroke="#eb565b" stroke-width="0.5"/>
<path d="M515.9 106.32 L515.9 100.62 A5.7 5.7 0 1 1 510.2 106.32 Z" stroke="#4a2a2a" stroke-width="0.6" fill="#eb565b"/>
<circle cx="529.42" cy="106.32" r="5.7" fill="none" stroke="#f4a5a7" stroke-width="0.5"/>
<path d="M529.42 106.32 L529.42 100.62 A5.7 5.7 0 0 1 532.77 110.93 Z" stroke="#4a2a2a" stroke-width="0.6" fill="#f4a5a7"/>
<circle cx="556.46" cy="106.32" r="5.7" fill="none" stroke="#ef787c" stroke-width="0.5"/>
<path d="M556.46 106.32 L556.46 100.62 A5.7 5.7 0 1 1 553.11 110.93 Z" stroke="#4a2a2a" stroke-width="0.6" fill="#ef787c"/>
<circle cx="569.98" cy="106.32" r="5.7" fill="none" stroke="#e5292f" stroke-width="0.5"/>
<path d="M569.98 106.32 L569.98 100.62 A5.7 5.7 0 1 1 568.22 100.9 Z" stroke="#4a2a2a" stroke-width="0.6" fill="#e5292f"/>
<circle cx="583.5" cy="106.32" r="5.7" fill="none" stroke="#e94b50" stroke-width="0.5"/>
<path d="M583.5 106.32 L583.5 100.62 A5.7 5.7 0 1 1 578.08 104.56 Z" stroke="#4a2a2a" stroke-width="0.6" fill="#e94b50"/>
<circle cx="597.02" cy="106.32" r="5.7" fill="none" stroke="#e94b50" stroke-width="0.5"/>
<path d="M597.02 106.32 L597.02 100.62 A5.7 5.7 0 1 1 591.6 104.56 Z" stroke="#4a2a2a" stroke-width="0.6" fill="#e94b50"/>
<circle cx="610.54" cy="106.32" r="5.7" fill="none" stroke="#ed666a" stroke-width="0.5"/>
<path d="M610.54 106.32 L610.54 100.62 A5.7 5.7 0 1 1 605.38 108.75 Z" stroke="#4a2a2a" stroke-width="0.6" fill="#ed666a"/>
<circle cx="651.1" cy="106.32" r="5.7" fill="none" stroke="#f7bcbd" stroke-width="0.5"/>
<path d="M651.1 106.32 L651.1 100.62 A5.7 5.7 0 0 1 656.52 108.08 Z" stroke="#4a2a2a" stroke-width="0.6" fill="#f7bcbd"/>
<circle cx="502.38" cy="119.86" r="5.7" fill="none" stroke="#e41e24" stroke-width="0.5"/>
<circle cx="502.38" cy="119.86" r="5.7" fill="#e41e24" stroke="#5a1a1a" stroke-width="0.6"/>
<line x1="502.38" y1="119.86" x2="502.38" y2="114.16" stroke="#5a1a1a" stroke-width="0.5"/>
<circle cx="515.9" cy="119.86" r="5.7" fill="none" stroke="#f28e92" stroke-width="0.5"/>
<path d="M515.9 119.86 L515.9 114.16 A5.7 5.7 0 0 1 515.9 125.56 Z" stroke="#4a2a2a" stroke-width="0.6" fill="#f28e92"/>
<circle cx="529.42" cy="119.86" r="5.7" fill="none" stroke="#e84045" stroke-width="0.5"/>
<path d="M529.42 119.86 L529.42 114.16 A5.7 5.7 0 1 1 524.81 116.51 Z" stroke="#4a2a2a" stroke-width="0.6" fill="#e84045"/>
<circle cx="556.46" cy="119.86" r="5.7" fill="none" stroke="#ef7c80" stroke-width="0.5"/>
<path d="M556.46 119.86 L556.46 114.16 A5.7 5.7 0 1 1 553.71 124.85 Z" stroke="#4a2a2a" stroke-width="0.6" fill="#ef7c80"/>
<circle cx="569.98" cy="119.86" r="5.7" fill="none" stroke="#f28e92" stroke-width="0.5"/>
<path d="M569.98 119.86 L569.98 114.16 A5.7 5.7 0 0 1 569.98 125.56 Z" stroke="#4a2a2a" stroke-width="0.6" fill="#f28e92"/>
<circle cx="583.5" cy="119.86" r="5.7" fill="none" stroke="#f28e92" stroke-width="0.5"/>
<path d="M583.5 119.86 L583.5 114.16 A5.7 5.7 0 0 1 583.5 125.56 Z" stroke="#4a2a2a" stroke-width="0.6" fill="#f28e92"/>
<circle cx="597.02" cy="119.86" r="5.7" fill="none" stroke="#e94b50" stroke-width="0.5"/>
<path d="M597.02 119.86 L597.02 114.16 A5.7 5.7 0 1 1 591.6 118.1 Z" stroke="#4a2a2a" stroke-width="0.6" fill="#e94b50"/>
<circle cx="610.54" cy="119.86" r="5.7" fill="none" stroke="#e94b50" stroke-width="0.5"/>
<path d="M610.54 119.86 L610.54 114.16 A5.7 5.7 0 1 1 605.12 118.1 Z" stroke="#4a2a2a" stroke-width="0.6" fill="#e94b50"/>
<circle cx="637.58" cy="119.86" r="5.7" fill="none" stroke="#cad3e7" stroke-width="0.5"/>
<path d="M637.58 119.86 L637.58 114.16 A5.7 5.7 0 0 0 631.88 119.86 Z" stroke="#2a2a4a" stroke-width="0.6" fill="#cad3e7"/>
<circle cx="664.62" cy="119.86" r="5.7" fill="none" stroke="#f4a5a7" stroke-width="0.5"/>
<path d="M664.62 119.86 L664.62 114.16 A5.7 5.7 0 0 1 667.97 124.47 Z" stroke="#4a2a2a" stroke-width="0.6" fill="#f4a5a7"/>
<circle cx="678.14" cy="119.86" r="5.7" fill="none" stroke="#ed6d71" stroke-width="0.5"/>
<path d="M678.14 119.86 L678.14 114.16 A5.7 5.7 0 1 1 673.53 123.21 Z" stroke="#4a2a2a" stroke-width="0.6" fill="#ed6d71"/>
<circle cx="515.9" cy="133.4" r="5.7" fill="none" stroke="#e41e24" stroke-width="0.5"/>
<circle cx="515.9" cy="133.4" r="5.7" fill="#e41e24" stroke="#5a1a1a" stroke-width="0.6"/>
<line x1="515.9" y1="133.4" x2="515.9" y2="127.7" stroke="#5a1a1a" stroke-width="0.5"/>
<circle cx="529.42" cy="133.4" r="5.7" fill="none" stroke="#f4a5a7" stroke-width="0.5"/>
<path d="M529.42 133.4 L529.42 127.7 A5.7 5.7 0 0 1 532.77 138.01 Z" stroke="#4a2a2a" stroke-width="0.6" fill="#f4a5a7"/>
<circle cx="556.46" cy="133.4" r="5.7" fill="none" stroke="#f39a9c" stroke-width="0.5"/>
<path d="M556.46 133.4 L556.46 127.7 A5.7 5.7 0 0 1 558.22 138.82 Z" stroke="#4a2a2a" stroke-width="0.6" fill="#f39a9c"/>
<circle cx="569.98" cy="133.4" r="5.7" fill="none" stroke="#e9464b" stroke-width="0.5"/>
<path d="M569.98 133.4 L569.98 127.7 A5.7 5.7 0 1 1 564.82 130.97 Z" stroke="#4a2a2a" stroke-width="0.6" fill="#e9464b"/>
<circle cx="583.5" cy="133.4" r="5.7" fill="none" stroke="#ec6266" stroke-width="0.5"/>
<path d="M583.5 133.4 L583.5 127.7 A5.7 5.7 0 1 1 578.08 135.16 Z" stroke="#4a2a2a" stroke-width="0.6" fill="#ec6266"/>
<circle cx="597.02" cy="133.4" r="5.7" fill="none" stroke="#e94b50" stroke-width="0.5"/>
<path d="M597.02 133.4 L597.02 127.7 A5.7 5.7 0 1 1 591.6 131.64 Z" stroke="#4a2a2a" stroke-width="0.6" fill="#e94b50"/>
<circle cx="610.54" cy="133.4" r="5.7" fill="none" stroke="#f28e92" stroke-width="0.5"/>
<path d="M610.54 133.4 L610.54 127.7 A5.7 5.7 0 0 1 610.54 139.1 Z" stroke="#4a2a2a" stroke-width="0.6" fill="#f28e92"/>
<circle cx="664.62" cy="133.4" r="5.7" fill="none" stroke="#f8c7c8" stroke-width="0.5"/>
<path d="M664.62 133.4 L664.62 127.7 A5.7 5.7 0 0 1 670.32 133.4 Z" stroke="#4a2a2a" stroke-width="0.6" fill="#f8c7c8"/>
<circle cx="529.42" cy="146.94" r="5.7" fill="none" stroke="#e41e24" stroke-width="0.5"/>
<circle cx="529.42" cy="146.94" r="5.7" fill="#e41e24" stroke="#5a1a1a" stroke-width="0.6"/>
<line x1="529.42" y1="146.94" x2="529.42" y2="141.24" stroke="#5a1a1a" stroke-width="0.5"/>
<circle cx="542.94" cy="146.94" r="5.7" fill="none" stroke="#f6b7b9" stroke-width="0.5"/>
<path d="M542.94 146.94 L542.94 141.24 A5.7 5.7 0 0 1 548.1 149.37 Z" stroke="#4a2a2a" stroke-width="0.6" fill="#f6b7b9"/>
<circle cx="556.46" cy="146.94" r="5.7" fill="none" stroke="#ed6d71" stroke-width="0.5"/>
<path d="M556.46 146.94 L556.46 141.24 A5.7 5.7 0 1 1 551.85 150.29 Z" stroke="#4a2a2a" stroke-width="0.6" fill="#ed6d71"/>
<circle cx="569.98" cy="146.94" r="5.7" fill="none" stroke="#f28e92" stroke-width="0.5"/>
<path d="M569.98 146.94 L569.98 141.24 A5.7 5.7 0 0 1 569.98 152.64 Z" stroke="#4a2a2a" stroke-width="0.6" fill="#f28e92"/>
<circle cx="583.5" cy="146.94" r="5.7" fill="none" stroke="#f39a9c" stroke-width="0.5"/>
<path d="M583.5 146.94 L583.5 141.24 A5.7 5.7 0 0 1 585.26 152.36 Z" stroke="#4a2a2a" stroke-width="0.6" fill="#f39a9c"/>
<circle cx="597.02" cy="146.94" r="5.7" fill="none" stroke="#eb565b" stroke-width="0.5"/>
<path d="M597.02 146.94 L597.02 141.24 A5.7 5.7 0 1 1 591.32 146.94 Z" stroke="#4a2a2a" stroke-width="0.6" fill="#eb565b"/>
<circle cx="610.54" cy="146.94" r="5.7" fill="none" stroke="#ec6266" stroke-width="0.5"/>
<path d="M610.54 146.94 L610.54 141.24 A5.7 5.7 0 1 1 605.12 148.7 Z" stroke="#4a2a2a" stroke-width="0.6" fill="#ec6266"/>
<circle cx="637.58" cy="146.94" r="5.7" fill="none" stroke="#cad3e7" stroke-width="0.5"/>
<path d="M637.58 146.94 L637.58 141.24 A5.7 5.7 0 0 0 631.88 146.94 Z" stroke="#2a2a4a" stroke-width="0.6" fill="#cad3e7"/>
<circle cx="664.62" cy="146.94" r="5.7" fill="none" stroke="#f4a5a7" stroke-width="0.5"/>
<path d="M664.62 146.94 L664.62 141.24 A5.7 5.7 0 0 1 667.97 151.55 Z" stroke="#4a2a2a" stroke-width="0.6" fill="#f4a5a7"/>
<circle cx="678.14" cy="146.94" r="5.7" fill="none" stroke="#ec6266" stroke-width="0.5"/>
<path d="M678.14 146.94 L678.14 141.24 A5.7 5.7 0 1 1 672.72 148.7 Z" stroke="#4a2a2a" stroke-width="0.6" fill="#ec6266"/>
<circle cx="542.94" cy="160.48" r="5.7" fill="none" stroke="#e41e24" stroke-width="0.5"/>
<circle cx="542.94" cy="160.48" r="5.7" fill="#e41e24" stroke="#5a1a1a" stroke-width="0.6"/>
<line x1="542.94" y1="160.48" x2="542.94" y2="154.78" stroke="#5a1a1a" stroke-width="0.5"/>
<circle cx="610.54" cy="160.48" r="5.7" fill="none" stroke="#f8c7c8" stroke-width="0.5"/>
<path d="M610.54 160.48 L610.54 154.78 A5.7 5.7 0 0 1 616.24 160.48 Z" stroke="#4a2a2a" stroke-width="0.6" fill="#f8c7c8"/>
<circle cx="624.06" cy="160.48" r="5.7" fill="none" stroke="#f7bcbd" stroke-width="0.5"/>
<path d="M624.06 160.48 L624.06 154.78 A5.7 5.7 0 0 1 629.48 162.24 Z" stroke="#4a2a2a" stroke-width="0.6" fill="#f7bcbd"/>
<circle cx="651.1" cy="160.48" r="5.7" fill="none" stroke="#f7bcbd" stroke-width="0.5"/>
<path d="M651.1 160.48 L651.1 154.78 A5.7 5.7 0 0 1 656.52 162.24 Z" stroke="#4a2a2a" stroke-width="0.6" fill="#f7bcbd"/>
<circle cx="556.46" cy="174.02" r="5.7" fill="none" stroke="#e41e24" stroke-width="0.5"/>
<circle cx="556.46" cy="174.02" r="5.7" fill="#e41e24" stroke="#5a1a1a" stroke-width="0.6"/>
<line x1="556.46" y1="174.02" x2="556.46" y2="168.32" stroke="#5a1a1a" stroke-width="0.5"/>
<circle cx="569.98" cy="174.02" r="5.7" fill="none" stroke="#ec6266" stroke-width="0.5"/>
<path d="M569.98 174.02 L569.98 168.32 A5.7 5.7 0 1 1 564.56 175.78 Z" stroke="#4a2a2a" stroke-width="0.6" fill="#ec6266"/>
<circle cx="583.5" cy="174.02" r="5.7" fill="none" stroke="#f39a9c" stroke-width="0.5"/>
<path d="M583.5 174.02 L583.5 168.32 A5.7 5.7 0 0 1 585.26 179.44 Z" stroke="#4a2a2a" stroke-width="0.6" fill="#f39a9c"/>
<circle cx="597.02" cy="174.02" r="5.7" fill="none" stroke="#f39a9c" stroke-width="0.5"/>
<path d="M597.02 174.02 L597.02 168.32 A5.7 5.7 0 0 1 598.78 179.44 Z" stroke="#4a2a2a" stroke-width="0.6" fill="#f39a9c"/>
<circle cx="610.54" cy="174.02" r="5.7" fill="none" stroke="#ef787c" stroke-width="0.5"/>
<path d="M610.54 174.02 L610.54 168.32 A5.7 5.7 0 1 1 607.19 178.63 Z" stroke="#4a2a2a" stroke-width="0.6" fill="#ef787c"/>
<circle cx="637.58" cy="174.02" r="5.7" fill="none" stroke="#f2f4f9" stroke-width="0.5"/>
<path d="M637.58 174.02 L637.58 168.32 A5.7 5.7 0 0 0 635.48 168.72 Z" stroke="#2a2a4a" stroke-width="0.6" fill="#f2f4f9"/>
<circle cx="651.1" cy="174.02" r="5.7" fill="none" stroke="#fdeded" stroke-width="0.5"/>
<path d="M651.1 174.02 L651.1 168.32 A5.7 5.7 0 0 1 653.85 169.03 Z" stroke="#4a2a2a" stroke-width="0.6" fill="#fdeded"/>
<circle cx="678.14" cy="174.02" r="5.7" fill="none" stroke="#f08387" stroke-width="0.5"/>
<path d="M678.14 174.02 L678.14 168.32 A5.7 5.7 0 1 1 676.38 179.44 Z" stroke="#4a2a2a" stroke-width="0.6" fill="#f08387"/>
<circle cx="569.98" cy="187.56" r="5.7" fill="none" stroke="#e41e24" stroke-width="0.5"/>
<circle cx="569.98" cy="187.56" r="5.7" fill="#e41e24" stroke="#5a1a1a" stroke-width="0.6"/>
<line x1="569.98" y1="187.56" x2="569.98" y2="181.86" stroke="#5a1a1a" stroke-width="0.5"/>
<circle cx="583.5" cy="187.56" r="5.7" fill="none" stroke="#e84045" stroke-width="0.5"/>
<path d="M583.5 187.56 L583.5 181.86 A5.7 5.7 0 1 1 578.89 184.21 Z" stroke="#4a2a2a" stroke-width="0.6" fill="#e84045"/>
<circle cx="597.02" cy="187.56" r="5.7" fill="none" stroke="#e94b50" stroke-width="0.5"/>
<path d="M597.02 187.56 L597.02 181.86 A5.7 5.7 0 1 1 591.6 185.8 Z" stroke="#4a2a2a" stroke-width="0.6" fill="#e94b50"/>
<circle cx="610.54" cy="187.56" r="5.7" fill="none" stroke="#e94b50" stroke-width="0.5"/>
<path d="M610.54 187.56 L610.54 181.86 A5.7 5.7 0 1 1 605.12 185.8 Z" stroke="#4a2a2a" stroke-width="0.6" fill="#e94b50"/>
<circle cx="637.58" cy="187.56" r="5.7" fill="none" stroke="#eaeef6" stroke-width="0.5"/>
<path d="M637.58 187.56 L637.58 181.86 A5.7 5.7 0 0 0 634.23 182.95 Z" stroke="#2a2a4a" stroke-width="0.6" fill="#eaeef6"/>
<circle cx="678.14" cy="187.56" r="5.7" fill="none" stroke="#f28e92" stroke-width="0.5"/>
<path d="M678.14 187.56 L678.14 181.86 A5.7 5.7 0 0 1 678.14 193.26 Z" stroke="#4a2a2a" stroke-width="0.6" fill="#f28e92"/>
<circle cx="583.5" cy="201.1" r="5.7" fill="none" stroke="#e41e24" stroke-width="0.5"/>
<circle cx="583.5" cy="201.1" r="5.7" fill="#e41e24" stroke="#5a1a1a" stroke-width="0.6"/>
<line x1="583.5" y1="201.1" x2="583.5" y2="195.4" stroke="#5a1a1a" stroke-width="0.5"/>
<circle cx="597.02" cy="201.1" r="5.7" fill="none" stroke="#e94b50" stroke-width="0.5"/>
<path d="M597.02 201.1 L597.02 195.4 A5.7 5.7 0 1 1 591.6 199.34 Z" stroke="#4a2a2a" stroke-width="0.6" fill="#e94b50"/>
<circle cx="610.54" cy="201.1" r="5.7" fill="none" stroke="#eb565b" stroke-width="0.5"/>
<path d="M610.54 201.1 L610.54 195.4 A5.7 5.7 0 1 1 604.84 201.1 Z" stroke="#4a2a2a" stroke-width="0.6" fill="#eb565b"/>
<circle cx="597.02" cy="214.64" r="5.7" fill="none" stroke="#e41e24" stroke-width="0.5"/>
<circle cx="597.02" cy="214.64" r="5.7" fill="#e41e24" stroke="#5a1a1a" stroke-width="0.6"/>
<line x1="597.02" y1="214.64" x2="597.02" y2="208.94" stroke="#5a1a1a" stroke-width="0.5"/>
<circle cx="610.54" cy="214.64" r="5.7" fill="none" stroke="#e94b50" stroke-width="0.5"/>
<path d="M610.54 214.64 L610.54 208.94 A5.7 5.7 0 1 1 605.12 212.88 Z" stroke="#4a2a2a" stroke-width="0.6" fill="#e94b50"/>
<circle cx="637.58" cy="214.64" r="5.7" fill="none" stroke="#bfcae2" stroke-width="0.5"/>
<path d="M637.58 214.64 L637.58 208.94 A5.7 5.7 0 0 0 632.16 216.4 Z" stroke="#2a2a4a" stroke-width="0.6" fill="#bfcae2"/>
<circle cx="664.62" cy="214.64" r="5.7" fill="none" stroke="#f7c0c2" stroke-width="0.5"/>
<path d="M664.62 214.64 L664.62 208.94 A5.7 5.7 0 0 1 670.22 215.71 Z" stroke="#4a2a2a" stroke-width="0.6" fill="#f7c0c2"/>
<circle cx="610.54" cy="228.18" r="5.7" fill="none" stroke="#e41e24" stroke-width="0.5"/>
<circle cx="610.54" cy="228.18" r="5.7" fill="#e41e24" stroke="#5a1a1a" stroke-width="0.6"/>
<line x1="610.54" y1="228.18" x2="610.54" y2="222.48" stroke="#5a1a1a" stroke-width="0.5"/>
<circle cx="624.06" cy="228.18" r="5.7" fill="none" stroke="#f0f3f8" stroke-width="0.5"/>
<path d="M624.06 228.18 L624.06 222.48 A5.7 5.7 0 0 0 621.63 223.02 Z" stroke="#2a2a4a" stroke-width="0.6" fill="#f0f3f8"/>
<circle cx="637.58" cy="228.18" r="5.7" fill="none" stroke="#cad3e7" stroke-width="0.5"/>
<path d="M637.58 228.18 L637.58 222.48 A5.7 5.7 0 0 0 631.88 228.18 Z" stroke="#2a2a4a" stroke-width="0.6" fill="#cad3e7"/>
<circle cx="624.06" cy="241.72" r="5.7" fill="none" stroke="#e41e24" stroke-width="0.5"/>
<circle cx="624.06" cy="241.72" r="5.7" fill="#e41e24" stroke="#5a1a1a" stroke-width="0.6"/>
<line x1="624.06" y1="241.72" x2="624.06" y2="236.02" stroke="#5a1a1a" stroke-width="0.5"/>
<circle cx="637.58" cy="241.72" r="5.7" fill="none" stroke="#f28e92" stroke-width="0.5"/>
<path d="M637.58 241.72 L637.58 236.02 A5.7 5.7 0 0 1 637.58 247.42 Z" stroke="#4a2a2a" stroke-width="0.6" fill="#f28e92"/>
<circle cx="651.1" cy="241.72" r="5.7" fill="none" stroke="#f28e92" stroke-width="0.5"/>
<path d="M651.1 241.72 L651.1 236.02 A5.7 5.7 0 0 1 651.1 247.42 Z" stroke="#4a2a2a" stroke-width="0.6" fill="#f28e92"/>
<circle cx="637.58" cy="255.26" r="5.7" fill="none" stroke="#e41e24" stroke-width="0.5"/>
<circle cx="637.58" cy="255.26" r="5.7" fill="#e41e24" stroke="#5a1a1a" stroke-width="0.6"/>
<line x1="637.58" y1="255.26" x2="637.58" y2="249.56" stroke="#5a1a1a" stroke-width="0.5"/>
<circle cx="664.62" cy="255.26" r="5.7" fill="none" stroke="#cad3e7" stroke-width="0.5"/>
<path d="M664.62 255.26 L664.62 249.56 A5.7 5.7 0 0 0 658.92 255.26 Z" stroke="#2a2a4a" stroke-width="0.6" fill="#cad3e7"/>
<circle cx="651.1" cy="268.8" r="5.7" fill="none" stroke="#e41e24" stroke-width="0.5"/>
<circle cx="651.1" cy="268.8" r="5.7" fill="#e41e24" stroke="#5a1a1a" stroke-width="0.6"/>
<line x1="651.1" y1="268.8" x2="651.1" y2="263.1" stroke="#5a1a1a" stroke-width="0.5"/>
<circle cx="664.62" cy="268.8" r="5.7" fill="none" stroke="#f8c7c8" stroke-width="0.5"/>
<path d="M664.62 268.8 L664.62 263.1 A5.7 5.7 0 0 1 670.32 268.8 Z" stroke="#4a2a2a" stroke-width="0.6" fill="#f8c7c8"/>
<circle cx="664.62" cy="282.34" r="5.7" fill="none" stroke="#e41e24" stroke-width="0.5"/>
<circle cx="664.62" cy="282.34" r="5.7" fill="#e41e24" stroke="#5a1a1a" stroke-width="0.6"/>
<line x1="664.62" y1="282.34" x2="664.62" y2="276.64" stroke="#5a1a1a" stroke-width="0.5"/>
<circle cx="678.14" cy="295.88" r="5.7" fill="none" stroke="#e41e24" stroke-width="0.5"/>
<circle cx="678.14" cy="295.88" r="5.7" fill="#e41e24" stroke="#5a1a1a" stroke-width="0.6"/>
<line x1="678.14" y1="295.88" x2="678.14" y2="290.18" stroke="#5a1a1a" stroke-width="0.5"/>
<text x="429.5" y="67.2" font-size="5.7" text-anchor="middle" fill="#222" color="#222">COL1A1</text>
<text x="450.4" y="58.1" font-size="5.75" text-anchor="start" fill="#222" color="#222" transform="rotate(-90 450.4 58.1)">COL1A1</text>
<text x="443.02" y="80.74" font-size="5.7" text-anchor="middle" fill="#222" color="#222">COL1A2</text>
<text x="463.92" y="58.1" font-size="5.75" text-anchor="start" fill="#222" color="#222" transform="rotate(-90 463.92 58.1)">COL1A2</text>
<text x="456.54" y="94.28" font-size="5.7" text-anchor="middle" fill="#222" color="#222">LOXL1</text>
<text x="477.44" y="58.1" font-size="5.75" text-anchor="start" fill="#222" color="#222" transform="rotate(-90 477.44 58.1)">LOXL1</text>
<text x="470.06" y="107.82" font-size="5.7" text-anchor="middle" fill="#222" color="#222">DCN</text>
<text x="490.96" y="58.1" font-size="5.75" text-anchor="start" fill="#222" color="#222" transform="rotate(-90 490.96 58.1)">DCN</text>
<text x="483.58" y="121.36" font-size="5.7" text-anchor="middle" fill="#222" color="#222">LOXL2</text>
<text x="504.48" y="58.1" font-size="5.75" text-anchor="start" fill="#222" color="#222" transform="rotate(-90 504.48 58.1)">LOXL2</text>
<text x="497.1" y="134.9" font-size="5.7" text-anchor="middle" fill="#222" color="#222">PDGFRA</text>
<text x="518" y="58.1" font-size="5.75" text-anchor="start" fill="#222" color="#222" transform="rotate(-90 518 58.1)">PDGFRA</text>
<text x="510.62" y="148.44" font-size="5.7" text-anchor="middle" fill="#222" color="#222">MCAM</text>
<text x="531.52" y="58.1" font-size="5.75" text-anchor="start" fill="#222" color="#222" transform="rotate(-90 531.52 58.1)">MCAM</text>
<text x="524.14" y="161.98" font-size="5.7" text-anchor="middle" fill="#222" color="#222">FN1</text>
<text x="545.04" y="58.1" font-size="5.75" text-anchor="start" fill="#222" color="#222" transform="rotate(-90 545.04 58.1)">FN1</text>
<text x="537.66" y="175.52" font-size="5.7" text-anchor="middle" fill="#222" color="#222">ACTA2</text>
<text x="558.56" y="58.1" font-size="5.75" text-anchor="start" fill="#222" color="#222" transform="rotate(-90 558.56 58.1)">ACTA2</text>
<text x="551.18" y="189.06" font-size="5.7" text-anchor="middle" fill="#222" color="#222">LUM</text>
<text x="572.08" y="58.1" font-size="5.75" text-anchor="start" fill="#222" color="#222" transform="rotate(-90 572.08 58.1)">LUM</text>
<text x="564.7" y="202.6" font-size="5.7" text-anchor="middle" fill="#222" color="#222">PDPN</text>
<text x="585.6" y="58.1" font-size="5.75" text-anchor="start" fill="#222" color="#222" transform="rotate(-90 585.6 58.1)">PDPN</text>
<text x="578.22" y="216.14" font-size="5.7" text-anchor="middle" fill="#222" color="#222">VCAN</text>
<text x="599.12" y="58.1" font-size="5.75" text-anchor="start" fill="#222" color="#222" transform="rotate(-90 599.12 58.1)">VCAN</text>
<text x="591.74" y="229.68" font-size="5.7" text-anchor="middle" fill="#222" color="#222">POSTN</text>
<text x="612.64" y="58.1" font-size="5.75" text-anchor="start" fill="#222" color="#222" transform="rotate(-90 612.64 58.1)">POSTN</text>
<text x="605.26" y="243.22" font-size="5.7" text-anchor="middle" fill="#222" color="#222">ACADM</text>
<text x="626.16" y="58.1" font-size="5.75" text-anchor="start" fill="#222" color="#222" transform="rotate(-90 626.16 58.1)">ACADM</text>
<text x="618.78" y="256.76" font-size="5.7" text-anchor="middle" fill="#222" color="#222">ACADL</text>
<text x="639.68" y="58.1" font-size="5.75" text-anchor="start" fill="#222" color="#222" transform="rotate(-90 639.68 58.1)">ACADL</text>
<text x="632.3" y="270.3" font-size="5.7" text-anchor="middle" fill="#222" color="#222">CPT1A</text>
<text x="653.2" y="58.1" font-size="5.75" text-anchor="start" fill="#222" color="#222" transform="rotate(-90 653.2 58.1)">CPT1A</text>
<text x="645.82" y="283.84" font-size="5.7" text-anchor="middle" fill="#222" color="#222">CPT1B</text>
<text x="666.72" y="58.1" font-size="5.75" text-anchor="start" fill="#222" color="#222" transform="rotate(-90 666.72 58.1)">CPT1B</text>
<text x="659.34" y="297.38" font-size="5.7" text-anchor="middle" fill="#222" color="#222">CPT1C</text>
<text x="680.24" y="58.1" font-size="5.75" text-anchor="start" fill="#222" color="#222" transform="rotate(-90 680.24 58.1)">CPT1C</text>
<defs><linearGradient id="cbar" x1="0" y1="0" x2="0" y2="1"><stop offset="0" stop-color="#e41e24"/><stop offset="0.5" stop-color="#ffffff"/><stop offset="1" stop-color="#2a50a0"/></linearGradient></defs>
<rect x="689.2" y="59.2" width="9.6" height="242.9" fill="url(#cbar)" stroke="#555" stroke-width="0.4"/>
<line x1="698.8" y1="59.2" x2="700.6" y2="59.2" stroke="#333" stroke-width="0.6"/>
<text x="701.6" y="61.2" font-size="5.6" text-anchor="start" fill="#222" color="#222">1</text>
<line x1="698.8" y1="83.49" x2="700.6" y2="83.49" stroke="#333" stroke-width="0.6"/>
<text x="701.6" y="85.49" font-size="5.6" text-anchor="start" fill="#222" color="#222">0.8</text>
<line x1="698.8" y1="107.78" x2="700.6" y2="107.78" stroke="#333" stroke-width="0.6"/>
<text x="701.6" y="109.78" font-size="5.6" text-anchor="start" fill="#222" color="#222">0.6</text>
<line x1="698.8" y1="132.07" x2="700.6" y2="132.07" stroke="#333" stroke-width="0.6"/>
<text x="701.6" y="134.07" font-size="5.6" text-anchor="start" fill="#222" color="#222">0.4</text>
<line x1="698.8" y1="156.36" x2="700.6" y2="156.36" stroke="#333" stroke-width="0.6"/>
<text x="701.6" y="158.36" font-size="5.6" text-anchor="start" fill="#222" color="#222">0.2</text>
<line x1="698.8" y1="180.65" x2="700.6" y2="180.65" stroke="#333" stroke-width="0.6"/>
<text x="701.6" y="182.65" font-size="5.6" text-anchor="start" fill="#222" color="#222">0</text>
<line x1="698.8" y1="204.94" x2="700.6" y2="204.94" stroke="#333" stroke-width="0.6"/>
<text x="701.6" y="206.94" font-size="5.6" text-anchor="start" fill="#222" color="#222">−0.2</text>
<line x1="698.8" y1="229.23" x2="700.6" y2="229.23" stroke="#333" stroke-width="0.6"/>
<text x="701.6" y="231.23" font-size="5.6" text-anchor="start" fill="#222" color="#222">−0.4</text>
<line x1="698.8" y1="253.52" x2="700.6" y2="253.52" stroke="#333" stroke-width="0.6"/>
<text x="701.6" y="255.52" font-size="5.6" text-anchor="start" fill="#222" color="#222">−0.6</text>
<line x1="698.8" y1="277.81" x2="700.6" y2="277.81" stroke="#333" stroke-width="0.6"/>
<text x="701.6" y="279.81" font-size="5.6" text-anchor="start" fill="#222" color="#222">−0.8</text>
<line x1="698.8" y1="302.1" x2="700.6" y2="302.1" stroke="#333" stroke-width="0.6"/>
<text x="701.6" y="304.1" font-size="5.6" text-anchor="start" fill="#222" color="#222">−1</text>
<text x="38.4" y="632.9" font-size="6.1" text-anchor="start" fill="#222" color="#222">Strata</text>
<line x1="57.6" y1="630.8" x2="66.8" y2="630.8" stroke="#e15b3b" stroke-width="1.2"/>
<line x1="62.2" y1="629.4" x2="62.2" y2="632.2" stroke="#e15b3b" stroke-width="0.8"/>
<text x="70.5" y="632.9" font-size="6.12" text-anchor="start" fill="#222" color="#222">ACADL_expression=high</text>
<line x1="142.9" y1="630.8" x2="153.5" y2="630.8" stroke="#4070a8" stroke-width="1.2"/>
<line x1="148.2" y1="629.4" x2="148.2" y2="632.2" stroke="#4070a8" stroke-width="0.8"/>
<text x="155.4" y="632.9" font-size="6.12" text-anchor="start" fill="#222" color="#222">ACADL_expression=low</text>
<line x1="74.6" y1="643.4" x2="74.6" y2="762.1" stroke="#222" stroke-width="0.9"/>
<line x1="74.6" y1="762.1" x2="220.3" y2="762.1" stroke="#222" stroke-width="0.9"/>
<line x1="72.5" y1="648.7" x2="74.6" y2="648.7" stroke="#222" stroke-width="0.8"/>
<text x="72" y="650.9" font-size="6.2" text-anchor="end" fill="#333" color="#333">1.00</text>
<line x1="72.5" y1="675.7" x2="74.6" y2="675.7" stroke="#222" stroke-width="0.8"/>
<text x="72" y="677.9" font-size="6.2" text-anchor="end" fill="#333" color="#333">0.75</text>
<line x1="72.5" y1="702.7" x2="74.6" y2="702.7" stroke="#222" stroke-width="0.8"/>
<text x="72" y="704.9" font-size="6.2" text-anchor="end" fill="#333" color="#333">0.50</text>
<line x1="72.5" y1="729.7" x2="74.6" y2="729.7" stroke="#222" stroke-width="0.8"/>
<text x="72" y="731.9" font-size="6.2" text-anchor="end" fill="#333" color="#333">0.25</text>
<line x1="72.5" y1="756.7" x2="74.6" y2="756.7" stroke="#222" stroke-width="0.8"/>
<text x="72" y="758.9" font-size="6.2" text-anchor="end" fill="#333" color="#333">0.00</text>
<line x1="81.1" y1="762.1" x2="81.1" y2="764.2" stroke="#222" stroke-width="0.8"/>
<text x="81.1" y="769.2" font-size="6.2" text-anchor="middle" fill="#333" color="#333">0</text>
<line x1="114.32" y1="762.1" x2="114.32" y2="764.2" stroke="#222" stroke-width="0.8"/>
<text x="114.32" y="769.2" font-size="6.2" text-anchor="middle" fill="#333" color="#333">30</text>
<line x1="147.55" y1="762.1" x2="147.55" y2="764.2" stroke="#222" stroke-width="0.8"/>
<text x="147.55" y="769.2" font-size="6.2" text-anchor="middle" fill="#333" color="#333">60</text>
<line x1="180.77" y1="762.1" x2="180.77" y2="764.2" stroke="#222" stroke-width="0.8"/>
<text x="180.77" y="769.2" font-size="6.2" text-anchor="middle" fill="#333" color="#333">90</text>
<line x1="214" y1="762.1" x2="214" y2="764.2" stroke="#222" stroke-width="0.8"/>
<text x="214" y="769.2" font-size="6.2" text-anchor="middle" fill="#333" color="#333">120</text>
<text x="139.9" y="776.8" font-size="6.95" text-anchor="middle" fill="#111" color="#111">Time in months</text>
<text x="48.3" y="700.5" font-size="7.05" text-anchor="middle" fill="#111" color="#111" transform="rotate(-90 48.3 700.5)">Overall survival</text>
<text x="147.5" y="651.4" font-size="6.75" text-anchor="middle" fill="#000" color="#000" font-weight="bold">TCGA-LIHC</text>
<text x="83.9" y="737.8" font-size="7" text-anchor="start" fill="#111" color="#111">p = 0.02</text>
<path d="M81.1 648.7H81.74V650H82.96V651.29H83.56V652.59H83.77V653.88H84.98V655.18H86.29V656.26H89.8V657.34H89.9V658.42H91.07V659.5H92.9V660.58H94.98V661.66H95.04V662.74H98.82V663.82H98.85V664.9H101.86V665.98H107.02V667.06H107.37V668.32H108.2V669.58H108.2V670.84H110V672.1H111.06V673.36H112.11V674.62H112.49V675.7H120.97V676.78H122.81V677.86H123.18V678.94H123.59V680.02H123.95V681.1H123.96V682.18H124.12V683.26H125.53V684.34H128.72V685.42H129.45V686.5H131.86V687.58H134.73V688.66H135.04V689.74H135.94V690.82H137.2V691.9H139.83V692.98H140.9V694.06H141.4V695.14H142.71V696.22H144.6V697.3H144.89V698.38H157.27V699.68H157.53V700.97H157.77V702.27H157.88V703.56H158.62V704.86H172.01V706.02H172.21V707.17H172.4V708.33H172.42V709.48H172.49V710.64H173.08V711.8H173.33V712.95H173.69V714.11H173.75V715.27H173.77V716.42H173.82V717.58H173.93V718.73H174.02V719.89H174.09V721.05H174.16V722.2H174.28V723.36H174.35V724.52H196.61V735.1H217.32" stroke="#e15b3b" stroke-width="1.55" fill="none" stroke-linejoin="miter"/>
<path d="M81.1 648.7H81.24V649.92H81.81V651.13H81.92V652.35H82.18V653.56H84.92V654.78H86.72V655.99H86.96V657.21H86.97V658.42H88.36V659.68H88.88V660.94H89.04V662.2H92.29V663.46H92.71V664.72H92.95V665.98H94.75V667.24H95V668.5H95.07V669.76H95.71V671.02H95.74V672.28H95.94V673.54H96.08V674.62H96.84V675.7H97.64V676.78H98.48V677.86H98.82V678.94H99.62V680.02H101.27V681.1H102.4V682.18H102.77V683.26H103.03V684.34H105.29V685.42H106.11V686.5H106.86V687.58H107.02V688.66H108.56V689.74H110.68V690.82H111.19V691.9H113V692.98H115.49V694.06H120.62V695.14H120.97V696.22H127.03V697.3H128.37V698.38H128.72V699.46H134.13V700.54H137.03V701.62H137.9V702.7H141.09V703.78H142.06V704.86H143.12V705.94H143.39V707.02H144.14V708.1H146.06V709.18H148.66V710.26H173.02V718.25H201.37V730.89H209.57" stroke="#4070a8" stroke-width="1.55" fill="none" stroke-linejoin="miter"/>
<line x1="96.34" y1="661.04" x2="96.34" y2="664.44" stroke="#e15b3b" stroke-width="0.9"/>
<line x1="99.8" y1="663.2" x2="99.8" y2="666.6" stroke="#e15b3b" stroke-width="0.9"/>
<line x1="127.39" y1="682.64" x2="127.39" y2="686.04" stroke="#e15b3b" stroke-width="0.9"/>
<line x1="133.45" y1="685.88" x2="133.45" y2="689.28" stroke="#e15b3b" stroke-width="0.9"/>
<line x1="192.53" y1="722.82" x2="192.53" y2="726.22" stroke="#e15b3b" stroke-width="0.9"/>
<line x1="119.53" y1="692.36" x2="119.53" y2="695.76" stroke="#4070a8" stroke-width="0.9"/>
<line x1="122.41" y1="694.52" x2="122.41" y2="697.92" stroke="#4070a8" stroke-width="0.9"/>
<line x1="132.66" y1="697.76" x2="132.66" y2="701.16" stroke="#4070a8" stroke-width="0.9"/>
<line x1="139.96" y1="701" x2="139.96" y2="704.4" stroke="#4070a8" stroke-width="0.9"/>
<line x1="171.42" y1="708.56" x2="171.42" y2="711.96" stroke="#4070a8" stroke-width="0.9"/>
<line x1="188.35" y1="716.55" x2="188.35" y2="719.95" stroke="#4070a8" stroke-width="0.9"/>
<line x1="202.54" y1="729.19" x2="202.54" y2="732.59" stroke="#4070a8" stroke-width="0.9"/>
<text x="75.1" y="790" font-size="7.85" text-anchor="start" fill="#111" color="#111">Number at risk</text>
<text x="71.8" y="802.2" font-size="6" text-anchor="end" fill="#e8967e" color="#e8967e">ACADL_expression=high</text>
<text x="71.8" y="812.2" font-size="6" text-anchor="end" fill="#7d9fcb" color="#7d9fcb">ACADL_expression=low</text>
<line x1="74.6" y1="795.2" x2="74.6" y2="815.2" stroke="#222" stroke-width="0.9"/>
<line x1="74.6" y1="815.2" x2="220.3" y2="815.2" stroke="#222" stroke-width="0.9"/>
<line x1="72.5" y1="800.1" x2="74.6" y2="800.1" stroke="#222" stroke-width="0.8"/>
<line x1="72.5" y1="810.1" x2="74.6" y2="810.1" stroke="#222" stroke-width="0.8"/>
<text x="81.1" y="802.3" font-size="6.3" text-anchor="middle" fill="#111" color="#111">184</text>
<text x="81.1" y="812.3" font-size="6.3" text-anchor="middle" fill="#111" color="#111">184</text>
<line x1="81.1" y1="815.2" x2="81.1" y2="817.3" stroke="#222" stroke-width="0.8"/>
<text x="81.1" y="822.7" font-size="6.2" text-anchor="middle" fill="#333" color="#333">0</text>
<text x="114.32" y="802.3" font-size="6.3" text-anchor="middle" fill="#111" color="#111">60</text>
<text x="114.32" y="812.3" font-size="6.3" text-anchor="middle" fill="#111" color="#111">53</text>
<line x1="114.32" y1="815.2" x2="114.32" y2="817.3" stroke="#222" stroke-width="0.8"/>
<text x="114.32" y="822.7" font-size="6.2" text-anchor="middle" fill="#333" color="#333">30</text>
<text x="147.55" y="802.3" font-size="6.3" text-anchor="middle" fill="#111" color="#111">25</text>
<text x="147.55" y="812.3" font-size="6.3" text-anchor="middle" fill="#111" color="#111">20</text>
<line x1="147.55" y1="815.2" x2="147.55" y2="817.3" stroke="#222" stroke-width="0.8"/>
<text x="147.55" y="822.7" font-size="6.2" text-anchor="middle" fill="#333" color="#333">60</text>
<text x="180.77" y="802.3" font-size="6.3" text-anchor="middle" fill="#111" color="#111">5</text>
<text x="180.77" y="812.3" font-size="6.3" text-anchor="middle" fill="#111" color="#111">4</text>
<line x1="180.77" y1="815.2" x2="180.77" y2="817.3" stroke="#222" stroke-width="0.8"/>
<text x="180.77" y="822.7" font-size="6.2" text-anchor="middle" fill="#333" color="#333">90</text>
<text x="214" y="802.3" font-size="6.3" text-anchor="middle" fill="#111" color="#111">1</text>
<text x="214" y="812.3" font-size="6.3" text-anchor="middle" fill="#111" color="#111">0</text>
<line x1="214" y1="815.2" x2="214" y2="817.3" stroke="#222" stroke-width="0.8"/>
<text x="214" y="822.7" font-size="6.2" text-anchor="middle" fill="#333" color="#333">120</text>
<text x="147.7" y="830.2" font-size="7" text-anchor="middle" fill="#111" color="#111">Time</text>
<text x="275.9" y="632.9" font-size="6.1" text-anchor="start" fill="#222" color="#222">Strata</text>
<line x1="295.1" y1="630.8" x2="304.3" y2="630.8" stroke="#e15b3b" stroke-width="1.2"/>
<line x1="299.7" y1="629.4" x2="299.7" y2="632.2" stroke="#e15b3b" stroke-width="0.8"/>
<text x="308" y="632.9" font-size="6.12" text-anchor="start" fill="#222" color="#222">ACADL_expression=high</text>
<line x1="380.4" y1="630.8" x2="391" y2="630.8" stroke="#4070a8" stroke-width="1.2"/>
<line x1="385.7" y1="629.4" x2="385.7" y2="632.2" stroke="#4070a8" stroke-width="0.8"/>
<text x="392.9" y="632.9" font-size="6.12" text-anchor="start" fill="#222" color="#222">ACADL_expression=low</text>
<line x1="306.4" y1="643.4" x2="306.4" y2="762.1" stroke="#222" stroke-width="0.9"/>
<line x1="306.4" y1="762.1" x2="452.1" y2="762.1" stroke="#222" stroke-width="0.9"/>
<line x1="304.3" y1="648.7" x2="306.4" y2="648.7" stroke="#222" stroke-width="0.8"/>
<text x="303.8" y="650.9" font-size="6.2" text-anchor="end" fill="#333" color="#333">1.00</text>
<line x1="304.3" y1="675.7" x2="306.4" y2="675.7" stroke="#222" stroke-width="0.8"/>
<text x="303.8" y="677.9" font-size="6.2" text-anchor="end" fill="#333" color="#333">0.75</text>
<line x1="304.3" y1="702.7" x2="306.4" y2="702.7" stroke="#222" stroke-width="0.8"/>
<text x="303.8" y="704.9" font-size="6.2" text-anchor="end" fill="#333" color="#333">0.50</text>
<line x1="304.3" y1="729.7" x2="306.4" y2="729.7" stroke="#222" stroke-width="0.8"/>
<text x="303.8" y="731.9" font-size="6.2" text-anchor="end" fill="#333" color="#333">0.25</text>
<line x1="304.3" y1="756.7" x2="306.4" y2="756.7" stroke="#222" stroke-width="0.8"/>
<text x="303.8" y="758.9" font-size="6.2" text-anchor="end" fill="#333" color="#333">0.00</text>
<line x1="312.9" y1="762.1" x2="312.9" y2="764.2" stroke="#222" stroke-width="0.8"/>
<text x="312.9" y="769.2" font-size="6.2" text-anchor="middle" fill="#333" color="#333">0</text>
<line x1="346.12" y1="762.1" x2="346.12" y2="764.2" stroke="#222" stroke-width="0.8"/>
<text x="346.12" y="769.2" font-size="6.2" text-anchor="middle" fill="#333" color="#333">30</text>
<line x1="379.35" y1="762.1" x2="379.35" y2="764.2" stroke="#222" stroke-width="0.8"/>
<text x="379.35" y="769.2" font-size="6.2" text-anchor="middle" fill="#333" color="#333">60</text>
<line x1="412.57" y1="762.1" x2="412.57" y2="764.2" stroke="#222" stroke-width="0.8"/>
<text x="412.57" y="769.2" font-size="6.2" text-anchor="middle" fill="#333" color="#333">90</text>
<line x1="445.8" y1="762.1" x2="445.8" y2="764.2" stroke="#222" stroke-width="0.8"/>
<text x="445.8" y="769.2" font-size="6.2" text-anchor="middle" fill="#333" color="#333">120</text>
<text x="371.7" y="776.8" font-size="6.95" text-anchor="middle" fill="#111" color="#111">Time in months</text>
<text x="280.1" y="700.5" font-size="7.05" text-anchor="middle" fill="#111" color="#111" transform="rotate(-90 280.1 700.5)">Disease free survival</text>
<text x="394" y="651.4" font-size="6.75" text-anchor="middle" fill="#000" color="#000" font-weight="bold">TCGA-LIHC</text>
<text x="315.7" y="737.8" font-size="7" text-anchor="start" fill="#111" color="#111">p = 0.054</text>
<path d="M312.9 648.7H321.24V649.78H321.52V650.86H322.29V651.94H323.97V653.02H328.9V654.1H331.17V655.18H331.98V656.26H332.17V657.34H338.37V658.42H339.11V659.5H339.53V660.58H342.06V661.66H342.15V662.74H343.36V663.82H343.66V664.9H344.82V665.98H345.57V667.06H353.32V668.14H355.06V669.22H355.4V670.3H357.2V671.38H357.77V672.46H359.71V673.54H363.27V674.62H363.29V675.7H363.42V676.78H365.75V677.86H369.02V678.94H369.38V680.02H370.48V681.1H371.21V682.18H371.4V683.26H374.92V684.34H375.85V685.42H375.88V686.5H379.15V687.58H379.35V688.66H391.03V689.74H391.07V690.82H391.53V691.9H403.06V693.13H403.39V694.37H404.46V695.6H404.47V696.84H404.72V698.07H404.8V699.31H404.82V700.54H404.89V701.7H404.91V702.85H405.25V704.01H405.31V705.17H405.31V706.33H405.56V707.48H405.57V708.64H406.24V709.8H406.26V710.95H406.44V712.11H406.45V713.27H406.59V714.43H406.75V715.58H407.04V716.74H428.19V729.7H449.12" stroke="#e15b3b" stroke-width="1.55" fill="none" stroke-linejoin="miter"/>
<path d="M312.9 648.7H313.71V649.78H315.15V650.86H316.09V651.94H323.42V653.02H323.59V654.1H324.25V655.18H324.62V656.26H324.92V657.34H325.08V658.42H327.34V659.68H327.4V660.94H328.82V662.2H328.99V663.46H329.27V664.72H329.51V665.98H329.52V667.28H330.28V668.57H331.77V669.87H334.11V671.16H335.6V672.46H335.65V673.54H339.25V674.62H339.77V675.7H339.8V676.78H340.59V677.86H341.93V678.94H346.92V680.02H347.23V681.1H347.91V682.18H348.16V683.26H348.24V684.34H355.35V685.42H355.54V686.5H355.74V687.58H357.13V688.66H365.51V689.74H365.89V690.82H366V691.9H369.03V692.98H375.47V694.06H376.47V695.41H381.56V696.76H442.48" stroke="#4070a8" stroke-width="1.55" fill="none" stroke-linejoin="miter"/>
<line x1="320.24" y1="647" x2="320.24" y2="650.4" stroke="#e15b3b" stroke-width="0.9"/>
<line x1="367.57" y1="676.16" x2="367.57" y2="679.56" stroke="#e15b3b" stroke-width="0.9"/>
<line x1="373.56" y1="681.56" x2="373.56" y2="684.96" stroke="#e15b3b" stroke-width="0.9"/>
<line x1="377.61" y1="684.8" x2="377.61" y2="688.2" stroke="#e15b3b" stroke-width="0.9"/>
<line x1="385.95" y1="686.96" x2="385.95" y2="690.36" stroke="#e15b3b" stroke-width="0.9"/>
<line x1="444.52" y1="728" x2="444.52" y2="731.4" stroke="#e15b3b" stroke-width="0.9"/>
<line x1="336.76" y1="671.84" x2="336.76" y2="675.24" stroke="#4070a8" stroke-width="0.9"/>
<line x1="345.28" y1="677.24" x2="345.28" y2="680.64" stroke="#4070a8" stroke-width="0.9"/>
<line x1="350.11" y1="682.64" x2="350.11" y2="686.04" stroke="#4070a8" stroke-width="0.9"/>
<line x1="368" y1="690.2" x2="368" y2="693.6" stroke="#4070a8" stroke-width="0.9"/>
<line x1="372.69" y1="691.28" x2="372.69" y2="694.68" stroke="#4070a8" stroke-width="0.9"/>
<line x1="380.63" y1="693.71" x2="380.63" y2="697.11" stroke="#4070a8" stroke-width="0.9"/>
<line x1="434.5" y1="695.06" x2="434.5" y2="698.46" stroke="#4070a8" stroke-width="0.9"/>
<text x="306.9" y="790" font-size="7.85" text-anchor="start" fill="#111" color="#111">Number at risk</text>
<text x="303.6" y="802.2" font-size="6" text-anchor="end" fill="#e8967e" color="#e8967e">ACADL_expression=high</text>
<text x="303.6" y="812.2" font-size="6" text-anchor="end" fill="#7d9fcb" color="#7d9fcb">ACADL_expression=low</text>
<line x1="306.4" y1="795.2" x2="306.4" y2="815.2" stroke="#222" stroke-width="0.9"/>
<line x1="306.4" y1="815.2" x2="452.1" y2="815.2" stroke="#222" stroke-width="0.9"/>
<line x1="304.3" y1="800.1" x2="306.4" y2="800.1" stroke="#222" stroke-width="0.8"/>
<line x1="304.3" y1="810.1" x2="306.4" y2="810.1" stroke="#222" stroke-width="0.8"/>
<text x="312.9" y="802.3" font-size="6.3" text-anchor="middle" fill="#111" color="#111">182</text>
<text x="312.9" y="812.3" font-size="6.3" text-anchor="middle" fill="#111" color="#111">178</text>
<line x1="312.9" y1="815.2" x2="312.9" y2="817.3" stroke="#222" stroke-width="0.8"/>
<text x="312.9" y="822.7" font-size="6.2" text-anchor="middle" fill="#333" color="#333">0</text>
<text x="346.12" y="802.3" font-size="6.3" text-anchor="middle" fill="#111" color="#111">60</text>
<text x="346.12" y="812.3" font-size="6.3" text-anchor="middle" fill="#111" color="#111">52</text>
<line x1="346.12" y1="815.2" x2="346.12" y2="817.3" stroke="#222" stroke-width="0.8"/>
<text x="346.12" y="822.7" font-size="6.2" text-anchor="middle" fill="#333" color="#333">30</text>
<text x="379.35" y="802.3" font-size="6.3" text-anchor="middle" fill="#111" color="#111">25</text>
<text x="379.35" y="812.3" font-size="6.3" text-anchor="middle" fill="#111" color="#111">20</text>
<line x1="379.35" y1="815.2" x2="379.35" y2="817.3" stroke="#222" stroke-width="0.8"/>
<text x="379.35" y="822.7" font-size="6.2" text-anchor="middle" fill="#333" color="#333">60</text>
<text x="412.57" y="802.3" font-size="6.3" text-anchor="middle" fill="#111" color="#111">5</text>
<text x="412.57" y="812.3" font-size="6.3" text-anchor="middle" fill="#111" color="#111">4</text>
<line x1="412.57" y1="815.2" x2="412.57" y2="817.3" stroke="#222" stroke-width="0.8"/>
<text x="412.57" y="822.7" font-size="6.2" text-anchor="middle" fill="#333" color="#333">90</text>
<text x="445.8" y="802.3" font-size="6.3" text-anchor="middle" fill="#111" color="#111">1</text>
<text x="445.8" y="812.3" font-size="6.3" text-anchor="middle" fill="#111" color="#111">0</text>
<line x1="445.8" y1="815.2" x2="445.8" y2="817.3" stroke="#222" stroke-width="0.8"/>
<text x="445.8" y="822.7" font-size="6.2" text-anchor="middle" fill="#333" color="#333">120</text>
<text x="379.5" y="830.2" font-size="7" text-anchor="middle" fill="#111" color="#111">Time</text>
<text x="38.4" y="874.5" font-size="6.1" text-anchor="start" fill="#222" color="#222">Strata</text>
<line x1="57.6" y1="872.4" x2="66.8" y2="872.4" stroke="#e15b3b" stroke-width="1.2"/>
<line x1="62.2" y1="871" x2="62.2" y2="873.8" stroke="#e15b3b" stroke-width="0.8"/>
<text x="70.5" y="874.5" font-size="6.12" text-anchor="start" fill="#222" color="#222">ACADL_expression=high</text>
<line x1="142.9" y1="872.4" x2="153.5" y2="872.4" stroke="#4070a8" stroke-width="1.2"/>
<line x1="148.2" y1="871" x2="148.2" y2="873.8" stroke="#4070a8" stroke-width="0.8"/>
<text x="155.4" y="874.5" font-size="6.12" text-anchor="start" fill="#222" color="#222">ACADL_expression=low</text>
<line x1="74.6" y1="886.3" x2="74.6" y2="1005" stroke="#222" stroke-width="0.9"/>
<line x1="74.6" y1="1005" x2="220.3" y2="1005" stroke="#222" stroke-width="0.9"/>
<line x1="72.5" y1="891.6" x2="74.6" y2="891.6" stroke="#222" stroke-width="0.8"/>
<text x="72" y="893.8" font-size="6.2" text-anchor="end" fill="#333" color="#333">1.00</text>
<line x1="72.5" y1="918.6" x2="74.6" y2="918.6" stroke="#222" stroke-width="0.8"/>
<text x="72" y="920.8" font-size="6.2" text-anchor="end" fill="#333" color="#333">0.75</text>
<line x1="72.5" y1="945.6" x2="74.6" y2="945.6" stroke="#222" stroke-width="0.8"/>
<text x="72" y="947.8" font-size="6.2" text-anchor="end" fill="#333" color="#333">0.50</text>
<line x1="72.5" y1="972.6" x2="74.6" y2="972.6" stroke="#222" stroke-width="0.8"/>
<text x="72" y="974.8" font-size="6.2" text-anchor="end" fill="#333" color="#333">0.25</text>
<line x1="72.5" y1="999.6" x2="74.6" y2="999.6" stroke="#222" stroke-width="0.8"/>
<text x="72" y="1001.8" font-size="6.2" text-anchor="end" fill="#333" color="#333">0.00</text>
<line x1="81.1" y1="1005" x2="81.1" y2="1007.1" stroke="#222" stroke-width="0.8"/>
<text x="81.1" y="1012.1" font-size="6.2" text-anchor="middle" fill="#333" color="#333">0</text>
<line x1="147.55" y1="1005" x2="147.55" y2="1007.1" stroke="#222" stroke-width="0.8"/>
<text x="147.55" y="1012.1" font-size="6.2" text-anchor="middle" fill="#333" color="#333">30</text>
<line x1="214" y1="1005" x2="214" y2="1007.1" stroke="#222" stroke-width="0.8"/>
<text x="214" y="1012.1" font-size="6.2" text-anchor="middle" fill="#333" color="#333">60</text>
<text x="139.9" y="1019.7" font-size="6.95" text-anchor="middle" fill="#111" color="#111">Time in months</text>
<text x="48.3" y="949.6" font-size="7.05" text-anchor="middle" fill="#111" color="#111" transform="rotate(-90 48.3 949.6)">Overall survival</text>
<text x="160.2" y="894.3" font-size="6.75" text-anchor="middle" fill="#000" color="#000" font-weight="bold">GSE14520</text>
<text x="83.9" y="980.7" font-size="7" text-anchor="start" fill="#111" color="#111">p = 0.068</text>
<path d="M81.1 891.6H89.37V892.68H91.29V893.76H93.05V894.84H93.74V895.92H101V897H101.92V898.08H106.15V899.16H106.97V900.24H109.23V901.32H111.27V902.4H112.17V903.48H112.29V904.56H113.12V905.64H114.55V906.72H120.26V907.8H121.86V908.88H125.37V909.96H126.32V911.04H127.17V912.12H129.99V913.2H133.6V914.28H135.24V915.36H144.23V916.44H145.82V917.52H154.86V918.6H165.49V919.68H176.12V920.76H177.9V921.84H183.81V922.92H186.76V924H187.39V925.08H193.36V926.16H193.72V927.24H197.39V928.32H212.23V929.4H212.3V930.48H213.97V931.56H214.15V932.64H214.44V933.72H218.43" stroke="#e15b3b" stroke-width="1.55" fill="none" stroke-linejoin="miter"/>
<path d="M81.1 891.6H87.08V892.68H87.16V893.76H87.93V894.84H89.06V895.92H90.18V897H91.86V898.08H95.28V899.16H95.73V900.24H97.71V901.32H97.84V902.62H98.08V903.91H99.49V905.21H101.47V906.5H101.92V907.8H102.09V908.88H103.2V909.96H103.33V911.04H105.17V912.12H108.34V913.2H110.69V914.5H114.14V915.79H114.61V917.09H115.25V918.38H118.98V919.68H127.39V920.76H127.46V921.84H136V922.92H138.03V924H140.89V925.08H143.9V926.16H144.81V927.24H146.44V928.32H147.75V929.4H149.28V930.48H154.5V931.56H154.86V932.64H155.46V933.72H155.48V934.8H160.3V935.88H161.28V936.96H188.97V938.04H195.39V939.12H197.55V940.2H199.6V941.28H205.74V942.36H208.02V943.44H218.43" stroke="#4070a8" stroke-width="1.55" fill="none" stroke-linejoin="miter"/>
<line x1="97.7" y1="894.22" x2="97.7" y2="897.62" stroke="#e15b3b" stroke-width="0.9"/>
<line x1="139.82" y1="913.66" x2="139.82" y2="917.06" stroke="#e15b3b" stroke-width="0.9"/>
<line x1="152.8" y1="915.82" x2="152.8" y2="919.22" stroke="#e15b3b" stroke-width="0.9"/>
<line x1="157.12" y1="916.9" x2="157.12" y2="920.3" stroke="#e15b3b" stroke-width="0.9"/>
<line x1="173.11" y1="917.98" x2="173.11" y2="921.38" stroke="#e15b3b" stroke-width="0.9"/>
<line x1="191.39" y1="923.38" x2="191.39" y2="926.78" stroke="#e15b3b" stroke-width="0.9"/>
<line x1="210.09" y1="926.62" x2="210.09" y2="930.02" stroke="#e15b3b" stroke-width="0.9"/>
<line x1="125.5" y1="917.98" x2="125.5" y2="921.38" stroke="#4070a8" stroke-width="0.9"/>
<line x1="130.01" y1="920.14" x2="130.01" y2="923.54" stroke="#4070a8" stroke-width="0.9"/>
<line x1="164.85" y1="935.26" x2="164.85" y2="938.66" stroke="#4070a8" stroke-width="0.9"/>
<line x1="201.66" y1="939.58" x2="201.66" y2="942.98" stroke="#4070a8" stroke-width="0.9"/>
<line x1="213.27" y1="941.74" x2="213.27" y2="945.14" stroke="#4070a8" stroke-width="0.9"/>
<text x="75.1" y="1032.9" font-size="7.85" text-anchor="start" fill="#111" color="#111">Number at risk</text>
<text x="71.8" y="1045.1" font-size="6" text-anchor="end" fill="#e8967e" color="#e8967e">ACADL_expression=high</text>
<text x="71.8" y="1055.1" font-size="6" text-anchor="end" fill="#7d9fcb" color="#7d9fcb">ACADL_expression=low</text>
<line x1="74.6" y1="1038.1" x2="74.6" y2="1058.1" stroke="#222" stroke-width="0.9"/>
<line x1="74.6" y1="1058.1" x2="220.3" y2="1058.1" stroke="#222" stroke-width="0.9"/>
<line x1="72.5" y1="1043" x2="74.6" y2="1043" stroke="#222" stroke-width="0.8"/>
<line x1="72.5" y1="1053" x2="74.6" y2="1053" stroke="#222" stroke-width="0.8"/>
<text x="81.1" y="1045.2" font-size="6.3" text-anchor="middle" fill="#111" color="#111">110</text>
<text x="81.1" y="1055.2" font-size="6.3" text-anchor="middle" fill="#111" color="#111">111</text>
<line x1="81.1" y1="1058.1" x2="81.1" y2="1060.2" stroke="#222" stroke-width="0.8"/>
<text x="81.1" y="1065.6" font-size="6.2" text-anchor="middle" fill="#333" color="#333">0</text>
<text x="147.55" y="1045.2" font-size="6.3" text-anchor="middle" fill="#111" color="#111">79</text>
<text x="147.55" y="1055.2" font-size="6.3" text-anchor="middle" fill="#111" color="#111">65</text>
<line x1="147.55" y1="1058.1" x2="147.55" y2="1060.2" stroke="#222" stroke-width="0.8"/>
<text x="147.55" y="1065.6" font-size="6.2" text-anchor="middle" fill="#333" color="#333">30</text>
<text x="214" y="1045.2" font-size="6.3" text-anchor="middle" fill="#111" color="#111">22</text>
<text x="214" y="1055.2" font-size="6.3" text-anchor="middle" fill="#111" color="#111">19</text>
<line x1="214" y1="1058.1" x2="214" y2="1060.2" stroke="#222" stroke-width="0.8"/>
<text x="214" y="1065.6" font-size="6.2" text-anchor="middle" fill="#333" color="#333">60</text>
<text x="147.7" y="1073.1" font-size="7" text-anchor="middle" fill="#111" color="#111">Time</text>
<text x="275.9" y="874.5" font-size="6.1" text-anchor="start" fill="#222" color="#222">Strata</text>
<line x1="295.1" y1="872.4" x2="304.3" y2="872.4" stroke="#e15b3b" stroke-width="1.2"/>
<line x1="299.7" y1="871" x2="299.7" y2="873.8" stroke="#e15b3b" stroke-width="0.8"/>
<text x="308" y="874.5" font-size="6.12" text-anchor="start" fill="#222" color="#222">ACADL_expression=high</text>
<line x1="380.4" y1="872.4" x2="391" y2="872.4" stroke="#4070a8" stroke-width="1.2"/>
<line x1="385.7" y1="871" x2="385.7" y2="873.8" stroke="#4070a8" stroke-width="0.8"/>
<text x="392.9" y="874.5" font-size="6.12" text-anchor="start" fill="#222" color="#222">ACADL_expression=low</text>
<line x1="306.4" y1="886.3" x2="306.4" y2="1005" stroke="#222" stroke-width="0.9"/>
<line x1="306.4" y1="1005" x2="452.1" y2="1005" stroke="#222" stroke-width="0.9"/>
<line x1="304.3" y1="891.6" x2="306.4" y2="891.6" stroke="#222" stroke-width="0.8"/>
<text x="303.8" y="893.8" font-size="6.2" text-anchor="end" fill="#333" color="#333">1.00</text>
<line x1="304.3" y1="918.6" x2="306.4" y2="918.6" stroke="#222" stroke-width="0.8"/>
<text x="303.8" y="920.8" font-size="6.2" text-anchor="end" fill="#333" color="#333">0.75</text>
<line x1="304.3" y1="945.6" x2="306.4" y2="945.6" stroke="#222" stroke-width="0.8"/>
<text x="303.8" y="947.8" font-size="6.2" text-anchor="end" fill="#333" color="#333">0.50</text>
<line x1="304.3" y1="972.6" x2="306.4" y2="972.6" stroke="#222" stroke-width="0.8"/>
<text x="303.8" y="974.8" font-size="6.2" text-anchor="end" fill="#333" color="#333">0.25</text>
<line x1="304.3" y1="999.6" x2="306.4" y2="999.6" stroke="#222" stroke-width="0.8"/>
<text x="303.8" y="1001.8" font-size="6.2" text-anchor="end" fill="#333" color="#333">0.00</text>
<line x1="312.9" y1="1005" x2="312.9" y2="1007.1" stroke="#222" stroke-width="0.8"/>
<text x="312.9" y="1012.1" font-size="6.2" text-anchor="middle" fill="#333" color="#333">0</text>
<line x1="379.35" y1="1005" x2="379.35" y2="1007.1" stroke="#222" stroke-width="0.8"/>
<text x="379.35" y="1012.1" font-size="6.2" text-anchor="middle" fill="#333" color="#333">30</text>
<line x1="445.8" y1="1005" x2="445.8" y2="1007.1" stroke="#222" stroke-width="0.8"/>
<text x="445.8" y="1012.1" font-size="6.2" text-anchor="middle" fill="#333" color="#333">60</text>
<text x="371.7" y="1019.7" font-size="6.95" text-anchor="middle" fill="#111" color="#111">Time in months</text>
<text x="280.1" y="949.6" font-size="7.05" text-anchor="middle" fill="#111" color="#111" transform="rotate(-90 280.1 949.6)">Disease free survival</text>
<text x="391.4" y="894.3" font-size="6.75" text-anchor="middle" fill="#000" color="#000" font-weight="bold">GSE14520</text>
<text x="315.7" y="980.7" font-size="7" text-anchor="start" fill="#111" color="#111">p = 0.042</text>
<path d="M312.9 891.6H317.37V892.68H318.88V893.76H325.3V894.84H326.02V895.92H327.53V897H328.94V898.08H329.73V899.16H331.22V900.24H333.28V901.32H336.16V902.4H338.36V903.48H341.29V904.56H341.69V905.64H344.12V906.72H344.48V907.8H344.94V908.88H345.98V909.96H346.12V911.04H349.89V912.12H352.55V913.2H354.14V914.28H354.34V915.36H356.96V916.44H356.98V917.52H357.1V918.6H360.57V919.68H361.12V920.76H361.19V921.84H362.62V922.92H363.83V924H366.72V925.08H371.96V926.16H373.15V927.24H373.93V928.32H375.88V929.4H377.58V930.48H379.12V931.56H380.88V932.64H381.79V933.72H389.79V934.8H390.42V935.88H406.17V936.96H407.7V938.04H409.37V939.12H411.49V940.2H414.27V941.28H416.34V942.36H429.04V943.44H432.21V944.52H433.62V945.6H439.44V946.68H440.04V947.76H452.89V948.84H452.89" stroke="#e15b3b" stroke-width="1.55" fill="none" stroke-linejoin="miter"/>
<path d="M312.9 891.6H316.89V892.68H317.06V893.98H318.39V895.27H319.14V896.57H319.92V897.86H319.99V899.16H320.52V900.36H320.6V901.56H321.14V902.76H321.34V903.96H321.36V905.16H323.04V906.36H323.12V907.56H323.29V908.76H323.31V909.96H323.49V911.04H325.37V912.12H326.66V913.2H328.63V914.28H328.69V915.51H329.01V916.75H329.57V917.98H329.9V919.22H330.15V920.45H332.94V921.69H334.16V922.92H336.38V924H338.72V925.08H338.92V926.16H338.94V927.24H339.48V928.32H344.73V929.4H345.02V930.48H351.27V931.56H355.87V932.64H361.52V933.72H363.29V934.8H364.29V935.88H365.55V936.96H369.11V938.04H373.15V939.12H376.49V940.2H379.57V941.28H381.52V942.36H385.32V943.44H390.42V944.52H391.62V945.6H392.8V946.68H403.27V947.76H416.34V948.84H422.37V949.92H424.98V951H428.4V952.08H429.19V953.16H442.26V954.24H443.67V955.32H444.44V956.4H445.58V957.48H452.89" stroke="#4070a8" stroke-width="1.55" fill="none" stroke-linejoin="miter"/>
<line x1="385.67" y1="932.02" x2="385.67" y2="935.42" stroke="#e15b3b" stroke-width="0.9"/>
<line x1="401.57" y1="934.18" x2="401.57" y2="937.58" stroke="#e15b3b" stroke-width="0.9"/>
<line x1="435.92" y1="943.9" x2="435.92" y2="947.3" stroke="#e15b3b" stroke-width="0.9"/>
<line x1="442.44" y1="946.06" x2="442.44" y2="949.46" stroke="#e15b3b" stroke-width="0.9"/>
<line x1="349.48" y1="928.78" x2="349.48" y2="932.18" stroke="#4070a8" stroke-width="0.9"/>
<line x1="359.24" y1="930.94" x2="359.24" y2="934.34" stroke="#4070a8" stroke-width="0.9"/>
<line x1="401.01" y1="944.98" x2="401.01" y2="948.38" stroke="#4070a8" stroke-width="0.9"/>
<line x1="408.71" y1="946.06" x2="408.71" y2="949.46" stroke="#4070a8" stroke-width="0.9"/>
<line x1="418.5" y1="947.14" x2="418.5" y2="950.54" stroke="#4070a8" stroke-width="0.9"/>
<line x1="449.67" y1="955.78" x2="449.67" y2="959.18" stroke="#4070a8" stroke-width="0.9"/>
<text x="306.9" y="1032.9" font-size="7.85" text-anchor="start" fill="#111" color="#111">Number at risk</text>
<text x="303.6" y="1045.1" font-size="6" text-anchor="end" fill="#e8967e" color="#e8967e">ACADL_expression=high</text>
<text x="303.6" y="1055.1" font-size="6" text-anchor="end" fill="#7d9fcb" color="#7d9fcb">ACADL_expression=low</text>
<line x1="306.4" y1="1038.1" x2="306.4" y2="1058.1" stroke="#222" stroke-width="0.9"/>
<line x1="306.4" y1="1058.1" x2="452.1" y2="1058.1" stroke="#222" stroke-width="0.9"/>
<line x1="304.3" y1="1043" x2="306.4" y2="1043" stroke="#222" stroke-width="0.8"/>
<line x1="304.3" y1="1053" x2="306.4" y2="1053" stroke="#222" stroke-width="0.8"/>
<text x="312.9" y="1045.2" font-size="6.3" text-anchor="middle" fill="#111" color="#111">110</text>
<text x="312.9" y="1055.2" font-size="6.3" text-anchor="middle" fill="#111" color="#111">111</text>
<line x1="312.9" y1="1058.1" x2="312.9" y2="1060.2" stroke="#222" stroke-width="0.8"/>
<text x="312.9" y="1065.6" font-size="6.2" text-anchor="middle" fill="#333" color="#333">0</text>
<text x="379.35" y="1045.2" font-size="6.3" text-anchor="middle" fill="#111" color="#111">64</text>
<text x="379.35" y="1055.2" font-size="6.3" text-anchor="middle" fill="#111" color="#111">50</text>
<line x1="379.35" y1="1058.1" x2="379.35" y2="1060.2" stroke="#222" stroke-width="0.8"/>
<text x="379.35" y="1065.6" font-size="6.2" text-anchor="middle" fill="#333" color="#333">30</text>
<text x="445.8" y="1045.2" font-size="6.3" text-anchor="middle" fill="#111" color="#111">17</text>
<text x="445.8" y="1055.2" font-size="6.3" text-anchor="middle" fill="#111" color="#111">14</text>
<line x1="445.8" y1="1058.1" x2="445.8" y2="1060.2" stroke="#222" stroke-width="0.8"/>
<text x="445.8" y="1065.6" font-size="6.2" text-anchor="middle" fill="#333" color="#333">60</text>
<text x="402.5" y="1073.1" font-size="7" text-anchor="middle" fill="#111" color="#111">Time</text>
<text x="638" y="620.4" font-size="6.6" text-anchor="middle" fill="#000" color="#000" font-weight="bold">TCGA-LIHC</text>
<text x="583.2" y="634.6" font-size="6.2" text-anchor="start" fill="#222" color="#222">Group</text>
<rect x="607.2" y="630.4" width="6.4" height="4.2" fill="#fff" stroke="#5b6fa0" stroke-width="0.8"/>
<line x1="607.2" y1="632.5" x2="613.6" y2="632.5" stroke="#5b6fa0" stroke-width="0.8"/>
<line x1="610.4" y1="629.2" x2="610.4" y2="630.4" stroke="#5b6fa0" stroke-width="0.8"/>
<line x1="610.4" y1="634.6" x2="610.4" y2="635.8" stroke="#5b6fa0" stroke-width="0.8"/>
<text x="618.2" y="634.5" font-size="5.3" text-anchor="start" fill="#222" color="#222">Cirrhosis</text>
<rect x="644.4" y="630.4" width="6.4" height="4.2" fill="#fff" stroke="#cc756c" stroke-width="0.8"/>
<line x1="644.4" y1="632.5" x2="650.8" y2="632.5" stroke="#cc756c" stroke-width="0.8"/>
<line x1="647.6" y1="629.2" x2="647.6" y2="630.4" stroke="#cc756c" stroke-width="0.8"/>
<line x1="647.6" y1="634.6" x2="647.6" y2="635.8" stroke="#cc756c" stroke-width="0.8"/>
<text x="655.4" y="634.5" font-size="5.3" text-anchor="start" fill="#222" color="#222">Normal</text>
<line x1="519.6" y1="650.2" x2="519.6" y2="808.4" stroke="#333" stroke-width="0.9"/>
<line x1="519.6" y1="808.4" x2="731" y2="808.4" stroke="#333" stroke-width="0.9"/>
<line x1="517.6" y1="801.1" x2="519.6" y2="801.1" stroke="#333" stroke-width="0.8"/>
<text x="517" y="803.3" font-size="6.3" text-anchor="end" fill="#333" color="#333">0.0</text>
<line x1="517.6" y1="759.6" x2="519.6" y2="759.6" stroke="#333" stroke-width="0.8"/>
<text x="517" y="761.8" font-size="6.3" text-anchor="end" fill="#333" color="#333">2.5</text>
<line x1="517.6" y1="718.1" x2="519.6" y2="718.1" stroke="#333" stroke-width="0.8"/>
<text x="517" y="720.3" font-size="6.3" text-anchor="end" fill="#333" color="#333">5.0</text>
<line x1="517.6" y1="676.6" x2="519.6" y2="676.6" stroke="#333" stroke-width="0.8"/>
<text x="517" y="678.8" font-size="6.3" text-anchor="end" fill="#333" color="#333">7.5</text>
<text x="504" y="785" font-size="5.95" text-anchor="middle" fill="#111" color="#111" transform="rotate(-90 504 785)">Gene expression(log2 Transformed)</text>
<line x1="535.5" y1="808.4" x2="535.5" y2="810.4" stroke="#333" stroke-width="0.8"/>
<text x="538.9" y="816" font-size="7" text-anchor="end" fill="#111" color="#111" transform="rotate(-45 538.9 816)">YAP1</text>
<line x1="530.15" y1="716.4" x2="530.15" y2="740.6" stroke="#5b6fa0" stroke-width="0.8"/>
<line x1="530.15" y1="758.2" x2="530.15" y2="777.9" stroke="#5b6fa0" stroke-width="0.8"/>
<rect x="525.6" y="740.6" width="9.1" height="17.6" fill="#fff" stroke="#5b6fa0" stroke-width="0.8"/>
<line x1="525.6" y1="751.3" x2="534.7" y2="751.3" stroke="#5b6fa0" stroke-width="0.9"/>
<circle cx="530.15" cy="710.1" r="1.05" fill="#2d4a85" stroke="none" stroke-width="1"/>
<line x1="540.85" y1="724.3" x2="540.85" y2="743.4" stroke="#cc756c" stroke-width="0.8"/>
<line x1="540.85" y1="761" x2="540.85" y2="783.4" stroke="#cc756c" stroke-width="0.8"/>
<rect x="536.3" y="743.4" width="9.1" height="17.6" fill="#fff" stroke="#cc756c" stroke-width="0.8"/>
<line x1="536.3" y1="754.1" x2="545.4" y2="754.1" stroke="#cc756c" stroke-width="0.9"/>
<circle cx="540.85" cy="709.3" r="1.05" fill="#b83a32" stroke="none" stroke-width="1"/>
<text x="535.5" y="657.5" font-size="5.6" text-anchor="middle" fill="#222" color="#222">ns</text>
<line x1="561.2" y1="808.4" x2="561.2" y2="810.4" stroke="#333" stroke-width="0.8"/>
<text x="564.6" y="816" font-size="7" text-anchor="end" fill="#111" color="#111" transform="rotate(-45 564.6 816)">LOXL2</text>
<line x1="555.85" y1="754.7" x2="555.85" y2="768.4" stroke="#5b6fa0" stroke-width="0.8"/>
<line x1="555.85" y1="781.5" x2="555.85" y2="795.2" stroke="#5b6fa0" stroke-width="0.8"/>
<rect x="551.3" y="768.4" width="9.1" height="13.1" fill="#fff" stroke="#5b6fa0" stroke-width="0.8"/>
<line x1="551.3" y1="775.9" x2="560.4" y2="775.9" stroke="#5b6fa0" stroke-width="0.9"/>
<circle cx="555.85" cy="733" r="1.05" fill="#2d4a85" stroke="none" stroke-width="1"/>
<circle cx="555.85" cy="743.7" r="1.05" fill="#2d4a85" stroke="none" stroke-width="1"/>
<line x1="566.55" y1="744" x2="566.55" y2="770.3" stroke="#cc756c" stroke-width="0.8"/>
<line x1="566.55" y1="788.1" x2="566.55" y2="799.5" stroke="#cc756c" stroke-width="0.8"/>
<rect x="562" y="770.3" width="9.1" height="17.8" fill="#fff" stroke="#cc756c" stroke-width="0.8"/>
<line x1="562" y1="782.3" x2="571.1" y2="782.3" stroke="#cc756c" stroke-width="0.9"/>
<text x="561.2" y="658.7" font-size="5" text-anchor="middle" fill="#222" color="#222">*</text>
<line x1="586.9" y1="808.4" x2="586.9" y2="810.4" stroke="#333" stroke-width="0.8"/>
<text x="590.3" y="816" font-size="7" text-anchor="end" fill="#111" color="#111" transform="rotate(-45 590.3 816)">ACADL</text>
<line x1="581.55" y1="745.3" x2="581.55" y2="767" stroke="#5b6fa0" stroke-width="0.8"/>
<line x1="581.55" y1="790.2" x2="581.55" y2="801.1" stroke="#5b6fa0" stroke-width="0.8"/>
<rect x="577" y="767" width="9.1" height="23.2" fill="#fff" stroke="#5b6fa0" stroke-width="0.8"/>
<line x1="577" y1="774.9" x2="586.1" y2="774.9" stroke="#5b6fa0" stroke-width="0.9"/>
<line x1="592.25" y1="733.3" x2="592.25" y2="757.4" stroke="#cc756c" stroke-width="0.8"/>
<line x1="592.25" y1="784.7" x2="592.25" y2="801.1" stroke="#cc756c" stroke-width="0.8"/>
<rect x="587.7" y="757.4" width="9.1" height="27.3" fill="#fff" stroke="#cc756c" stroke-width="0.8"/>
<line x1="587.7" y1="768.1" x2="596.8" y2="768.1" stroke="#cc756c" stroke-width="0.9"/>
<text x="586.9" y="658.7" font-size="5" text-anchor="middle" fill="#222" color="#222">**</text>
<line x1="612.6" y1="808.4" x2="612.6" y2="810.4" stroke="#333" stroke-width="0.8"/>
<text x="616" y="816" font-size="7" text-anchor="end" fill="#111" color="#111" transform="rotate(-45 616 816)">ACTA2</text>
<line x1="607.25" y1="694.4" x2="607.25" y2="712.5" stroke="#5b6fa0" stroke-width="0.8"/>
<line x1="607.25" y1="736.1" x2="607.25" y2="764.5" stroke="#5b6fa0" stroke-width="0.8"/>
<rect x="602.7" y="712.5" width="9.1" height="23.6" fill="#fff" stroke="#5b6fa0" stroke-width="0.8"/>
<line x1="602.7" y1="721.6" x2="611.8" y2="721.6" stroke="#5b6fa0" stroke-width="0.9"/>
<line x1="617.95" y1="691.2" x2="617.95" y2="717.5" stroke="#cc756c" stroke-width="0.8"/>
<line x1="617.95" y1="738.5" x2="617.95" y2="757.9" stroke="#cc756c" stroke-width="0.8"/>
<rect x="613.4" y="717.5" width="9.1" height="21" fill="#fff" stroke="#cc756c" stroke-width="0.8"/>
<line x1="613.4" y1="727.2" x2="622.5" y2="727.2" stroke="#cc756c" stroke-width="0.9"/>
<circle cx="617.95" cy="664" r="1.05" fill="#b83a32" stroke="none" stroke-width="1"/>
<circle cx="617.95" cy="673.6" r="1.05" fill="#b83a32" stroke="none" stroke-width="1"/>
<circle cx="617.95" cy="680.5" r="1.05" fill="#b83a32" stroke="none" stroke-width="1"/>
<circle cx="617.95" cy="684.9" r="1.05" fill="#b83a32" stroke="none" stroke-width="1"/>
<text x="612.6" y="657.5" font-size="5.6" text-anchor="middle" fill="#222" color="#222">ns</text>
<line x1="638.3" y1="808.4" x2="638.3" y2="810.4" stroke="#333" stroke-width="0.8"/>
<text x="641.7" y="816" font-size="7" text-anchor="end" fill="#111" color="#111" transform="rotate(-45 641.7 816)">LUM</text>
<line x1="632.95" y1="685.3" x2="632.95" y2="734.2" stroke="#5b6fa0" stroke-width="0.8"/>
<line x1="632.95" y1="790.3" x2="632.95" y2="801" stroke="#5b6fa0" stroke-width="0.8"/>
<rect x="628.4" y="734.2" width="9.1" height="56.1" fill="#fff" stroke="#5b6fa0" stroke-width="0.8"/>
<line x1="628.4" y1="755.3" x2="637.5" y2="755.3" stroke="#5b6fa0" stroke-width="0.9"/>
<line x1="643.65" y1="691.3" x2="643.65" y2="738.2" stroke="#cc756c" stroke-width="0.8"/>
<line x1="643.65" y1="779.1" x2="643.65" y2="801" stroke="#cc756c" stroke-width="0.8"/>
<rect x="639.1" y="738.2" width="9.1" height="40.9" fill="#fff" stroke="#cc756c" stroke-width="0.8"/>
<line x1="639.1" y1="755.3" x2="648.2" y2="755.3" stroke="#cc756c" stroke-width="0.9"/>
<circle cx="643.65" cy="674.1" r="1.05" fill="#b83a32" stroke="none" stroke-width="1"/>
<text x="638.3" y="657.5" font-size="5.6" text-anchor="middle" fill="#222" color="#222">ns</text>
<line x1="664" y1="808.4" x2="664" y2="810.4" stroke="#333" stroke-width="0.8"/>
<text x="667.4" y="816" font-size="7" text-anchor="end" fill="#111" color="#111" transform="rotate(-45 667.4 816)">VCAN</text>
<line x1="658.65" y1="759.4" x2="658.65" y2="780.2" stroke="#5b6fa0" stroke-width="0.8"/>
<line x1="658.65" y1="797.5" x2="658.65" y2="800.2" stroke="#5b6fa0" stroke-width="0.8"/>
<rect x="654.1" y="780.2" width="9.1" height="17.3" fill="#fff" stroke="#5b6fa0" stroke-width="0.8"/>
<line x1="654.1" y1="789.8" x2="663.2" y2="789.8" stroke="#5b6fa0" stroke-width="0.9"/>
<circle cx="658.65" cy="729.4" r="1.05" fill="#2d4a85" stroke="none" stroke-width="1"/>
<circle cx="658.65" cy="745.7" r="1.05" fill="#2d4a85" stroke="none" stroke-width="1"/>
<circle cx="658.65" cy="749.4" r="1.05" fill="#2d4a85" stroke="none" stroke-width="1"/>
<circle cx="658.65" cy="752.9" r="1.05" fill="#2d4a85" stroke="none" stroke-width="1"/>
<line x1="669.35" y1="755" x2="669.35" y2="779.4" stroke="#cc756c" stroke-width="0.8"/>
<line x1="669.35" y1="797" x2="669.35" y2="800.2" stroke="#cc756c" stroke-width="0.8"/>
<rect x="664.8" y="779.4" width="9.1" height="17.6" fill="#fff" stroke="#cc756c" stroke-width="0.8"/>
<line x1="664.8" y1="793.8" x2="673.9" y2="793.8" stroke="#cc756c" stroke-width="0.9"/>
<circle cx="669.35" cy="700.6" r="1.05" fill="#b83a32" stroke="none" stroke-width="1"/>
<circle cx="669.35" cy="707.3" r="1.05" fill="#b83a32" stroke="none" stroke-width="1"/>
<circle cx="669.35" cy="731.6" r="1.05" fill="#b83a32" stroke="none" stroke-width="1"/>
<circle cx="669.35" cy="743.8" r="1.05" fill="#b83a32" stroke="none" stroke-width="1"/>
<circle cx="669.35" cy="748.1" r="1.05" fill="#b83a32" stroke="none" stroke-width="1"/>
<circle cx="669.35" cy="750.5" r="1.05" fill="#b83a32" stroke="none" stroke-width="1"/>
<text x="664" y="657.5" font-size="5.6" text-anchor="middle" fill="#222" color="#222">ns</text>
<line x1="689.7" y1="808.4" x2="689.7" y2="810.4" stroke="#333" stroke-width="0.8"/>
<text x="693.1" y="816" font-size="7" text-anchor="end" fill="#111" color="#111" transform="rotate(-45 693.1 816)">COL1A1</text>
<line x1="684.35" y1="672" x2="684.35" y2="715" stroke="#5b6fa0" stroke-width="0.8"/>
<line x1="684.35" y1="755.3" x2="684.35" y2="793.8" stroke="#5b6fa0" stroke-width="0.8"/>
<rect x="679.8" y="715" width="9.1" height="40.3" fill="#fff" stroke="#5b6fa0" stroke-width="0.8"/>
<line x1="679.8" y1="734.2" x2="688.9" y2="734.2" stroke="#5b6fa0" stroke-width="0.9"/>
<line x1="695.05" y1="667.2" x2="695.05" y2="721.4" stroke="#cc756c" stroke-width="0.8"/>
<line x1="695.05" y1="758.6" x2="695.05" y2="798.6" stroke="#cc756c" stroke-width="0.8"/>
<rect x="690.5" y="721.4" width="9.1" height="37.2" fill="#fff" stroke="#cc756c" stroke-width="0.8"/>
<line x1="690.5" y1="745.4" x2="699.6" y2="745.4" stroke="#cc756c" stroke-width="0.9"/>
<circle cx="695.05" cy="657.3" r="1.05" fill="#b83a32" stroke="none" stroke-width="1"/>
<circle cx="695.05" cy="658.9" r="1.05" fill="#b83a32" stroke="none" stroke-width="1"/>
<text x="689.7" y="657.5" font-size="5.6" text-anchor="middle" fill="#222" color="#222">ns</text>
<line x1="715.4" y1="808.4" x2="715.4" y2="810.4" stroke="#333" stroke-width="0.8"/>
<text x="718.8" y="816" font-size="7" text-anchor="end" fill="#111" color="#111" transform="rotate(-45 718.8 816)">TEAD4</text>
<line x1="710.05" y1="751.5" x2="710.05" y2="771.4" stroke="#5b6fa0" stroke-width="0.8"/>
<line x1="710.05" y1="788.7" x2="710.05" y2="795.4" stroke="#5b6fa0" stroke-width="0.8"/>
<rect x="705.5" y="771.4" width="9.1" height="17.3" fill="#fff" stroke="#5b6fa0" stroke-width="0.8"/>
<line x1="705.5" y1="783.4" x2="714.6" y2="783.4" stroke="#5b6fa0" stroke-width="0.9"/>
<circle cx="710.05" cy="740.9" r="1.05" fill="#2d4a85" stroke="none" stroke-width="1"/>
<circle cx="710.05" cy="746.1" r="1.05" fill="#2d4a85" stroke="none" stroke-width="1"/>
<line x1="720.75" y1="750.5" x2="720.75" y2="773.3" stroke="#cc756c" stroke-width="0.8"/>
<line x1="720.75" y1="790.9" x2="720.75" y2="797.8" stroke="#cc756c" stroke-width="0.8"/>
<rect x="716.2" y="773.3" width="9.1" height="17.6" fill="#fff" stroke="#cc756c" stroke-width="0.8"/>
<line x1="716.2" y1="784.5" x2="725.3" y2="784.5" stroke="#cc756c" stroke-width="0.9"/>
<circle cx="720.75" cy="735.3" r="1.05" fill="#b83a32" stroke="none" stroke-width="1"/>
<circle cx="720.75" cy="738" r="1.05" fill="#b83a32" stroke="none" stroke-width="1"/>
<circle cx="720.75" cy="740.9" r="1.05" fill="#b83a32" stroke="none" stroke-width="1"/>
<text x="715.4" y="657.5" font-size="5.6" text-anchor="middle" fill="#222" color="#222">ns</text>
<text x="638" y="852.9" font-size="6.6" text-anchor="middle" fill="#000" color="#000" font-weight="bold">GSE14520</text>
<text x="583.2" y="870.7" font-size="6.2" text-anchor="start" fill="#222" color="#222">Group</text>
<rect x="607.2" y="866.5" width="6.4" height="4.2" fill="#fff" stroke="#5b6fa0" stroke-width="0.8"/>
<line x1="607.2" y1="868.6" x2="613.6" y2="868.6" stroke="#5b6fa0" stroke-width="0.8"/>
<line x1="610.4" y1="865.3" x2="610.4" y2="866.5" stroke="#5b6fa0" stroke-width="0.8"/>
<line x1="610.4" y1="870.7" x2="610.4" y2="871.9" stroke="#5b6fa0" stroke-width="0.8"/>
<text x="618.2" y="870.6" font-size="5.3" text-anchor="start" fill="#222" color="#222">Cirrhosis</text>
<rect x="644.4" y="866.5" width="6.4" height="4.2" fill="#fff" stroke="#cc756c" stroke-width="0.8"/>
<line x1="644.4" y1="868.6" x2="650.8" y2="868.6" stroke="#cc756c" stroke-width="0.8"/>
<line x1="647.6" y1="865.3" x2="647.6" y2="866.5" stroke="#cc756c" stroke-width="0.8"/>
<line x1="647.6" y1="870.7" x2="647.6" y2="871.9" stroke="#cc756c" stroke-width="0.8"/>
<text x="655.4" y="870.6" font-size="5.3" text-anchor="start" fill="#222" color="#222">Normal</text>
<line x1="521.5" y1="879.7" x2="521.5" y2="1053.7" stroke="#333" stroke-width="0.9"/>
<line x1="521.5" y1="1053.7" x2="743" y2="1053.7" stroke="#333" stroke-width="0.9"/>
<line x1="519.5" y1="1052" x2="521.5" y2="1052" stroke="#333" stroke-width="0.8"/>
<text x="518.9" y="1054.2" font-size="6.3" text-anchor="end" fill="#333" color="#333">2.5</text>
<line x1="519.5" y1="1012.98" x2="521.5" y2="1012.98" stroke="#333" stroke-width="0.8"/>
<text x="518.9" y="1015.18" font-size="6.3" text-anchor="end" fill="#333" color="#333">5.0</text>
<line x1="519.5" y1="973.95" x2="521.5" y2="973.95" stroke="#333" stroke-width="0.8"/>
<text x="518.9" y="976.15" font-size="6.3" text-anchor="end" fill="#333" color="#333">7.5</text>
<line x1="519.5" y1="934.92" x2="521.5" y2="934.92" stroke="#333" stroke-width="0.8"/>
<text x="518.9" y="937.12" font-size="6.3" text-anchor="end" fill="#333" color="#333">10.0</text>
<line x1="519.5" y1="895.9" x2="521.5" y2="895.9" stroke="#333" stroke-width="0.8"/>
<text x="518.9" y="898.1" font-size="6.3" text-anchor="end" fill="#333" color="#333">12.5</text>
<text x="503.7" y="954.9" font-size="5.95" text-anchor="middle" fill="#111" color="#111" transform="rotate(-90 503.7 954.9)">Gene expression(log2 Transformed)</text>
<line x1="538" y1="1053.7" x2="538" y2="1055.7" stroke="#333" stroke-width="0.8"/>
<text x="544" y="1059" font-size="5.7" text-anchor="end" fill="#111" color="#111" transform="rotate(-45 544 1059)">ACTA2</text>
<line x1="532.65" y1="918.4" x2="532.65" y2="942.2" stroke="#5b6fa0" stroke-width="0.8"/>
<line x1="532.65" y1="960.3" x2="532.65" y2="983.5" stroke="#5b6fa0" stroke-width="0.8"/>
<rect x="528.1" y="942.2" width="9.1" height="18.1" fill="#fff" stroke="#5b6fa0" stroke-width="0.8"/>
<line x1="528.1" y1="949.3" x2="537.2" y2="949.3" stroke="#5b6fa0" stroke-width="0.9"/>
<circle cx="532.65" cy="886.8" r="1.05" fill="#2d4a85" stroke="none" stroke-width="1"/>
<circle cx="532.65" cy="892.6" r="1.05" fill="#2d4a85" stroke="none" stroke-width="1"/>
<circle cx="532.65" cy="912.9" r="1.05" fill="#2d4a85" stroke="none" stroke-width="1"/>
<circle cx="532.65" cy="915.7" r="1.05" fill="#2d4a85" stroke="none" stroke-width="1"/>
<circle cx="532.65" cy="991.2" r="1.05" fill="#2d4a85" stroke="none" stroke-width="1"/>
<circle cx="532.65" cy="996.3" r="1.05" fill="#2d4a85" stroke="none" stroke-width="1"/>
<line x1="543.35" y1="937.2" x2="543.35" y2="949.7" stroke="#cc756c" stroke-width="0.8"/>
<line x1="543.35" y1="969.2" x2="543.35" y2="987.5" stroke="#cc756c" stroke-width="0.8"/>
<rect x="538.8" y="949.7" width="9.1" height="19.5" fill="#fff" stroke="#cc756c" stroke-width="0.8"/>
<line x1="538.8" y1="957.5" x2="547.9" y2="957.5" stroke="#cc756c" stroke-width="0.9"/>
<circle cx="543.35" cy="918.4" r="1.05" fill="#b83a32" stroke="none" stroke-width="1"/>
<text x="538" y="886.8" font-size="5.6" text-anchor="middle" fill="#222" color="#222">ns</text>
<line x1="565" y1="1053.7" x2="565" y2="1055.7" stroke="#333" stroke-width="0.8"/>
<text x="571" y="1059" font-size="5.7" text-anchor="end" fill="#111" color="#111" transform="rotate(-45 571 1059)">LUM</text>
<line x1="559.65" y1="925" x2="559.65" y2="963.2" stroke="#5b6fa0" stroke-width="0.8"/>
<line x1="559.65" y1="1022.2" x2="559.65" y2="1045.3" stroke="#5b6fa0" stroke-width="0.8"/>
<rect x="555.1" y="963.2" width="9.1" height="59" fill="#fff" stroke="#5b6fa0" stroke-width="0.8"/>
<line x1="555.1" y1="985.3" x2="564.2" y2="985.3" stroke="#5b6fa0" stroke-width="0.9"/>
<line x1="570.35" y1="932.3" x2="570.35" y2="985.7" stroke="#cc756c" stroke-width="0.8"/>
<line x1="570.35" y1="1036.1" x2="570.35" y2="1044.2" stroke="#cc756c" stroke-width="0.8"/>
<rect x="565.8" y="985.7" width="9.1" height="50.4" fill="#fff" stroke="#cc756c" stroke-width="0.8"/>
<line x1="565.8" y1="1021.5" x2="574.9" y2="1021.5" stroke="#cc756c" stroke-width="0.9"/>
<text x="565" y="888" font-size="5" text-anchor="middle" fill="#222" color="#222">*</text>
<line x1="592" y1="1053.7" x2="592" y2="1055.7" stroke="#333" stroke-width="0.8"/>
<text x="598" y="1059" font-size="5.7" text-anchor="end" fill="#111" color="#111" transform="rotate(-45 598 1059)">COL1A1</text>
<line x1="586.65" y1="911.8" x2="586.65" y2="955.5" stroke="#5b6fa0" stroke-width="0.8"/>
<line x1="586.65" y1="989.5" x2="586.65" y2="1038.3" stroke="#5b6fa0" stroke-width="0.8"/>
<rect x="582.1" y="955.5" width="9.1" height="34" fill="#fff" stroke="#5b6fa0" stroke-width="0.8"/>
<line x1="582.1" y1="973.1" x2="591.2" y2="973.1" stroke="#5b6fa0" stroke-width="0.9"/>
<line x1="597.35" y1="958.1" x2="597.35" y2="980.9" stroke="#cc756c" stroke-width="0.8"/>
<line x1="597.35" y1="1003.8" x2="597.35" y2="1018.4" stroke="#cc756c" stroke-width="0.8"/>
<rect x="592.8" y="980.9" width="9.1" height="22.9" fill="#fff" stroke="#cc756c" stroke-width="0.8"/>
<line x1="592.8" y1="992.4" x2="601.9" y2="992.4" stroke="#cc756c" stroke-width="0.9"/>
<circle cx="597.35" cy="925.7" r="1.05" fill="#b83a32" stroke="none" stroke-width="1"/>
<text x="592" y="888" font-size="5" text-anchor="middle" fill="#222" color="#222">**</text>
<line x1="619" y1="1053.7" x2="619" y2="1055.7" stroke="#333" stroke-width="0.8"/>
<text x="625" y="1059" font-size="5.7" text-anchor="end" fill="#111" color="#111" transform="rotate(-45 625 1059)">LOXL2</text>
<line x1="613.65" y1="982.4" x2="613.65" y2="1000.2" stroke="#5b6fa0" stroke-width="0.8"/>
<line x1="613.65" y1="1014.8" x2="613.65" y2="1029.9" stroke="#5b6fa0" stroke-width="0.8"/>
<rect x="609.1" y="1000.2" width="9.1" height="14.6" fill="#fff" stroke="#5b6fa0" stroke-width="0.8"/>
<line x1="609.1" y1="1008.1" x2="618.2" y2="1008.1" stroke="#5b6fa0" stroke-width="0.9"/>
<circle cx="613.65" cy="960.1" r="1.05" fill="#2d4a85" stroke="none" stroke-width="1"/>
<circle cx="613.65" cy="973.9" r="1.05" fill="#2d4a85" stroke="none" stroke-width="1"/>
<circle cx="613.65" cy="976.9" r="1.05" fill="#2d4a85" stroke="none" stroke-width="1"/>
<circle cx="613.65" cy="979.8" r="1.05" fill="#2d4a85" stroke="none" stroke-width="1"/>
<line x1="624.35" y1="1008.7" x2="624.35" y2="1013.4" stroke="#cc756c" stroke-width="0.8"/>
<line x1="624.35" y1="1018.8" x2="624.35" y2="1024.3" stroke="#cc756c" stroke-width="0.8"/>
<rect x="619.8" y="1013.4" width="9.1" height="5.4" fill="#fff" stroke="#cc756c" stroke-width="0.8"/>
<line x1="619.8" y1="1016.4" x2="628.9" y2="1016.4" stroke="#cc756c" stroke-width="0.9"/>
<circle cx="624.35" cy="976.3" r="1.05" fill="#b83a32" stroke="none" stroke-width="1"/>
<text x="619" y="888" font-size="5" text-anchor="middle" fill="#222" color="#222">*</text>
<line x1="646" y1="1053.7" x2="646" y2="1055.7" stroke="#333" stroke-width="0.8"/>
<text x="652" y="1059" font-size="5.7" text-anchor="end" fill="#111" color="#111" transform="rotate(-45 652 1059)">TEAD4</text>
<line x1="640.65" y1="1001.5" x2="640.65" y2="1012.7" stroke="#5b6fa0" stroke-width="0.8"/>
<line x1="640.65" y1="1019.8" x2="640.65" y2="1026.9" stroke="#5b6fa0" stroke-width="0.8"/>
<rect x="636.1" y="1012.7" width="9.1" height="7.1" fill="#fff" stroke="#5b6fa0" stroke-width="0.8"/>
<line x1="636.1" y1="1016.8" x2="645.2" y2="1016.8" stroke="#5b6fa0" stroke-width="0.9"/>
<circle cx="640.65" cy="996" r="1.05" fill="#2d4a85" stroke="none" stroke-width="1"/>
<circle cx="640.65" cy="998" r="1.05" fill="#2d4a85" stroke="none" stroke-width="1"/>
<circle cx="640.65" cy="999.8" r="1.05" fill="#2d4a85" stroke="none" stroke-width="1"/>
<circle cx="640.65" cy="1001.6" r="1.05" fill="#2d4a85" stroke="none" stroke-width="1"/>
<circle cx="640.65" cy="1031" r="1.05" fill="#2d4a85" stroke="none" stroke-width="1"/>
<line x1="651.35" y1="1011.7" x2="651.35" y2="1015.4" stroke="#cc756c" stroke-width="0.8"/>
<line x1="651.35" y1="1019.4" x2="651.35" y2="1022.9" stroke="#cc756c" stroke-width="0.8"/>
<rect x="646.8" y="1015.4" width="9.1" height="4" fill="#fff" stroke="#cc756c" stroke-width="0.8"/>
<line x1="646.8" y1="1017.4" x2="655.9" y2="1017.4" stroke="#cc756c" stroke-width="0.9"/>
<circle cx="651.35" cy="1008.7" r="1.05" fill="#b83a32" stroke="none" stroke-width="1"/>
<text x="646" y="886.8" font-size="5.6" text-anchor="middle" fill="#222" color="#222">ns</text>
<line x1="673" y1="1053.7" x2="673" y2="1055.7" stroke="#333" stroke-width="0.8"/>
<text x="679" y="1059" font-size="5.7" text-anchor="end" fill="#111" color="#111" transform="rotate(-45 679 1059)">ACADL</text>
<line x1="667.65" y1="956.1" x2="667.65" y2="997.6" stroke="#5b6fa0" stroke-width="0.8"/>
<line x1="667.65" y1="1022.9" x2="667.65" y2="1035" stroke="#5b6fa0" stroke-width="0.8"/>
<rect x="663.1" y="997.6" width="9.1" height="25.3" fill="#fff" stroke="#5b6fa0" stroke-width="0.8"/>
<line x1="663.1" y1="1012.7" x2="672.2" y2="1012.7" stroke="#5b6fa0" stroke-width="0.9"/>
<circle cx="667.65" cy="956.5" r="1.05" fill="#2d4a85" stroke="none" stroke-width="1"/>
<line x1="678.35" y1="980.4" x2="678.35" y2="983.4" stroke="#cc756c" stroke-width="0.8"/>
<line x1="678.35" y1="1018.2" x2="678.35" y2="1029.5" stroke="#cc756c" stroke-width="0.8"/>
<rect x="673.8" y="983.4" width="9.1" height="34.8" fill="#fff" stroke="#cc756c" stroke-width="0.8"/>
<line x1="673.8" y1="1008.1" x2="682.9" y2="1008.1" stroke="#cc756c" stroke-width="0.9"/>
<text x="673" y="888" font-size="5" text-anchor="middle" fill="#222" color="#222">*</text>
<line x1="700" y1="1053.7" x2="700" y2="1055.7" stroke="#333" stroke-width="0.8"/>
<text x="706" y="1059" font-size="5.7" text-anchor="end" fill="#111" color="#111" transform="rotate(-45 706 1059)">YAP1</text>
<line x1="694.65" y1="975.3" x2="694.65" y2="1001.6" stroke="#5b6fa0" stroke-width="0.8"/>
<line x1="694.65" y1="1020.4" x2="694.65" y2="1044.5" stroke="#5b6fa0" stroke-width="0.8"/>
<rect x="690.1" y="1001.6" width="9.1" height="18.8" fill="#fff" stroke="#5b6fa0" stroke-width="0.8"/>
<line x1="690.1" y1="1012.1" x2="699.2" y2="1012.1" stroke="#5b6fa0" stroke-width="0.9"/>
<circle cx="694.65" cy="966.2" r="1.05" fill="#2d4a85" stroke="none" stroke-width="1"/>
<circle cx="694.65" cy="968.2" r="1.05" fill="#2d4a85" stroke="none" stroke-width="1"/>
<circle cx="694.65" cy="970.3" r="1.05" fill="#2d4a85" stroke="none" stroke-width="1"/>
<line x1="705.35" y1="993.5" x2="705.35" y2="1005.3" stroke="#cc756c" stroke-width="0.8"/>
<line x1="705.35" y1="1019.8" x2="705.35" y2="1031.6" stroke="#cc756c" stroke-width="0.8"/>
<rect x="700.8" y="1005.3" width="9.1" height="14.5" fill="#fff" stroke="#cc756c" stroke-width="0.8"/>
<line x1="700.8" y1="1010.3" x2="709.9" y2="1010.3" stroke="#cc756c" stroke-width="0.9"/>
<circle cx="705.35" cy="938.5" r="1.05" fill="#b83a32" stroke="none" stroke-width="1"/>
<text x="700" y="886.8" font-size="5.6" text-anchor="middle" fill="#222" color="#222">ns</text>
<line x1="727" y1="1053.7" x2="727" y2="1055.7" stroke="#333" stroke-width="0.8"/>
<text x="733" y="1059" font-size="5.7" text-anchor="end" fill="#111" color="#111" transform="rotate(-45 733 1059)">VCAN</text>
<line x1="721.65" y1="917.7" x2="721.65" y2="976.3" stroke="#5b6fa0" stroke-width="0.8"/>
<line x1="721.65" y1="1021.4" x2="721.65" y2="1041.1" stroke="#5b6fa0" stroke-width="0.8"/>
<rect x="717.1" y="976.3" width="9.1" height="45.1" fill="#fff" stroke="#5b6fa0" stroke-width="0.8"/>
<line x1="717.1" y1="999.6" x2="726.2" y2="999.6" stroke="#5b6fa0" stroke-width="0.9"/>
<line x1="732.35" y1="936.5" x2="732.35" y2="990.5" stroke="#cc756c" stroke-width="0.8"/>
<line x1="732.35" y1="1027.5" x2="732.35" y2="1042.1" stroke="#cc756c" stroke-width="0.8"/>
<rect x="727.8" y="990.5" width="9.1" height="37" fill="#fff" stroke="#cc756c" stroke-width="0.8"/>
<line x1="727.8" y1="1017.2" x2="736.9" y2="1017.2" stroke="#cc756c" stroke-width="0.9"/>
<text x="727" y="886.8" font-size="5.6" text-anchor="middle" fill="#222" color="#222">ns</text>
</svg>
</body></html>
